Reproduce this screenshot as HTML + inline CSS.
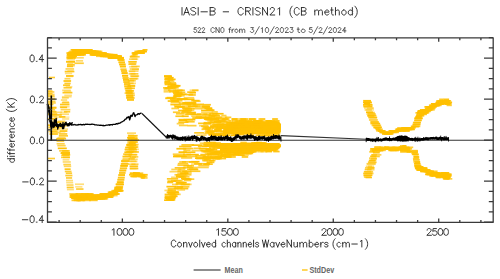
<!DOCTYPE html>
<html><head><meta charset="utf-8"><style>
html,body{margin:0;padding:0;background:#fff;width:500px;height:279px;overflow:hidden}
svg{display:block}
</style></head><body>
<svg width="500" height="279" viewBox="0 0 500 279">
<rect width="500" height="279" fill="#fff"/>
<g fill="#ffc000">
<polygon points="70.0,54.5 71.5,51.8 73.5,50.0 76.0,49.2 85.0,49.4 95.0,50.4 103.0,52.2 110.0,53.8 117.0,55.2 121.0,57.5 123.0,61.0 117.0,58.2 110.0,57.2 103.0,56.2 95.0,54.6 85.0,53.0 78.0,54.0 75.0,56.5 72.0,58.0 70.0,58.5" fill="#ffc000"/>
<polygon points="133.0,52.8 137.0,51.5 141.0,50.3 145.0,49.8 145.0,52.3 138.0,54.3 133.0,55.3" fill="#ffc000"/>
<polygon points="71.0,194.5 75.0,194.8 80.0,195.2 85.0,194.8 95.0,195.6 105.0,194.8 110.0,193.3 115.0,191.3 118.0,188.5 120.0,189.5 118.0,192.8 115.0,194.6 110.0,196.6 105.0,198.2 95.0,199.2 80.0,199.8 74.0,199.6 71.0,198.8" fill="#ffc000"/>
<polygon points="133.0,172.0 138.0,172.5 145.0,174.5 145.0,177.3 140.0,177.3 133.0,175.5" fill="#ffc000"/>
<polygon points="226.0,125.0 235.0,121.5 245.0,121.0 256.0,120.5 265.0,121.5 275.0,121.0 279.0,121.5 281.0,124.0 281.0,132.0 279.0,134.0 222.0,134.0" fill="#ffc000"/>
<polygon points="220.0,143.0 279.0,143.0 281.0,144.5 281.0,147.0 279.0,148.5 255.0,149.0 245.0,153.5 230.0,153.0 220.0,152.0" fill="#ffc000"/>
<polygon points="364.0,102.3 370.0,102.8 370.0,106.2 364.0,104.2" fill="#ffc000"/>
<polygon points="378.0,128.3 385.0,132.1 390.0,132.1 395.0,130.3 400.0,128.6 405.0,127.6 410.0,128.0 414.0,126.8 414.0,129.7 410.0,130.0 405.0,130.0 400.0,131.0 395.0,132.5 390.0,133.7 385.0,134.0 378.0,130.7" fill="#ffc000"/>
<polygon points="419.0,112.8 422.0,111.1 428.0,107.3 435.0,102.8 442.0,99.8 446.0,100.1 450.0,101.8 450.0,104.7 446.0,103.5 442.0,103.2 435.0,106.7 428.0,111.2 422.0,115.2 419.0,118.2" fill="#ffc000"/>
<polygon points="372.0,149.0 375.0,147.6 385.0,147.6 395.0,147.1 400.0,146.5 405.0,146.5 410.0,147.3 410.0,152.2 405.0,151.2 400.0,151.0 397.0,149.5 390.0,149.0 380.0,149.5 372.0,151.2" fill="#ffc000"/>
<polygon points="417.0,165.8 420.0,166.8 430.0,170.6 440.0,173.4 447.0,173.3 450.0,173.8 450.0,178.7 447.0,179.0 440.0,177.0 430.0,174.7 420.0,169.7 417.0,167.7" fill="#ffc000"/>
<rect x="68.0" y="51.5" width="7.0" height="1.7" fill-opacity="0.68"/>
<rect x="67.5" y="53.3" width="7.5" height="1.7" fill-opacity="0.71"/>
<rect x="67.0" y="55.6" width="8.0" height="1.7" fill-opacity="0.60"/>
<rect x="66.6" y="58.5" width="8.4" height="1.7" fill-opacity="0.47"/>
<rect x="66.1" y="60.9" width="8.9" height="1.7" fill-opacity="0.76"/>
<rect x="67.3" y="62.8" width="6.1" height="1.7" fill-opacity="0.55"/>
<rect x="66.9" y="65.5" width="6.1" height="1.7" fill-opacity="0.87"/>
<rect x="65.5" y="68.1" width="8.6" height="1.7" fill-opacity="0.68"/>
<rect x="64.7" y="70.7" width="9.7" height="1.7" fill-opacity="0.87"/>
<rect x="64.9" y="72.6" width="7.3" height="1.7" fill-opacity="0.49"/>
<rect x="66.0" y="75.1" width="7.6" height="1.7" fill-opacity="0.93"/>
<rect x="64.5" y="77.9" width="6.0" height="1.7" fill-opacity="0.68"/>
<rect x="63.5" y="80.1" width="7.6" height="1.7" fill-opacity="0.84"/>
<rect x="64.4" y="82.7" width="6.3" height="1.7" fill-opacity="0.83"/>
<rect x="63.0" y="84.4" width="7.0" height="1.7" fill-opacity="0.85"/>
<rect x="63.5" y="86.9" width="8.2" height="1.7" fill-opacity="0.82"/>
<rect x="62.2" y="89.5" width="8.6" height="1.7" fill-opacity="0.56"/>
<rect x="62.5" y="91.8" width="9.9" height="1.7" fill-opacity="0.89"/>
<rect x="64.3" y="94.5" width="7.6" height="1.7" fill-opacity="0.50"/>
<rect x="61.9" y="97.0" width="6.9" height="1.7" fill-opacity="0.61"/>
<rect x="60.9" y="99.2" width="6.3" height="1.7" fill-opacity="0.57"/>
<rect x="61.8" y="101.9" width="7.5" height="1.7" fill-opacity="0.69"/>
<rect x="60.0" y="103.7" width="9.5" height="1.7" fill-opacity="0.90"/>
<rect x="60.1" y="106.5" width="7.0" height="1.7" fill-opacity="0.92"/>
<rect x="60.6" y="108.8" width="9.8" height="1.7" fill-opacity="0.66"/>
<rect x="64.0" y="110.9" width="6.2" height="1.7" fill-opacity="0.80"/>
<rect x="59.7" y="113.4" width="9.3" height="1.7" fill-opacity="0.54"/>
<rect x="59.1" y="116.0" width="6.3" height="1.7" fill-opacity="0.88"/>
<rect x="62.1" y="118.1" width="7.1" height="1.7" fill-opacity="0.46"/>
<rect x="57.5" y="120.5" width="7.8" height="1.7" fill-opacity="0.63"/>
<rect x="59.0" y="123.5" width="6.5" height="1.7" fill-opacity="0.94"/>
<rect x="58.8" y="125.3" width="8.8" height="1.7" fill-opacity="0.47"/>
<rect x="58.4" y="128.3" width="9.6" height="1.7" fill-opacity="0.46"/>
<rect x="59.5" y="130.2" width="7.9" height="1.7" fill-opacity="0.95"/>
<rect x="59.1" y="133.1" width="8.2" height="1.7" fill-opacity="0.82"/>
<rect x="58.8" y="135.0" width="9.2" height="1.7" fill-opacity="0.79"/>
<rect x="56.6" y="137.8" width="9.5" height="1.7" fill-opacity="0.88"/>
<rect x="68.0" y="55.1" width="8.0" height="1.7" fill-opacity="0.47"/>
<rect x="68.4" y="60.6" width="6.3" height="1.7" fill-opacity="0.56"/>
<rect x="67.1" y="65.4" width="7.6" height="1.7" fill-opacity="0.43"/>
<rect x="67.4" y="70.1" width="6.3" height="1.7" fill-opacity="0.48"/>
<rect x="66.2" y="75.5" width="6.9" height="1.7" fill-opacity="0.48"/>
<rect x="63.8" y="80.5" width="7.0" height="1.7" fill-opacity="0.50"/>
<rect x="65.7" y="85.9" width="6.7" height="1.7" fill-opacity="0.43"/>
<rect x="63.9" y="90.6" width="7.3" height="1.7" fill-opacity="0.43"/>
<rect x="61.9" y="95.9" width="9.7" height="1.7" fill-opacity="0.47"/>
<rect x="62.4" y="101.3" width="6.5" height="1.7" fill-opacity="0.55"/>
<rect x="59.8" y="105.9" width="9.8" height="1.7" fill-opacity="0.44"/>
<rect x="60.5" y="111.4" width="6.9" height="1.7" fill-opacity="0.45"/>
<rect x="60.0" y="116.3" width="9.4" height="1.7" fill-opacity="0.32"/>
<rect x="57.1" y="121.6" width="9.5" height="1.7" fill-opacity="0.47"/>
<rect x="56.2" y="126.3" width="9.2" height="1.7" fill-opacity="0.44"/>
<rect x="56.0" y="131.4" width="9.3" height="1.7" fill-opacity="0.31"/>
<rect x="57.6" y="136.9" width="7.8" height="1.7" fill-opacity="0.54"/>
<rect x="49.0" y="76.7" width="6.0" height="1.6" fill-opacity="0.80"/>
<rect x="47.5" y="90.2" width="5.0" height="1.6" fill-opacity="0.80"/>
<rect x="47.5" y="92.7" width="5.0" height="1.6" fill-opacity="0.80"/>
<rect x="47.5" y="95.2" width="7.0" height="1.6" fill-opacity="0.80"/>
<rect x="47.5" y="103.7" width="6.0" height="1.6" fill-opacity="0.80"/>
<rect x="47.5" y="107.2" width="6.0" height="1.6" fill-opacity="0.80"/>
<rect x="48.0" y="157.7" width="7.0" height="1.6" fill-opacity="0.80"/>
<rect x="47.5" y="91.1" width="6.8" height="1.7" fill-opacity="0.36"/>
<rect x="47.5" y="91.1" width="6.8" height="1.7" fill-opacity="0.49"/>
<rect x="47.5" y="93.6" width="7.1" height="1.7" fill-opacity="0.66"/>
<rect x="47.5" y="96.1" width="7.4" height="1.7" fill-opacity="0.39"/>
<rect x="47.5" y="98.1" width="7.7" height="1.7" fill-opacity="0.80"/>
<rect x="47.5" y="100.5" width="8.0" height="1.7" fill-opacity="0.75"/>
<rect x="47.5" y="102.1" width="8.3" height="1.7" fill-opacity="0.71"/>
<rect x="47.5" y="107.1" width="8.9" height="1.7" fill-opacity="0.84"/>
<rect x="47.5" y="106.6" width="8.9" height="1.7" fill-opacity="0.80"/>
<rect x="48.8" y="109.0" width="6.3" height="1.7" fill-opacity="0.73"/>
<rect x="50.2" y="110.8" width="6.1" height="1.7" fill-opacity="0.75"/>
<rect x="49.2" y="110.9" width="7.3" height="1.7" fill-opacity="0.42"/>
<rect x="48.2" y="113.5" width="8.9" height="1.7" fill-opacity="0.82"/>
<rect x="47.5" y="113.0" width="9.8" height="1.7" fill-opacity="0.46"/>
<rect x="49.6" y="115.7" width="7.2" height="1.7" fill-opacity="0.61"/>
<rect x="48.6" y="118.0" width="7.2" height="1.7" fill-opacity="0.80"/>
<rect x="48.3" y="117.8" width="9.4" height="1.7" fill-opacity="0.64"/>
<rect x="48.7" y="120.0" width="8.1" height="1.7" fill-opacity="0.36"/>
<rect x="50.0" y="122.2" width="7.6" height="1.7" fill-opacity="0.60"/>
<rect x="48.7" y="124.7" width="8.2" height="1.7" fill-opacity="0.81"/>
<rect x="47.9" y="124.3" width="7.9" height="1.7" fill-opacity="0.76"/>
<rect x="48.3" y="126.6" width="7.3" height="1.7" fill-opacity="0.81"/>
<rect x="47.6" y="128.5" width="9.1" height="1.7" fill-opacity="0.46"/>
<rect x="50.2" y="130.6" width="7.4" height="1.7" fill-opacity="0.72"/>
<rect x="48.4" y="130.7" width="8.0" height="1.7" fill-opacity="0.62"/>
<rect x="49.4" y="133.2" width="7.5" height="1.7" fill-opacity="0.43"/>
<rect x="49.7" y="133.2" width="8.5" height="1.7" fill-opacity="0.78"/>
<rect x="52.8" y="111.5" width="9.0" height="1.7" fill-opacity="0.56"/>
<rect x="52.1" y="114.1" width="9.7" height="1.7" fill-opacity="0.84"/>
<rect x="54.2" y="116.2" width="7.0" height="1.7" fill-opacity="0.45"/>
<rect x="52.1" y="121.5" width="9.2" height="1.7" fill-opacity="0.74"/>
<rect x="54.2" y="124.5" width="6.8" height="1.7" fill-opacity="0.88"/>
<rect x="53.5" y="126.8" width="8.0" height="1.7" fill-opacity="0.74"/>
<rect x="52.4" y="129.0" width="6.3" height="1.7" fill-opacity="0.68"/>
<rect x="52.3" y="131.7" width="8.3" height="1.7" fill-opacity="0.50"/>
<rect x="66.9" y="53.9" width="5.2" height="1.7" fill-opacity="0.99"/>
<rect x="66.3" y="57.0" width="6.3" height="1.7" fill-opacity="0.84"/>
<rect x="66.4" y="55.4" width="7.4" height="1.7" fill-opacity="0.70"/>
<rect x="67.2" y="57.0" width="5.7" height="1.7" fill-opacity="0.84"/>
<rect x="67.8" y="53.9" width="5.8" height="1.7" fill-opacity="0.75"/>
<rect x="66.4" y="52.2" width="8.6" height="1.7" fill-opacity="0.94"/>
<rect x="67.5" y="57.0" width="7.5" height="1.7" fill-opacity="0.82"/>
<rect x="66.8" y="53.9" width="8.9" height="1.7" fill-opacity="0.94"/>
<rect x="67.9" y="57.0" width="8.0" height="1.7" fill-opacity="0.93"/>
<rect x="67.6" y="52.2" width="8.6" height="1.7" fill-opacity="0.96"/>
<rect x="68.5" y="55.4" width="8.1" height="1.7" fill-opacity="0.82"/>
<rect x="69.3" y="50.6" width="6.4" height="1.7" fill-opacity="0.84"/>
<rect x="69.3" y="52.2" width="7.6" height="1.7" fill-opacity="0.89"/>
<rect x="69.3" y="55.4" width="7.7" height="1.7" fill-opacity="0.80"/>
<rect x="70.1" y="53.9" width="7.1" height="1.7" fill-opacity="0.82"/>
<rect x="69.8" y="53.9" width="7.8" height="1.7" fill-opacity="0.93"/>
<rect x="70.6" y="49.0" width="7.5" height="1.7" fill-opacity="0.92"/>
<rect x="71.7" y="52.2" width="5.2" height="1.7" fill-opacity="0.76"/>
<rect x="71.9" y="49.0" width="6.0" height="1.7" fill-opacity="0.97"/>
<rect x="70.5" y="52.2" width="8.9" height="1.7" fill-opacity="0.87"/>
<rect x="71.4" y="52.2" width="8.2" height="1.7" fill-opacity="0.72"/>
<rect x="72.9" y="53.9" width="5.2" height="1.7" fill-opacity="0.98"/>
<rect x="73.3" y="52.2" width="5.7" height="1.7" fill-opacity="0.85"/>
<rect x="71.7" y="49.0" width="8.8" height="1.7" fill-opacity="0.83"/>
<rect x="73.5" y="52.2" width="6.5" height="1.7" fill-opacity="0.79"/>
<rect x="73.6" y="52.2" width="6.1" height="1.7" fill-opacity="0.91"/>
<rect x="74.3" y="49.0" width="6.0" height="1.7" fill-opacity="0.71"/>
<rect x="74.0" y="53.9" width="6.6" height="1.7" fill-opacity="0.97"/>
<rect x="73.4" y="49.0" width="9.0" height="1.7" fill-opacity="0.98"/>
<rect x="74.5" y="53.9" width="6.7" height="1.7" fill-opacity="0.84"/>
<rect x="75.0" y="50.6" width="7.1" height="1.7" fill-opacity="0.98"/>
<rect x="74.0" y="50.6" width="8.9" height="1.7" fill-opacity="0.95"/>
<rect x="75.4" y="49.0" width="7.5" height="1.7" fill-opacity="0.84"/>
<rect x="75.5" y="49.0" width="7.1" height="1.7" fill-opacity="0.74"/>
<rect x="76.3" y="52.2" width="6.8" height="1.7" fill-opacity="0.78"/>
<rect x="75.6" y="50.6" width="8.1" height="1.7" fill-opacity="0.86"/>
<rect x="76.3" y="53.9" width="7.9" height="1.7" fill-opacity="0.77"/>
<rect x="76.2" y="53.9" width="8.1" height="1.7" fill-opacity="0.89"/>
<rect x="77.0" y="50.6" width="7.7" height="1.7" fill-opacity="0.87"/>
<rect x="76.9" y="52.2" width="8.0" height="1.7" fill-opacity="0.76"/>
<rect x="77.2" y="53.9" width="8.7" height="1.7" fill-opacity="0.96"/>
<rect x="78.5" y="49.0" width="6.1" height="1.7" fill-opacity="0.83"/>
<rect x="78.5" y="49.0" width="7.2" height="1.7" fill-opacity="0.72"/>
<rect x="78.5" y="52.2" width="7.2" height="1.7" fill-opacity="0.89"/>
<rect x="79.8" y="50.6" width="5.8" height="1.7" fill-opacity="0.80"/>
<rect x="80.1" y="52.2" width="5.3" height="1.7" fill-opacity="0.74"/>
<rect x="79.3" y="50.6" width="8.1" height="1.7" fill-opacity="0.76"/>
<rect x="79.2" y="49.0" width="8.2" height="1.7" fill-opacity="0.81"/>
<rect x="80.7" y="52.2" width="6.3" height="1.7" fill-opacity="0.86"/>
<rect x="80.5" y="52.2" width="6.7" height="1.7" fill-opacity="0.81"/>
<rect x="81.8" y="52.2" width="5.3" height="1.7" fill-opacity="0.72"/>
<rect x="80.6" y="50.6" width="7.7" height="1.7" fill-opacity="0.79"/>
<rect x="82.2" y="49.0" width="5.9" height="1.7" fill-opacity="0.90"/>
<rect x="81.2" y="49.0" width="7.9" height="1.7" fill-opacity="0.91"/>
<rect x="82.5" y="49.0" width="6.4" height="1.7" fill-opacity="0.92"/>
<rect x="81.8" y="49.0" width="7.8" height="1.7" fill-opacity="0.87"/>
<rect x="82.0" y="52.2" width="8.7" height="1.7" fill-opacity="0.83"/>
<rect x="83.2" y="50.6" width="6.3" height="1.7" fill-opacity="0.82"/>
<rect x="83.9" y="52.2" width="6.0" height="1.7" fill-opacity="0.81"/>
<rect x="83.6" y="50.6" width="6.6" height="1.7" fill-opacity="0.82"/>
<rect x="83.4" y="50.6" width="8.2" height="1.7" fill-opacity="0.86"/>
<rect x="84.6" y="50.6" width="5.7" height="1.7" fill-opacity="0.93"/>
<rect x="85.6" y="50.6" width="5.1" height="1.7" fill-opacity="0.85"/>
<rect x="83.7" y="50.6" width="8.9" height="1.7" fill-opacity="0.90"/>
<rect x="85.1" y="49.0" width="7.2" height="1.7" fill-opacity="0.94"/>
<rect x="84.7" y="49.0" width="7.9" height="1.7" fill-opacity="0.97"/>
<rect x="86.5" y="52.2" width="5.6" height="1.7" fill-opacity="0.92"/>
<rect x="86.4" y="50.6" width="5.9" height="1.7" fill-opacity="0.93"/>
<rect x="86.6" y="52.2" width="6.6" height="1.7" fill-opacity="0.80"/>
<rect x="86.4" y="52.2" width="7.0" height="1.7" fill-opacity="0.86"/>
<rect x="86.2" y="52.2" width="8.7" height="1.7" fill-opacity="0.82"/>
<rect x="86.3" y="52.2" width="8.4" height="1.7" fill-opacity="0.94"/>
<rect x="86.7" y="52.2" width="8.8" height="1.7" fill-opacity="0.89"/>
<rect x="87.0" y="52.2" width="8.2" height="1.7" fill-opacity="0.83"/>
<rect x="87.7" y="50.6" width="8.0" height="1.7" fill-opacity="1.00"/>
<rect x="88.8" y="50.6" width="5.8" height="1.7" fill-opacity="0.83"/>
<rect x="89.7" y="53.9" width="5.2" height="1.7" fill-opacity="0.79"/>
<rect x="88.2" y="52.2" width="8.1" height="1.7" fill-opacity="0.75"/>
<rect x="89.2" y="52.2" width="7.3" height="1.7" fill-opacity="0.97"/>
<rect x="90.0" y="50.6" width="5.7" height="1.7" fill-opacity="0.77"/>
<rect x="89.8" y="52.2" width="7.4" height="1.7" fill-opacity="0.77"/>
<rect x="90.7" y="50.6" width="5.7" height="1.7" fill-opacity="0.93"/>
<rect x="90.0" y="52.2" width="8.3" height="1.7" fill-opacity="0.84"/>
<rect x="89.8" y="53.9" width="8.7" height="1.7" fill-opacity="0.80"/>
<rect x="91.2" y="53.9" width="6.9" height="1.7" fill-opacity="0.77"/>
<rect x="90.6" y="53.9" width="8.2" height="1.7" fill-opacity="0.82"/>
<rect x="92.3" y="52.2" width="6.1" height="1.7" fill-opacity="1.00"/>
<rect x="92.8" y="50.6" width="5.0" height="1.7" fill-opacity="0.84"/>
<rect x="92.0" y="53.9" width="7.9" height="1.7" fill-opacity="0.88"/>
<rect x="92.8" y="50.6" width="6.3" height="1.7" fill-opacity="0.78"/>
<rect x="92.7" y="52.2" width="7.5" height="1.7" fill-opacity="1.00"/>
<rect x="93.7" y="52.2" width="5.6" height="1.7" fill-opacity="0.93"/>
<rect x="92.9" y="53.9" width="8.4" height="1.7" fill-opacity="0.95"/>
<rect x="93.2" y="50.6" width="7.9" height="1.7" fill-opacity="0.73"/>
<rect x="93.3" y="52.2" width="8.8" height="1.7" fill-opacity="0.88"/>
<rect x="93.6" y="52.2" width="8.2" height="1.7" fill-opacity="0.83"/>
<rect x="94.1" y="50.6" width="8.3" height="1.7" fill-opacity="0.76"/>
<rect x="95.5" y="52.2" width="5.6" height="1.7" fill-opacity="0.95"/>
<rect x="96.2" y="52.2" width="5.3" height="1.7" fill-opacity="0.79"/>
<rect x="95.7" y="53.9" width="6.4" height="1.7" fill-opacity="0.91"/>
<rect x="96.1" y="52.2" width="6.8" height="1.7" fill-opacity="0.99"/>
<rect x="97.0" y="53.9" width="5.0" height="1.7" fill-opacity="0.81"/>
<rect x="96.5" y="52.2" width="7.3" height="1.7" fill-opacity="0.84"/>
<rect x="96.0" y="55.4" width="8.2" height="1.7" fill-opacity="0.76"/>
<rect x="97.4" y="52.2" width="6.5" height="1.7" fill-opacity="0.86"/>
<rect x="97.4" y="52.2" width="6.6" height="1.7" fill-opacity="0.90"/>
<rect x="97.3" y="52.2" width="7.9" height="1.7" fill-opacity="0.80"/>
<rect x="97.4" y="53.9" width="7.9" height="1.7" fill-opacity="0.80"/>
<rect x="99.1" y="52.2" width="5.6" height="1.7" fill-opacity="0.73"/>
<rect x="99.0" y="53.9" width="5.7" height="1.7" fill-opacity="0.82"/>
<rect x="99.8" y="53.9" width="5.4" height="1.7" fill-opacity="0.77"/>
<rect x="99.2" y="52.2" width="6.6" height="1.7" fill-opacity="0.72"/>
<rect x="99.6" y="53.9" width="7.0" height="1.7" fill-opacity="0.89"/>
<rect x="99.8" y="55.4" width="6.5" height="1.7" fill-opacity="0.80"/>
<rect x="100.4" y="52.2" width="6.6" height="1.7" fill-opacity="0.91"/>
<rect x="99.9" y="55.4" width="7.6" height="1.7" fill-opacity="0.88"/>
<rect x="101.1" y="53.9" width="6.4" height="1.7" fill-opacity="0.90"/>
<rect x="100.8" y="53.9" width="7.0" height="1.7" fill-opacity="0.94"/>
<rect x="102.1" y="53.9" width="5.6" height="1.7" fill-opacity="0.93"/>
<rect x="101.7" y="53.9" width="6.4" height="1.7" fill-opacity="0.85"/>
<rect x="101.0" y="55.4" width="8.9" height="1.7" fill-opacity="0.85"/>
<rect x="102.6" y="55.4" width="5.8" height="1.7" fill-opacity="0.98"/>
<rect x="103.4" y="53.9" width="5.3" height="1.7" fill-opacity="0.77"/>
<rect x="102.9" y="55.4" width="6.3" height="1.7" fill-opacity="0.98"/>
<rect x="104.0" y="53.9" width="5.5" height="1.7" fill-opacity="0.99"/>
<rect x="103.1" y="55.4" width="7.2" height="1.7" fill-opacity="0.87"/>
<rect x="103.0" y="53.9" width="8.6" height="1.7" fill-opacity="1.00"/>
<rect x="104.6" y="55.4" width="5.5" height="1.7" fill-opacity="0.95"/>
<rect x="104.9" y="55.4" width="6.0" height="1.7" fill-opacity="0.87"/>
<rect x="104.3" y="53.9" width="7.2" height="1.7" fill-opacity="0.72"/>
<rect x="104.0" y="53.9" width="8.9" height="1.7" fill-opacity="0.98"/>
<rect x="104.7" y="53.9" width="7.7" height="1.7" fill-opacity="0.92"/>
<rect x="105.0" y="55.4" width="8.2" height="1.7" fill-opacity="0.70"/>
<rect x="106.3" y="55.4" width="5.6" height="1.7" fill-opacity="0.82"/>
<rect x="106.2" y="53.9" width="7.1" height="1.7" fill-opacity="0.78"/>
<rect x="105.9" y="53.9" width="7.6" height="1.7" fill-opacity="0.71"/>
<rect x="105.9" y="53.9" width="8.8" height="1.7" fill-opacity="0.88"/>
<rect x="106.6" y="55.4" width="7.5" height="1.7" fill-opacity="0.91"/>
<rect x="107.4" y="55.4" width="6.9" height="1.7" fill-opacity="1.00"/>
<rect x="107.6" y="57.0" width="6.6" height="1.7" fill-opacity="0.83"/>
<rect x="107.9" y="57.0" width="7.1" height="1.7" fill-opacity="0.86"/>
<rect x="108.4" y="57.0" width="6.3" height="1.7" fill-opacity="0.72"/>
<rect x="108.1" y="57.0" width="7.9" height="1.7" fill-opacity="0.88"/>
<rect x="108.4" y="55.4" width="7.4" height="1.7" fill-opacity="0.72"/>
<rect x="109.2" y="55.4" width="7.0" height="1.7" fill-opacity="0.82"/>
<rect x="109.1" y="55.4" width="7.1" height="1.7" fill-opacity="0.77"/>
<rect x="110.3" y="55.4" width="5.9" height="1.7" fill-opacity="0.72"/>
<rect x="109.5" y="57.0" width="7.7" height="1.7" fill-opacity="0.96"/>
<rect x="111.0" y="57.0" width="5.9" height="1.7" fill-opacity="0.92"/>
<rect x="111.2" y="57.0" width="5.4" height="1.7" fill-opacity="0.94"/>
<rect x="110.1" y="55.4" width="8.8" height="1.7" fill-opacity="0.70"/>
<rect x="111.4" y="55.4" width="6.3" height="1.7" fill-opacity="0.72"/>
<rect x="111.8" y="57.0" width="6.6" height="1.7" fill-opacity="0.81"/>
<rect x="112.5" y="53.9" width="5.1" height="1.7" fill-opacity="0.97"/>
<rect x="111.3" y="55.4" width="8.7" height="1.7" fill-opacity="0.99"/>
<rect x="112.6" y="55.4" width="6.2" height="1.7" fill-opacity="0.98"/>
<rect x="112.1" y="55.4" width="8.4" height="1.7" fill-opacity="0.81"/>
<rect x="112.0" y="55.4" width="8.5" height="1.7" fill-opacity="1.00"/>
<rect x="114.0" y="57.0" width="5.8" height="1.7" fill-opacity="0.96"/>
<rect x="112.9" y="55.4" width="7.9" height="1.7" fill-opacity="0.79"/>
<rect x="113.6" y="57.0" width="7.9" height="1.7" fill-opacity="0.74"/>
<rect x="114.1" y="57.0" width="6.8" height="1.7" fill-opacity="0.72"/>
<rect x="114.2" y="55.4" width="7.8" height="1.7" fill-opacity="0.76"/>
<rect x="114.3" y="55.4" width="7.7" height="1.7" fill-opacity="0.94"/>
<rect x="114.4" y="57.0" width="8.5" height="1.7" fill-opacity="0.88"/>
<rect x="114.3" y="57.0" width="8.7" height="1.7" fill-opacity="0.90"/>
<rect x="116.6" y="57.0" width="5.4" height="1.7" fill-opacity="0.99"/>
<rect x="115.7" y="57.0" width="7.1" height="1.7" fill-opacity="0.71"/>
<rect x="116.9" y="57.0" width="6.0" height="1.7" fill-opacity="0.94"/>
<rect x="115.9" y="57.0" width="8.0" height="1.7" fill-opacity="0.77"/>
<rect x="117.6" y="58.6" width="5.7" height="1.7" fill-opacity="0.97"/>
<rect x="117.1" y="57.0" width="6.8" height="1.7" fill-opacity="0.93"/>
<rect x="74.1" y="56.9" width="9.7" height="1.7" fill-opacity="0.60"/>
<rect x="75.7" y="60.0" width="7.4" height="1.7" fill-opacity="0.58"/>
<rect x="74.4" y="62.4" width="9.4" height="1.7" fill-opacity="0.78"/>
<rect x="66.0" y="60.9" width="9.0" height="1.7" fill-opacity="0.74"/>
<rect x="67.0" y="64.0" width="7.8" height="1.7" fill-opacity="0.82"/>
<rect x="117.0" y="56.9" width="7.0" height="1.7" fill-opacity="0.81"/>
<rect x="117.5" y="57.3" width="6.1" height="1.7" fill-opacity="0.81"/>
<rect x="117.7" y="59.0" width="6.7" height="1.7" fill-opacity="0.77"/>
<rect x="117.7" y="59.2" width="6.8" height="1.7" fill-opacity="0.91"/>
<rect x="118.5" y="61.6" width="6.5" height="1.7" fill-opacity="0.79"/>
<rect x="118.5" y="61.3" width="6.5" height="1.7" fill-opacity="0.69"/>
<rect x="119.2" y="63.8" width="6.3" height="1.7" fill-opacity="0.79"/>
<rect x="119.2" y="63.4" width="6.3" height="1.7" fill-opacity="0.92"/>
<rect x="119.9" y="65.7" width="6.0" height="1.7" fill-opacity="0.86"/>
<rect x="119.9" y="65.6" width="6.0" height="1.7" fill-opacity="0.73"/>
<rect x="120.5" y="68.5" width="6.0" height="1.7" fill-opacity="0.57"/>
<rect x="120.5" y="68.5" width="6.0" height="1.7" fill-opacity="0.62"/>
<rect x="121.1" y="70.0" width="6.0" height="1.7" fill-opacity="0.66"/>
<rect x="121.1" y="70.3" width="6.0" height="1.7" fill-opacity="0.68"/>
<rect x="121.6" y="72.2" width="6.0" height="1.7" fill-opacity="1.00"/>
<rect x="121.6" y="72.3" width="6.0" height="1.7" fill-opacity="0.66"/>
<rect x="122.1" y="74.7" width="6.0" height="1.7" fill-opacity="0.97"/>
<rect x="122.1" y="75.1" width="6.0" height="1.7" fill-opacity="0.82"/>
<rect x="122.6" y="77.1" width="6.0" height="1.7" fill-opacity="0.58"/>
<rect x="122.6" y="77.2" width="6.0" height="1.7" fill-opacity="0.82"/>
<rect x="123.0" y="79.1" width="6.0" height="1.7" fill-opacity="0.93"/>
<rect x="123.0" y="78.9" width="6.0" height="1.7" fill-opacity="0.71"/>
<rect x="123.4" y="81.1" width="6.2" height="1.7" fill-opacity="0.64"/>
<rect x="123.4" y="81.2" width="6.2" height="1.7" fill-opacity="0.75"/>
<rect x="123.9" y="83.8" width="6.4" height="1.7" fill-opacity="0.64"/>
<rect x="124.0" y="83.4" width="6.3" height="1.7" fill-opacity="0.67"/>
<rect x="124.3" y="85.6" width="6.7" height="1.7" fill-opacity="0.73"/>
<rect x="124.3" y="85.6" width="6.7" height="1.7" fill-opacity="0.71"/>
<rect x="124.8" y="87.8" width="6.9" height="1.7" fill-opacity="0.89"/>
<rect x="124.8" y="87.6" width="6.9" height="1.7" fill-opacity="0.69"/>
<rect x="125.8" y="90.0" width="6.3" height="1.7" fill-opacity="0.90"/>
<rect x="125.5" y="89.9" width="6.2" height="1.7" fill-opacity="0.57"/>
<rect x="125.6" y="92.0" width="7.0" height="1.7" fill-opacity="0.69"/>
<rect x="125.6" y="92.1" width="7.0" height="1.7" fill-opacity="0.87"/>
<rect x="126.1" y="94.7" width="7.0" height="1.7" fill-opacity="0.62"/>
<rect x="126.1" y="94.7" width="7.0" height="1.7" fill-opacity="0.73"/>
<rect x="126.5" y="96.5" width="7.0" height="1.7" fill-opacity="0.68"/>
<rect x="126.5" y="96.4" width="6.9" height="1.7" fill-opacity="0.83"/>
<rect x="127.0" y="99.3" width="7.0" height="1.7" fill-opacity="0.68"/>
<rect x="127.0" y="98.7" width="7.0" height="1.7" fill-opacity="0.86"/>
<rect x="129.9" y="55.9" width="9.8" height="1.7" fill-opacity="0.77"/>
<rect x="129.7" y="55.8" width="7.7" height="1.7" fill-opacity="0.64"/>
<rect x="129.1" y="58.3" width="8.0" height="1.7" fill-opacity="0.65"/>
<rect x="131.5" y="58.3" width="6.7" height="1.7" fill-opacity="0.50"/>
<rect x="128.7" y="61.0" width="7.7" height="1.7" fill-opacity="0.80"/>
<rect x="128.1" y="60.9" width="8.8" height="1.7" fill-opacity="0.63"/>
<rect x="128.3" y="63.3" width="7.6" height="1.7" fill-opacity="0.74"/>
<rect x="129.2" y="63.0" width="7.3" height="1.7" fill-opacity="0.62"/>
<rect x="129.1" y="65.9" width="8.3" height="1.7" fill-opacity="0.54"/>
<rect x="131.2" y="65.6" width="8.5" height="1.7" fill-opacity="0.74"/>
<rect x="129.7" y="68.2" width="9.1" height="1.7" fill-opacity="0.66"/>
<rect x="131.9" y="68.5" width="7.1" height="1.7" fill-opacity="0.64"/>
<rect x="129.1" y="70.6" width="6.2" height="1.7" fill-opacity="0.60"/>
<rect x="128.6" y="70.3" width="9.9" height="1.7" fill-opacity="0.56"/>
<rect x="128.6" y="73.0" width="6.9" height="1.7" fill-opacity="0.65"/>
<rect x="130.4" y="73.0" width="8.0" height="1.7" fill-opacity="0.76"/>
<rect x="129.9" y="75.2" width="9.3" height="1.7" fill-opacity="0.62"/>
<rect x="131.1" y="75.5" width="7.3" height="1.7" fill-opacity="0.79"/>
<rect x="129.1" y="77.8" width="9.3" height="1.7" fill-opacity="0.70"/>
<rect x="129.7" y="77.9" width="7.5" height="1.7" fill-opacity="0.72"/>
<rect x="128.8" y="79.9" width="7.0" height="1.7" fill-opacity="0.71"/>
<rect x="127.8" y="79.8" width="6.3" height="1.7" fill-opacity="0.80"/>
<rect x="128.2" y="82.5" width="7.8" height="1.7" fill-opacity="0.53"/>
<rect x="124.1" y="82.4" width="9.5" height="1.7" fill-opacity="0.70"/>
<rect x="127.5" y="84.8" width="7.6" height="1.7" fill-opacity="0.81"/>
<rect x="127.9" y="85.2" width="7.3" height="1.7" fill-opacity="0.86"/>
<rect x="127.2" y="87.4" width="7.7" height="1.7" fill-opacity="0.87"/>
<rect x="126.0" y="87.5" width="6.5" height="1.7" fill-opacity="0.57"/>
<rect x="127.5" y="90.1" width="6.1" height="1.7" fill-opacity="0.94"/>
<rect x="125.3" y="89.9" width="8.8" height="1.7" fill-opacity="0.65"/>
<rect x="124.4" y="92.3" width="10.0" height="1.7" fill-opacity="0.51"/>
<rect x="127.5" y="92.5" width="7.1" height="1.7" fill-opacity="0.51"/>
<rect x="127.3" y="94.5" width="6.1" height="1.7" fill-opacity="0.64"/>
<rect x="125.8" y="94.4" width="9.2" height="1.7" fill-opacity="0.65"/>
<rect x="126.2" y="97.3" width="8.4" height="1.7" fill-opacity="0.64"/>
<rect x="126.3" y="96.7" width="8.2" height="1.7" fill-opacity="0.54"/>
<rect x="130.6" y="55.4" width="4.8" height="1.7" fill-opacity="0.85"/>
<rect x="131.6" y="52.2" width="4.1" height="1.7" fill-opacity="0.87"/>
<rect x="131.8" y="53.9" width="4.8" height="1.7" fill-opacity="0.77"/>
<rect x="132.4" y="52.2" width="4.8" height="1.7" fill-opacity="0.72"/>
<rect x="132.9" y="53.9" width="4.9" height="1.7" fill-opacity="0.72"/>
<rect x="132.5" y="52.2" width="7.0" height="1.7" fill-opacity="0.76"/>
<rect x="134.0" y="52.2" width="5.2" height="1.7" fill-opacity="0.94"/>
<rect x="134.4" y="50.6" width="5.7" height="1.7" fill-opacity="0.90"/>
<rect x="134.4" y="52.2" width="6.8" height="1.7" fill-opacity="0.96"/>
<rect x="135.1" y="52.2" width="6.5" height="1.7" fill-opacity="0.92"/>
<rect x="136.7" y="50.6" width="4.5" height="1.7" fill-opacity="0.74"/>
<rect x="136.5" y="50.6" width="6.3" height="1.7" fill-opacity="0.79"/>
<rect x="137.9" y="50.6" width="4.6" height="1.7" fill-opacity="0.99"/>
<rect x="137.6" y="52.2" width="6.4" height="1.7" fill-opacity="0.94"/>
<rect x="138.2" y="50.6" width="6.4" height="1.7" fill-opacity="0.95"/>
<rect x="139.8" y="52.2" width="4.3" height="1.7" fill-opacity="0.99"/>
<rect x="140.2" y="52.2" width="4.8" height="1.7" fill-opacity="0.97"/>
<rect x="140.9" y="50.6" width="4.7" height="1.7" fill-opacity="0.82"/>
<rect x="140.6" y="50.6" width="6.4" height="1.7" fill-opacity="0.81"/>
<rect x="142.0" y="50.6" width="4.8" height="1.7" fill-opacity="0.97"/>
<rect x="142.5" y="49.0" width="5.0" height="1.7" fill-opacity="0.92"/>
<rect x="127.0" y="132.3" width="9.0" height="1.7" fill-opacity="0.59"/>
<rect x="127.7" y="134.4" width="6.6" height="1.7" fill-opacity="0.50"/>
<rect x="127.1" y="136.8" width="7.6" height="1.7" fill-opacity="0.98"/>
<rect x="126.3" y="139.3" width="9.5" height="1.7" fill-opacity="0.55"/>
<rect x="129.9" y="141.1" width="7.7" height="1.7" fill-opacity="0.70"/>
<rect x="126.5" y="143.8" width="6.7" height="1.7" fill-opacity="0.97"/>
<rect x="126.9" y="146.3" width="6.7" height="1.7" fill-opacity="0.57"/>
<rect x="128.5" y="148.0" width="7.5" height="1.7" fill-opacity="0.81"/>
<rect x="127.2" y="150.6" width="9.4" height="1.7" fill-opacity="0.78"/>
<rect x="56.0" y="138.3" width="8.0" height="1.7" fill-opacity="0.70"/>
<rect x="56.5" y="140.2" width="7.7" height="1.7" fill-opacity="0.78"/>
<rect x="56.6" y="142.9" width="8.1" height="1.7" fill-opacity="0.70"/>
<rect x="57.3" y="144.8" width="8.4" height="1.7" fill-opacity="0.71"/>
<rect x="57.8" y="147.5" width="9.0" height="1.7" fill-opacity="0.99"/>
<rect x="59.1" y="150.0" width="9.5" height="1.7" fill-opacity="0.72"/>
<rect x="60.5" y="152.3" width="9.4" height="1.7" fill-opacity="0.91"/>
<rect x="62.2" y="153.9" width="8.0" height="1.7" fill-opacity="0.93"/>
<rect x="63.0" y="156.5" width="7.0" height="1.7" fill-opacity="0.74"/>
<rect x="62.6" y="159.0" width="6.8" height="1.7" fill-opacity="0.49"/>
<rect x="62.7" y="161.1" width="8.1" height="1.7" fill-opacity="0.58"/>
<rect x="63.3" y="163.7" width="7.6" height="1.7" fill-opacity="0.75"/>
<rect x="63.8" y="165.5" width="7.4" height="1.7" fill-opacity="0.65"/>
<rect x="64.6" y="168.3" width="6.1" height="1.7" fill-opacity="0.91"/>
<rect x="64.8" y="170.6" width="6.7" height="1.7" fill-opacity="0.79"/>
<rect x="65.8" y="172.4" width="6.3" height="1.7" fill-opacity="0.80"/>
<rect x="65.3" y="174.7" width="7.1" height="1.7" fill-opacity="0.82"/>
<rect x="66.0" y="177.1" width="6.1" height="1.7" fill-opacity="0.80"/>
<rect x="66.0" y="179.7" width="7.0" height="1.7" fill-opacity="0.55"/>
<rect x="66.2" y="181.8" width="7.0" height="1.7" fill-opacity="0.52"/>
<rect x="66.5" y="184.2" width="7.0" height="1.7" fill-opacity="0.65"/>
<rect x="66.7" y="186.6" width="7.0" height="1.7" fill-opacity="0.85"/>
<rect x="66.9" y="188.7" width="7.0" height="1.7" fill-opacity="0.53"/>
<rect x="62.1" y="150.1" width="7.7" height="1.7" fill-opacity="0.84"/>
<rect x="61.0" y="152.0" width="9.0" height="1.7" fill-opacity="0.91"/>
<rect x="61.2" y="154.4" width="8.3" height="1.7" fill-opacity="0.79"/>
<rect x="61.1" y="156.5" width="8.7" height="1.7" fill-opacity="0.82"/>
<rect x="69.6" y="196.3" width="6.8" height="1.7" fill-opacity="0.72"/>
<rect x="69.6" y="194.7" width="6.8" height="1.7" fill-opacity="0.99"/>
<rect x="69.8" y="196.3" width="7.7" height="1.7" fill-opacity="0.77"/>
<rect x="69.3" y="193.1" width="8.6" height="1.7" fill-opacity="0.78"/>
<rect x="70.1" y="194.7" width="8.3" height="1.7" fill-opacity="0.96"/>
<rect x="71.5" y="196.3" width="5.4" height="1.7" fill-opacity="0.97"/>
<rect x="71.6" y="194.7" width="6.5" height="1.7" fill-opacity="0.92"/>
<rect x="70.5" y="194.7" width="8.6" height="1.7" fill-opacity="0.98"/>
<rect x="72.0" y="196.3" width="6.9" height="1.7" fill-opacity="0.81"/>
<rect x="71.6" y="194.7" width="7.7" height="1.7" fill-opacity="0.88"/>
<rect x="71.5" y="199.5" width="9.0" height="1.7" fill-opacity="0.82"/>
<rect x="72.1" y="196.3" width="7.8" height="1.7" fill-opacity="1.00"/>
<rect x="73.3" y="196.3" width="6.6" height="1.7" fill-opacity="0.90"/>
<rect x="73.7" y="199.5" width="5.8" height="1.7" fill-opacity="0.81"/>
<rect x="73.2" y="194.7" width="8.0" height="1.7" fill-opacity="0.73"/>
<rect x="73.5" y="196.3" width="7.5" height="1.7" fill-opacity="0.92"/>
<rect x="73.8" y="197.9" width="7.9" height="1.7" fill-opacity="0.93"/>
<rect x="75.3" y="196.3" width="5.1" height="1.7" fill-opacity="0.96"/>
<rect x="75.9" y="199.5" width="5.1" height="1.7" fill-opacity="0.81"/>
<rect x="75.7" y="196.3" width="5.4" height="1.7" fill-opacity="0.94"/>
<rect x="76.3" y="196.3" width="5.5" height="1.7" fill-opacity="0.87"/>
<rect x="75.5" y="193.1" width="7.0" height="1.7" fill-opacity="0.79"/>
<rect x="76.3" y="194.7" width="6.7" height="1.7" fill-opacity="0.72"/>
<rect x="76.0" y="196.3" width="7.2" height="1.7" fill-opacity="0.84"/>
<rect x="76.0" y="193.1" width="8.4" height="1.7" fill-opacity="0.75"/>
<rect x="76.9" y="196.3" width="6.6" height="1.7" fill-opacity="0.88"/>
<rect x="77.5" y="199.5" width="6.7" height="1.7" fill-opacity="0.70"/>
<rect x="76.8" y="197.9" width="7.9" height="1.7" fill-opacity="0.91"/>
<rect x="78.8" y="196.3" width="5.1" height="1.7" fill-opacity="0.73"/>
<rect x="77.6" y="199.5" width="7.6" height="1.7" fill-opacity="0.95"/>
<rect x="79.3" y="194.7" width="5.3" height="1.7" fill-opacity="0.78"/>
<rect x="78.8" y="197.9" width="6.3" height="1.7" fill-opacity="0.85"/>
<rect x="78.2" y="197.9" width="8.8" height="1.7" fill-opacity="0.87"/>
<rect x="79.3" y="197.9" width="6.6" height="1.7" fill-opacity="0.79"/>
<rect x="80.0" y="194.7" width="6.5" height="1.7" fill-opacity="0.83"/>
<rect x="79.8" y="194.7" width="6.7" height="1.7" fill-opacity="0.84"/>
<rect x="81.2" y="197.9" width="5.2" height="1.7" fill-opacity="0.86"/>
<rect x="80.9" y="194.7" width="5.9" height="1.7" fill-opacity="0.73"/>
<rect x="80.9" y="194.7" width="6.9" height="1.7" fill-opacity="0.77"/>
<rect x="81.9" y="196.3" width="5.0" height="1.7" fill-opacity="0.82"/>
<rect x="81.3" y="193.1" width="7.4" height="1.7" fill-opacity="0.99"/>
<rect x="81.8" y="196.3" width="6.5" height="1.7" fill-opacity="0.79"/>
<rect x="82.5" y="196.3" width="6.3" height="1.7" fill-opacity="0.85"/>
<rect x="83.0" y="197.9" width="5.2" height="1.7" fill-opacity="0.73"/>
<rect x="82.1" y="194.7" width="8.2" height="1.7" fill-opacity="0.83"/>
<rect x="83.1" y="194.7" width="6.1" height="1.7" fill-opacity="0.90"/>
<rect x="82.6" y="199.5" width="8.3" height="1.7" fill-opacity="0.80"/>
<rect x="82.7" y="197.9" width="8.2" height="1.7" fill-opacity="0.89"/>
<rect x="84.8" y="197.9" width="5.2" height="1.7" fill-opacity="0.89"/>
<rect x="83.6" y="197.9" width="7.6" height="1.7" fill-opacity="0.71"/>
<rect x="84.3" y="197.9" width="7.3" height="1.7" fill-opacity="0.70"/>
<rect x="84.1" y="196.3" width="7.7" height="1.7" fill-opacity="1.00"/>
<rect x="84.5" y="193.1" width="8.1" height="1.7" fill-opacity="0.83"/>
<rect x="85.2" y="194.7" width="6.8" height="1.7" fill-opacity="0.83"/>
<rect x="85.2" y="194.7" width="7.9" height="1.7" fill-opacity="0.72"/>
<rect x="85.4" y="197.9" width="7.7" height="1.7" fill-opacity="0.86"/>
<rect x="86.7" y="194.7" width="6.2" height="1.7" fill-opacity="0.99"/>
<rect x="86.9" y="197.9" width="5.8" height="1.7" fill-opacity="0.82"/>
<rect x="87.7" y="197.9" width="5.5" height="1.7" fill-opacity="0.96"/>
<rect x="87.0" y="193.1" width="6.7" height="1.7" fill-opacity="0.81"/>
<rect x="87.5" y="197.9" width="7.0" height="1.7" fill-opacity="0.91"/>
<rect x="88.3" y="197.9" width="5.4" height="1.7" fill-opacity="0.92"/>
<rect x="88.7" y="196.3" width="5.8" height="1.7" fill-opacity="0.80"/>
<rect x="87.9" y="194.7" width="7.4" height="1.7" fill-opacity="0.86"/>
<rect x="88.0" y="196.3" width="8.4" height="1.7" fill-opacity="0.81"/>
<rect x="87.7" y="196.3" width="8.9" height="1.7" fill-opacity="0.80"/>
<rect x="89.8" y="194.7" width="6.0" height="1.7" fill-opacity="0.92"/>
<rect x="90.2" y="194.7" width="5.3" height="1.7" fill-opacity="0.95"/>
<rect x="90.0" y="197.9" width="6.7" height="1.7" fill-opacity="0.89"/>
<rect x="89.1" y="199.5" width="8.6" height="1.7" fill-opacity="0.84"/>
<rect x="90.0" y="194.7" width="8.0" height="1.7" fill-opacity="0.73"/>
<rect x="91.4" y="197.9" width="5.1" height="1.7" fill-opacity="0.91"/>
<rect x="91.4" y="196.3" width="6.3" height="1.7" fill-opacity="0.75"/>
<rect x="90.5" y="197.9" width="8.2" height="1.7" fill-opacity="0.73"/>
<rect x="92.3" y="194.7" width="5.8" height="1.7" fill-opacity="0.86"/>
<rect x="91.2" y="194.7" width="8.1" height="1.7" fill-opacity="0.87"/>
<rect x="91.9" y="197.9" width="7.8" height="1.7" fill-opacity="0.81"/>
<rect x="92.7" y="197.9" width="6.2" height="1.7" fill-opacity="0.96"/>
<rect x="93.4" y="194.7" width="6.0" height="1.7" fill-opacity="0.71"/>
<rect x="93.3" y="194.7" width="6.2" height="1.7" fill-opacity="0.78"/>
<rect x="94.0" y="196.3" width="6.1" height="1.7" fill-opacity="0.79"/>
<rect x="92.8" y="196.3" width="8.5" height="1.7" fill-opacity="0.75"/>
<rect x="93.9" y="197.9" width="7.4" height="1.7" fill-opacity="0.86"/>
<rect x="93.8" y="196.3" width="7.6" height="1.7" fill-opacity="0.98"/>
<rect x="95.6" y="194.7" width="5.2" height="1.7" fill-opacity="0.98"/>
<rect x="95.2" y="197.9" width="5.9" height="1.7" fill-opacity="0.84"/>
<rect x="94.4" y="197.9" width="8.8" height="1.7" fill-opacity="0.85"/>
<rect x="95.8" y="194.7" width="5.9" height="1.7" fill-opacity="0.98"/>
<rect x="95.6" y="197.9" width="7.6" height="1.7" fill-opacity="0.72"/>
<rect x="95.8" y="194.7" width="7.3" height="1.7" fill-opacity="0.74"/>
<rect x="95.8" y="194.7" width="8.5" height="1.7" fill-opacity="0.72"/>
<rect x="97.4" y="194.7" width="5.1" height="1.7" fill-opacity="0.87"/>
<rect x="96.4" y="196.3" width="8.4" height="1.7" fill-opacity="0.94"/>
<rect x="97.0" y="194.7" width="7.1" height="1.7" fill-opacity="0.76"/>
<rect x="97.7" y="194.7" width="7.0" height="1.7" fill-opacity="0.76"/>
<rect x="97.7" y="196.3" width="6.9" height="1.7" fill-opacity="0.72"/>
<rect x="97.4" y="196.3" width="8.9" height="1.7" fill-opacity="0.87"/>
<rect x="98.6" y="194.7" width="6.3" height="1.7" fill-opacity="0.91"/>
<rect x="98.0" y="197.9" width="8.8" height="1.7" fill-opacity="0.98"/>
<rect x="99.9" y="197.9" width="5.1" height="1.7" fill-opacity="0.85"/>
<rect x="99.3" y="196.3" width="7.5" height="1.7" fill-opacity="0.88"/>
<rect x="99.5" y="194.7" width="7.1" height="1.7" fill-opacity="0.99"/>
<rect x="99.4" y="194.7" width="8.5" height="1.7" fill-opacity="0.99"/>
<rect x="99.4" y="193.1" width="8.3" height="1.7" fill-opacity="0.91"/>
<rect x="100.2" y="196.3" width="8.0" height="1.7" fill-opacity="0.94"/>
<rect x="100.1" y="193.1" width="8.2" height="1.7" fill-opacity="0.99"/>
<rect x="101.6" y="194.7" width="6.3" height="1.7" fill-opacity="0.80"/>
<rect x="101.8" y="196.3" width="6.0" height="1.7" fill-opacity="0.88"/>
<rect x="101.6" y="194.7" width="7.7" height="1.7" fill-opacity="0.84"/>
<rect x="102.5" y="197.9" width="5.7" height="1.7" fill-opacity="0.74"/>
<rect x="101.9" y="194.7" width="8.1" height="1.7" fill-opacity="0.80"/>
<rect x="103.0" y="196.3" width="6.0" height="1.7" fill-opacity="0.86"/>
<rect x="103.7" y="196.3" width="5.7" height="1.7" fill-opacity="0.77"/>
<rect x="102.6" y="194.7" width="7.9" height="1.7" fill-opacity="0.90"/>
<rect x="104.5" y="194.7" width="5.3" height="1.7" fill-opacity="0.93"/>
<rect x="103.9" y="193.1" width="6.7" height="1.7" fill-opacity="1.00"/>
<rect x="103.5" y="194.7" width="8.6" height="1.7" fill-opacity="1.00"/>
<rect x="103.7" y="193.1" width="8.2" height="1.7" fill-opacity="0.93"/>
<rect x="105.1" y="196.3" width="6.5" height="1.7" fill-opacity="0.79"/>
<rect x="104.9" y="196.3" width="6.9" height="1.7" fill-opacity="0.95"/>
<rect x="105.7" y="194.7" width="6.5" height="1.7" fill-opacity="0.72"/>
<rect x="106.1" y="193.1" width="5.8" height="1.7" fill-opacity="0.96"/>
<rect x="106.4" y="196.3" width="6.4" height="1.7" fill-opacity="0.98"/>
<rect x="105.2" y="194.7" width="8.8" height="1.7" fill-opacity="0.76"/>
<rect x="105.9" y="194.7" width="8.5" height="1.7" fill-opacity="0.92"/>
<rect x="107.0" y="193.1" width="6.5" height="1.7" fill-opacity="0.74"/>
<rect x="108.2" y="196.3" width="5.3" height="1.7" fill-opacity="0.76"/>
<rect x="107.7" y="191.5" width="6.2" height="1.7" fill-opacity="0.75"/>
<rect x="107.8" y="193.1" width="7.2" height="1.7" fill-opacity="0.87"/>
<rect x="107.0" y="193.1" width="8.8" height="1.7" fill-opacity="0.72"/>
<rect x="108.9" y="191.5" width="6.2" height="1.7" fill-opacity="0.93"/>
<rect x="109.2" y="193.1" width="5.6" height="1.7" fill-opacity="0.80"/>
<rect x="108.5" y="191.5" width="8.2" height="1.7" fill-opacity="0.99"/>
<rect x="108.4" y="193.1" width="8.4" height="1.7" fill-opacity="0.84"/>
<rect x="108.7" y="194.7" width="8.9" height="1.7" fill-opacity="0.71"/>
<rect x="110.6" y="193.1" width="5.2" height="1.7" fill-opacity="0.75"/>
<rect x="110.9" y="193.1" width="5.8" height="1.7" fill-opacity="0.71"/>
<rect x="110.3" y="193.1" width="7.0" height="1.7" fill-opacity="0.90"/>
<rect x="111.9" y="191.5" width="5.1" height="1.7" fill-opacity="0.79"/>
<rect x="110.7" y="191.5" width="7.5" height="1.7" fill-opacity="0.81"/>
<rect x="111.9" y="193.1" width="6.3" height="1.7" fill-opacity="0.81"/>
<rect x="111.7" y="193.1" width="6.7" height="1.7" fill-opacity="0.86"/>
<rect x="111.3" y="189.9" width="8.7" height="1.7" fill-opacity="0.77"/>
<rect x="111.3" y="193.1" width="8.5" height="1.7" fill-opacity="0.75"/>
<rect x="113.1" y="193.1" width="6.2" height="1.7" fill-opacity="0.75"/>
<rect x="112.5" y="189.9" width="7.3" height="1.7" fill-opacity="0.75"/>
<rect x="114.1" y="188.3" width="5.4" height="1.7" fill-opacity="0.91"/>
<rect x="113.3" y="189.9" width="7.0" height="1.7" fill-opacity="0.98"/>
<rect x="114.9" y="188.3" width="5.0" height="1.7" fill-opacity="0.85"/>
<rect x="113.6" y="189.9" width="7.5" height="1.7" fill-opacity="0.84"/>
<rect x="114.5" y="188.3" width="6.9" height="1.7" fill-opacity="0.89"/>
<rect x="114.6" y="186.7" width="6.8" height="1.7" fill-opacity="0.73"/>
<rect x="114.4" y="186.7" width="8.3" height="1.7" fill-opacity="0.94"/>
<rect x="115.1" y="189.9" width="7.0" height="1.7" fill-opacity="0.83"/>
<rect x="115.7" y="189.9" width="7.0" height="1.7" fill-opacity="0.84"/>
<rect x="115.7" y="189.9" width="7.0" height="1.7" fill-opacity="0.80"/>
<rect x="115.6" y="183.5" width="8.3" height="1.7" fill-opacity="0.94"/>
<rect x="115.9" y="189.9" width="7.7" height="1.7" fill-opacity="0.94"/>
<rect x="75.0" y="183.4" width="9.0" height="1.7" fill-opacity="0.52"/>
<rect x="75.2" y="186.0" width="7.2" height="1.7" fill-opacity="0.46"/>
<rect x="76.1" y="188.2" width="7.4" height="1.7" fill-opacity="0.81"/>
<rect x="128.1" y="135.3" width="8.6" height="1.7" fill-opacity="0.55"/>
<rect x="128.2" y="134.9" width="9.5" height="1.7" fill-opacity="0.85"/>
<rect x="127.6" y="137.2" width="9.9" height="1.7" fill-opacity="0.86"/>
<rect x="128.0" y="137.7" width="9.5" height="1.7" fill-opacity="0.94"/>
<rect x="127.2" y="139.7" width="9.8" height="1.7" fill-opacity="0.69"/>
<rect x="127.5" y="140.0" width="6.1" height="1.7" fill-opacity="0.61"/>
<rect x="127.2" y="142.1" width="9.1" height="1.7" fill-opacity="0.66"/>
<rect x="128.7" y="142.2" width="6.7" height="1.7" fill-opacity="0.97"/>
<rect x="126.6" y="144.2" width="9.7" height="1.7" fill-opacity="0.98"/>
<rect x="126.3" y="144.2" width="9.9" height="1.7" fill-opacity="0.64"/>
<rect x="125.1" y="146.9" width="8.0" height="1.7" fill-opacity="0.77"/>
<rect x="125.5" y="146.4" width="9.0" height="1.7" fill-opacity="0.79"/>
<rect x="124.6" y="148.6" width="7.3" height="1.7" fill-opacity="0.68"/>
<rect x="124.8" y="148.9" width="9.8" height="1.7" fill-opacity="0.70"/>
<rect x="125.8" y="150.9" width="7.9" height="1.7" fill-opacity="0.72"/>
<rect x="124.3" y="151.4" width="9.0" height="1.7" fill-opacity="0.97"/>
<rect x="124.5" y="153.9" width="7.0" height="1.7" fill-opacity="0.76"/>
<rect x="123.1" y="153.3" width="9.1" height="1.7" fill-opacity="0.78"/>
<rect x="122.6" y="155.7" width="8.9" height="1.7" fill-opacity="0.88"/>
<rect x="122.6" y="155.8" width="8.8" height="1.7" fill-opacity="0.55"/>
<rect x="121.8" y="158.5" width="8.7" height="1.7" fill-opacity="0.53"/>
<rect x="122.9" y="158.1" width="7.1" height="1.7" fill-opacity="0.56"/>
<rect x="121.2" y="160.4" width="8.3" height="1.7" fill-opacity="0.82"/>
<rect x="121.2" y="160.1" width="8.3" height="1.7" fill-opacity="0.86"/>
<rect x="121.6" y="162.4" width="6.2" height="1.7" fill-opacity="0.54"/>
<rect x="120.8" y="163.1" width="7.9" height="1.7" fill-opacity="0.93"/>
<rect x="120.3" y="164.9" width="7.6" height="1.7" fill-opacity="0.99"/>
<rect x="120.4" y="165.3" width="7.2" height="1.7" fill-opacity="0.75"/>
<rect x="119.9" y="167.7" width="7.2" height="1.7" fill-opacity="0.63"/>
<rect x="119.9" y="167.3" width="7.2" height="1.7" fill-opacity="0.68"/>
<rect x="119.4" y="169.5" width="6.8" height="1.7" fill-opacity="0.81"/>
<rect x="119.4" y="169.9" width="6.8" height="1.7" fill-opacity="0.73"/>
<rect x="119.0" y="171.9" width="6.5" height="1.7" fill-opacity="0.69"/>
<rect x="119.0" y="172.2" width="6.5" height="1.7" fill-opacity="0.70"/>
<rect x="118.4" y="174.1" width="6.6" height="1.7" fill-opacity="0.86"/>
<rect x="118.4" y="174.4" width="6.6" height="1.7" fill-opacity="0.72"/>
<rect x="117.9" y="176.8" width="6.8" height="1.7" fill-opacity="0.77"/>
<rect x="117.9" y="176.7" width="6.8" height="1.7" fill-opacity="0.51"/>
<rect x="117.4" y="178.7" width="6.9" height="1.7" fill-opacity="0.81"/>
<rect x="117.4" y="179.2" width="6.9" height="1.7" fill-opacity="0.60"/>
<rect x="117.3" y="181.4" width="6.2" height="1.7" fill-opacity="0.92"/>
<rect x="116.8" y="181.3" width="7.0" height="1.7" fill-opacity="0.88"/>
<rect x="116.3" y="183.3" width="7.2" height="1.7" fill-opacity="0.85"/>
<rect x="116.3" y="183.8" width="7.2" height="1.7" fill-opacity="0.57"/>
<rect x="115.8" y="186.1" width="7.3" height="1.7" fill-opacity="0.64"/>
<rect x="115.8" y="185.7" width="7.3" height="1.7" fill-opacity="0.58"/>
<rect x="115.3" y="188.2" width="7.4" height="1.7" fill-opacity="0.64"/>
<rect x="115.3" y="187.8" width="7.4" height="1.7" fill-opacity="0.80"/>
<rect x="130.9" y="139.2" width="8.1" height="1.7" fill-opacity="0.92"/>
<rect x="128.1" y="139.0" width="9.0" height="1.7" fill-opacity="0.78"/>
<rect x="128.6" y="141.4" width="9.3" height="1.7" fill-opacity="0.60"/>
<rect x="129.8" y="141.7" width="6.1" height="1.7" fill-opacity="0.48"/>
<rect x="129.4" y="143.7" width="9.5" height="1.7" fill-opacity="0.50"/>
<rect x="131.7" y="144.1" width="6.3" height="1.7" fill-opacity="0.55"/>
<rect x="128.1" y="146.6" width="8.8" height="1.7" fill-opacity="0.87"/>
<rect x="129.5" y="146.2" width="8.8" height="1.7" fill-opacity="0.88"/>
<rect x="129.0" y="148.7" width="7.9" height="1.7" fill-opacity="0.85"/>
<rect x="130.5" y="148.5" width="8.4" height="1.7" fill-opacity="0.52"/>
<rect x="132.2" y="151.0" width="6.6" height="1.7" fill-opacity="0.64"/>
<rect x="129.5" y="151.3" width="9.3" height="1.7" fill-opacity="0.49"/>
<rect x="128.5" y="153.9" width="8.8" height="1.7" fill-opacity="0.88"/>
<rect x="128.8" y="153.7" width="7.5" height="1.7" fill-opacity="0.43"/>
<rect x="132.0" y="156.0" width="6.3" height="1.7" fill-opacity="0.72"/>
<rect x="129.7" y="156.3" width="6.2" height="1.7" fill-opacity="0.73"/>
<rect x="128.5" y="158.0" width="6.3" height="1.7" fill-opacity="0.78"/>
<rect x="130.6" y="158.5" width="7.1" height="1.7" fill-opacity="0.58"/>
<rect x="130.2" y="160.6" width="7.2" height="1.7" fill-opacity="0.60"/>
<rect x="129.0" y="160.4" width="7.2" height="1.7" fill-opacity="0.57"/>
<rect x="128.4" y="163.4" width="7.1" height="1.7" fill-opacity="0.66"/>
<rect x="131.3" y="163.4" width="7.2" height="1.7" fill-opacity="0.74"/>
<rect x="129.4" y="165.5" width="8.8" height="1.7" fill-opacity="0.61"/>
<rect x="129.9" y="165.6" width="7.9" height="1.7" fill-opacity="0.83"/>
<rect x="129.6" y="167.8" width="6.9" height="1.7" fill-opacity="0.42"/>
<rect x="129.8" y="167.7" width="8.5" height="1.7" fill-opacity="0.88"/>
<rect x="129.0" y="173.9" width="6.1" height="1.7" fill-opacity="0.92"/>
<rect x="129.8" y="172.3" width="5.7" height="1.7" fill-opacity="0.96"/>
<rect x="129.9" y="175.5" width="6.5" height="1.7" fill-opacity="0.72"/>
<rect x="131.0" y="175.5" width="5.6" height="1.7" fill-opacity="0.85"/>
<rect x="131.6" y="175.5" width="5.6" height="1.7" fill-opacity="1.00"/>
<rect x="133.0" y="175.5" width="4.0" height="1.7" fill-opacity="0.74"/>
<rect x="133.4" y="173.9" width="4.3" height="1.7" fill-opacity="0.87"/>
<rect x="133.1" y="173.9" width="6.3" height="1.7" fill-opacity="0.88"/>
<rect x="134.1" y="172.3" width="5.4" height="1.7" fill-opacity="0.97"/>
<rect x="134.7" y="172.3" width="5.3" height="1.7" fill-opacity="0.86"/>
<rect x="135.1" y="173.9" width="5.9" height="1.7" fill-opacity="0.71"/>
<rect x="136.3" y="175.5" width="4.6" height="1.7" fill-opacity="0.72"/>
<rect x="135.8" y="173.9" width="6.9" height="1.7" fill-opacity="0.87"/>
<rect x="137.4" y="175.5" width="4.8" height="1.7" fill-opacity="0.94"/>
<rect x="138.3" y="175.5" width="4.2" height="1.7" fill-opacity="0.71"/>
<rect x="138.7" y="172.3" width="4.6" height="1.7" fill-opacity="0.71"/>
<rect x="138.2" y="173.9" width="6.9" height="1.7" fill-opacity="0.80"/>
<rect x="139.9" y="175.5" width="4.6" height="1.7" fill-opacity="0.89"/>
<rect x="140.7" y="177.1" width="4.1" height="1.7" fill-opacity="0.87"/>
<rect x="141.0" y="175.5" width="4.8" height="1.7" fill-opacity="0.91"/>
<rect x="140.5" y="175.5" width="6.9" height="1.7" fill-opacity="0.77"/>
<rect x="141.6" y="177.1" width="6.0" height="1.7" fill-opacity="0.72"/>
<rect x="142.8" y="173.9" width="4.9" height="1.7" fill-opacity="0.95"/>
<rect x="164.0" y="75.8" width="8.0" height="1.7" fill-opacity="0.91"/>
<rect x="164.1" y="75.3" width="7.9" height="1.7" fill-opacity="0.87"/>
<rect x="164.0" y="75.3" width="7.1" height="1.7" fill-opacity="1.00"/>
<rect x="164.7" y="77.3" width="6.3" height="1.7" fill-opacity="0.98"/>
<rect x="166.1" y="77.5" width="7.0" height="1.7" fill-opacity="0.89"/>
<rect x="167.9" y="76.9" width="5.8" height="1.7" fill-opacity="0.97"/>
<rect x="167.4" y="79.1" width="5.8" height="1.7" fill-opacity="0.90"/>
<rect x="167.6" y="78.5" width="8.0" height="1.7" fill-opacity="0.96"/>
<rect x="164.3" y="78.5" width="5.6" height="1.7" fill-opacity="0.97"/>
<rect x="164.4" y="80.7" width="5.3" height="1.7" fill-opacity="0.90"/>
<rect x="164.9" y="80.3" width="5.1" height="1.7" fill-opacity="0.80"/>
<rect x="168.6" y="80.2" width="5.8" height="1.7" fill-opacity="0.79"/>
<rect x="165.0" y="82.1" width="6.5" height="1.7" fill-opacity="0.88"/>
<rect x="164.2" y="82.1" width="6.9" height="1.7" fill-opacity="0.80"/>
<rect x="171.1" y="82.1" width="5.0" height="1.7" fill-opacity="0.85"/>
<rect x="164.6" y="83.6" width="8.8" height="1.7" fill-opacity="0.93"/>
<rect x="168.7" y="83.3" width="7.8" height="1.7" fill-opacity="0.82"/>
<rect x="167.9" y="83.8" width="8.0" height="1.7" fill-opacity="0.98"/>
<rect x="171.6" y="85.4" width="8.0" height="1.7" fill-opacity="0.69"/>
<rect x="170.2" y="85.0" width="9.7" height="1.7" fill-opacity="0.86"/>
<rect x="167.3" y="85.5" width="10.5" height="1.7" fill-opacity="1.00"/>
<rect x="171.4" y="84.9" width="9.3" height="1.7" fill-opacity="0.79"/>
<rect x="171.9" y="84.8" width="6.7" height="1.7" fill-opacity="0.87"/>
<rect x="171.1" y="86.9" width="7.6" height="1.7" fill-opacity="0.81"/>
<rect x="165.6" y="87.0" width="10.9" height="1.7" fill-opacity="0.89"/>
<rect x="165.1" y="87.2" width="10.2" height="1.7" fill-opacity="0.77"/>
<rect x="163.0" y="87.0" width="6.0" height="1.7" fill-opacity="0.75"/>
<rect x="163.8" y="87.3" width="9.2" height="1.7" fill-opacity="0.73"/>
<rect x="175.3" y="89.5" width="9.6" height="1.7" fill-opacity="0.80"/>
<rect x="168.0" y="89.3" width="8.0" height="1.7" fill-opacity="0.81"/>
<rect x="176.5" y="89.5" width="6.8" height="1.7" fill-opacity="0.72"/>
<rect x="163.6" y="89.1" width="6.8" height="1.7" fill-opacity="0.71"/>
<rect x="173.2" y="89.5" width="8.9" height="1.7" fill-opacity="0.67"/>
<rect x="172.6" y="91.4" width="6.2" height="1.7" fill-opacity="0.89"/>
<rect x="169.2" y="90.8" width="10.3" height="1.7" fill-opacity="0.87"/>
<rect x="163.6" y="90.9" width="7.1" height="1.7" fill-opacity="0.67"/>
<rect x="175.3" y="91.4" width="6.6" height="1.7" fill-opacity="0.77"/>
<rect x="175.9" y="91.5" width="9.4" height="1.7" fill-opacity="0.84"/>
<rect x="176.5" y="93.5" width="10.3" height="1.7" fill-opacity="0.75"/>
<rect x="173.0" y="92.8" width="9.2" height="1.7" fill-opacity="0.82"/>
<rect x="173.9" y="93.2" width="9.0" height="1.7" fill-opacity="0.67"/>
<rect x="177.5" y="93.5" width="9.0" height="1.7" fill-opacity="0.93"/>
<rect x="174.2" y="93.4" width="8.3" height="1.7" fill-opacity="0.79"/>
<rect x="173.2" y="95.1" width="8.4" height="1.7" fill-opacity="0.78"/>
<rect x="174.2" y="94.8" width="6.2" height="1.7" fill-opacity="0.89"/>
<rect x="174.6" y="95.2" width="6.7" height="1.7" fill-opacity="0.92"/>
<rect x="172.9" y="95.5" width="7.5" height="1.7" fill-opacity="0.72"/>
<rect x="174.3" y="94.9" width="10.4" height="1.7" fill-opacity="0.70"/>
<rect x="165.5" y="97.3" width="9.7" height="1.7" fill-opacity="0.72"/>
<rect x="165.2" y="97.5" width="9.0" height="1.7" fill-opacity="0.77"/>
<rect x="166.7" y="96.8" width="9.9" height="1.7" fill-opacity="0.88"/>
<rect x="183.7" y="96.9" width="10.5" height="1.7" fill-opacity="0.67"/>
<rect x="172.1" y="97.5" width="8.4" height="1.7" fill-opacity="0.72"/>
<rect x="192.1" y="89.5" width="6.3" height="1.7" fill-opacity="0.81"/>
<rect x="189.6" y="89.4" width="8.9" height="1.7" fill-opacity="0.52"/>
<rect x="189.4" y="91.9" width="6.6" height="1.7" fill-opacity="0.93"/>
<rect x="187.2" y="91.3" width="8.2" height="1.7" fill-opacity="0.87"/>
<rect x="188.5" y="94.1" width="7.3" height="1.7" fill-opacity="0.86"/>
<rect x="186.4" y="93.7" width="6.5" height="1.7" fill-opacity="0.91"/>
<rect x="176.9" y="98.0" width="10.2" height="1.7" fill-opacity="0.67"/>
<rect x="169.9" y="98.3" width="10.0" height="1.7" fill-opacity="0.84"/>
<rect x="183.7" y="98.5" width="10.8" height="1.7" fill-opacity="0.99"/>
<rect x="177.1" y="98.1" width="10.2" height="1.7" fill-opacity="0.75"/>
<rect x="177.0" y="98.4" width="8.8" height="1.7" fill-opacity="0.92"/>
<rect x="177.1" y="98.3" width="11.2" height="1.7" fill-opacity="0.70"/>
<rect x="193.2" y="100.4" width="7.5" height="1.7" fill-opacity="0.72"/>
<rect x="171.5" y="100.2" width="7.6" height="1.7" fill-opacity="0.96"/>
<rect x="191.3" y="99.8" width="8.3" height="1.7" fill-opacity="0.95"/>
<rect x="173.1" y="99.9" width="9.4" height="1.7" fill-opacity="0.77"/>
<rect x="167.7" y="100.2" width="10.6" height="1.7" fill-opacity="0.92"/>
<rect x="170.7" y="99.7" width="8.0" height="1.7" fill-opacity="0.92"/>
<rect x="183.0" y="102.0" width="7.1" height="1.7" fill-opacity="0.73"/>
<rect x="178.8" y="102.3" width="9.1" height="1.7" fill-opacity="0.74"/>
<rect x="184.6" y="101.7" width="11.3" height="1.7" fill-opacity="0.92"/>
<rect x="170.6" y="101.6" width="9.8" height="1.7" fill-opacity="0.76"/>
<rect x="184.4" y="102.3" width="12.0" height="1.7" fill-opacity="0.98"/>
<rect x="182.1" y="102.2" width="10.2" height="1.7" fill-opacity="0.87"/>
<rect x="181.5" y="103.9" width="9.7" height="1.7" fill-opacity="0.89"/>
<rect x="193.4" y="104.1" width="9.8" height="1.7" fill-opacity="0.64"/>
<rect x="173.8" y="104.2" width="7.2" height="1.7" fill-opacity="0.72"/>
<rect x="186.6" y="103.7" width="9.3" height="1.7" fill-opacity="0.91"/>
<rect x="192.8" y="103.5" width="11.2" height="1.7" fill-opacity="0.82"/>
<rect x="170.4" y="103.7" width="11.4" height="1.7" fill-opacity="0.91"/>
<rect x="182.2" y="105.8" width="10.3" height="1.7" fill-opacity="0.68"/>
<rect x="192.0" y="105.4" width="8.3" height="1.7" fill-opacity="0.66"/>
<rect x="188.0" y="105.4" width="9.7" height="1.7" fill-opacity="0.99"/>
<rect x="174.3" y="106.0" width="8.9" height="1.7" fill-opacity="0.99"/>
<rect x="194.8" y="106.1" width="10.8" height="1.7" fill-opacity="0.68"/>
<rect x="177.0" y="106.1" width="7.8" height="1.7" fill-opacity="0.96"/>
<rect x="182.2" y="107.4" width="7.6" height="1.7" fill-opacity="0.86"/>
<rect x="183.8" y="107.6" width="10.9" height="1.7" fill-opacity="0.79"/>
<rect x="192.8" y="107.8" width="9.3" height="1.7" fill-opacity="0.73"/>
<rect x="171.4" y="107.6" width="7.7" height="1.7" fill-opacity="0.74"/>
<rect x="184.9" y="108.0" width="7.4" height="1.7" fill-opacity="0.94"/>
<rect x="182.4" y="107.5" width="8.6" height="1.7" fill-opacity="0.65"/>
<rect x="183.1" y="109.3" width="11.2" height="1.7" fill-opacity="0.64"/>
<rect x="178.1" y="109.7" width="10.8" height="1.7" fill-opacity="0.92"/>
<rect x="181.9" y="109.8" width="7.9" height="1.7" fill-opacity="0.89"/>
<rect x="182.9" y="109.5" width="9.3" height="1.7" fill-opacity="0.92"/>
<rect x="201.1" y="109.6" width="11.1" height="1.7" fill-opacity="0.98"/>
<rect x="206.6" y="109.3" width="7.9" height="1.7" fill-opacity="0.92"/>
<rect x="187.6" y="111.7" width="8.5" height="1.7" fill-opacity="0.87"/>
<rect x="201.1" y="111.5" width="11.5" height="1.7" fill-opacity="0.62"/>
<rect x="186.8" y="111.8" width="8.5" height="1.7" fill-opacity="0.84"/>
<rect x="180.5" y="111.6" width="7.4" height="1.7" fill-opacity="0.74"/>
<rect x="172.9" y="111.4" width="7.3" height="1.7" fill-opacity="0.82"/>
<rect x="181.6" y="111.1" width="9.8" height="1.7" fill-opacity="0.87"/>
<rect x="186.1" y="113.2" width="9.5" height="1.7" fill-opacity="0.62"/>
<rect x="176.0" y="113.0" width="8.5" height="1.7" fill-opacity="0.79"/>
<rect x="184.7" y="113.3" width="11.4" height="1.7" fill-opacity="0.81"/>
<rect x="203.4" y="113.4" width="7.5" height="1.7" fill-opacity="0.80"/>
<rect x="190.3" y="113.6" width="10.8" height="1.7" fill-opacity="0.93"/>
<rect x="196.8" y="113.3" width="10.6" height="1.7" fill-opacity="0.81"/>
<rect x="205.3" y="115.5" width="9.6" height="1.7" fill-opacity="0.62"/>
<rect x="196.0" y="115.6" width="10.1" height="1.7" fill-opacity="0.62"/>
<rect x="211.2" y="115.0" width="8.9" height="1.7" fill-opacity="0.83"/>
<rect x="191.3" y="115.4" width="10.8" height="1.7" fill-opacity="0.72"/>
<rect x="181.7" y="115.4" width="7.0" height="1.7" fill-opacity="0.95"/>
<rect x="175.4" y="115.4" width="8.4" height="1.7" fill-opacity="0.89"/>
<rect x="195.2" y="116.8" width="11.7" height="1.7" fill-opacity="0.79"/>
<rect x="213.9" y="117.5" width="7.5" height="1.7" fill-opacity="0.65"/>
<rect x="203.5" y="116.8" width="8.4" height="1.7" fill-opacity="0.73"/>
<rect x="192.3" y="117.2" width="9.4" height="1.7" fill-opacity="0.98"/>
<rect x="207.9" y="116.9" width="11.5" height="1.7" fill-opacity="0.70"/>
<rect x="199.3" y="117.0" width="10.2" height="1.7" fill-opacity="1.00"/>
<rect x="178.5" y="118.8" width="7.1" height="1.7" fill-opacity="0.89"/>
<rect x="185.8" y="118.8" width="7.2" height="1.7" fill-opacity="0.91"/>
<rect x="178.9" y="119.4" width="8.3" height="1.7" fill-opacity="0.99"/>
<rect x="209.6" y="119.3" width="9.4" height="1.7" fill-opacity="0.80"/>
<rect x="205.4" y="118.9" width="9.6" height="1.7" fill-opacity="0.86"/>
<rect x="183.5" y="118.8" width="11.9" height="1.7" fill-opacity="0.98"/>
<rect x="216.1" y="121.2" width="11.6" height="1.7" fill-opacity="0.93"/>
<rect x="213.9" y="121.2" width="7.4" height="1.7" fill-opacity="0.94"/>
<rect x="213.9" y="120.9" width="7.3" height="1.7" fill-opacity="0.96"/>
<rect x="209.6" y="121.1" width="9.2" height="1.7" fill-opacity="0.88"/>
<rect x="178.3" y="121.3" width="10.2" height="1.7" fill-opacity="0.89"/>
<rect x="185.4" y="120.9" width="9.3" height="1.7" fill-opacity="0.87"/>
<rect x="176.7" y="122.8" width="7.5" height="1.7" fill-opacity="0.70"/>
<rect x="203.2" y="123.0" width="8.1" height="1.7" fill-opacity="0.97"/>
<rect x="233.3" y="122.9" width="7.1" height="1.7" fill-opacity="0.89"/>
<rect x="198.1" y="122.5" width="8.8" height="1.7" fill-opacity="0.87"/>
<rect x="233.1" y="123.0" width="10.4" height="1.7" fill-opacity="0.84"/>
<rect x="225.8" y="123.2" width="11.8" height="1.7" fill-opacity="0.78"/>
<rect x="226.2" y="125.0" width="10.1" height="1.7" fill-opacity="0.84"/>
<rect x="243.3" y="124.8" width="7.0" height="1.7" fill-opacity="0.99"/>
<rect x="235.4" y="125.1" width="11.3" height="1.7" fill-opacity="0.78"/>
<rect x="178.9" y="124.6" width="9.0" height="1.7" fill-opacity="0.74"/>
<rect x="199.1" y="124.9" width="9.0" height="1.7" fill-opacity="0.64"/>
<rect x="187.5" y="124.8" width="9.0" height="1.7" fill-opacity="0.77"/>
<rect x="267.4" y="126.4" width="8.7" height="1.7" fill-opacity="0.81"/>
<rect x="207.2" y="127.0" width="7.1" height="1.7" fill-opacity="0.72"/>
<rect x="203.3" y="126.7" width="9.6" height="1.7" fill-opacity="0.63"/>
<rect x="253.1" y="126.9" width="8.4" height="1.7" fill-opacity="0.88"/>
<rect x="244.2" y="126.3" width="11.3" height="1.7" fill-opacity="0.65"/>
<rect x="266.0" y="126.9" width="11.2" height="1.7" fill-opacity="0.66"/>
<rect x="236.1" y="128.3" width="10.1" height="1.7" fill-opacity="0.99"/>
<rect x="271.9" y="128.5" width="8.3" height="1.7" fill-opacity="0.63"/>
<rect x="201.5" y="128.4" width="8.3" height="1.7" fill-opacity="0.84"/>
<rect x="263.1" y="128.9" width="10.3" height="1.7" fill-opacity="0.96"/>
<rect x="257.5" y="128.2" width="8.3" height="1.7" fill-opacity="0.83"/>
<rect x="269.7" y="128.3" width="7.5" height="1.7" fill-opacity="0.89"/>
<rect x="256.0" y="130.1" width="7.0" height="1.7" fill-opacity="0.95"/>
<rect x="223.1" y="130.1" width="9.5" height="1.7" fill-opacity="0.88"/>
<rect x="265.7" y="130.6" width="9.6" height="1.7" fill-opacity="0.65"/>
<rect x="212.3" y="130.7" width="10.5" height="1.7" fill-opacity="0.83"/>
<rect x="207.9" y="130.3" width="9.6" height="1.7" fill-opacity="0.96"/>
<rect x="215.5" y="130.2" width="10.9" height="1.7" fill-opacity="0.60"/>
<rect x="269.7" y="132.4" width="10.8" height="1.7" fill-opacity="0.62"/>
<rect x="240.0" y="132.4" width="7.2" height="1.7" fill-opacity="0.98"/>
<rect x="204.8" y="132.1" width="8.2" height="1.7" fill-opacity="0.61"/>
<rect x="217.5" y="132.7" width="9.1" height="1.7" fill-opacity="0.73"/>
<rect x="194.2" y="132.0" width="9.7" height="1.7" fill-opacity="0.84"/>
<rect x="248.1" y="132.1" width="7.3" height="1.7" fill-opacity="0.87"/>
<rect x="208.5" y="134.0" width="10.6" height="1.7" fill-opacity="0.99"/>
<rect x="232.7" y="133.9" width="11.6" height="1.7" fill-opacity="0.75"/>
<rect x="213.7" y="133.9" width="7.3" height="1.7" fill-opacity="0.95"/>
<rect x="219.0" y="134.0" width="7.4" height="1.7" fill-opacity="0.77"/>
<rect x="196.3" y="134.3" width="10.3" height="1.7" fill-opacity="0.62"/>
<rect x="209.9" y="134.5" width="11.0" height="1.7" fill-opacity="0.70"/>
<rect x="202.5" y="127.2" width="5.0" height="1.7" fill-opacity="0.82"/>
<rect x="201.1" y="125.5" width="7.8" height="1.7" fill-opacity="0.88"/>
<rect x="201.8" y="107.5" width="6.4" height="1.7" fill-opacity="0.71"/>
<rect x="202.2" y="105.7" width="7.1" height="1.7" fill-opacity="0.77"/>
<rect x="201.8" y="105.7" width="7.8" height="1.7" fill-opacity="0.94"/>
<rect x="201.7" y="114.7" width="8.0" height="1.7" fill-opacity="0.67"/>
<rect x="203.6" y="132.7" width="5.6" height="1.7" fill-opacity="0.60"/>
<rect x="202.7" y="105.7" width="7.4" height="1.7" fill-opacity="0.84"/>
<rect x="202.9" y="105.7" width="6.9" height="1.7" fill-opacity="0.65"/>
<rect x="203.6" y="121.9" width="6.9" height="1.7" fill-opacity="0.92"/>
<rect x="204.1" y="107.5" width="5.9" height="1.7" fill-opacity="0.66"/>
<rect x="203.3" y="103.9" width="7.6" height="1.7" fill-opacity="0.87"/>
<rect x="203.9" y="118.2" width="7.7" height="1.7" fill-opacity="0.93"/>
<rect x="205.0" y="129.1" width="5.6" height="1.7" fill-opacity="0.74"/>
<rect x="204.6" y="127.2" width="6.4" height="1.7" fill-opacity="0.99"/>
<rect x="204.7" y="118.2" width="7.6" height="1.7" fill-opacity="0.99"/>
<rect x="204.6" y="130.9" width="7.8" height="1.7" fill-opacity="0.71"/>
<rect x="205.0" y="107.5" width="7.0" height="1.7" fill-opacity="0.98"/>
<rect x="205.8" y="109.2" width="6.7" height="1.7" fill-opacity="0.63"/>
<rect x="206.1" y="107.5" width="6.3" height="1.7" fill-opacity="0.93"/>
<rect x="206.0" y="130.9" width="6.4" height="1.7" fill-opacity="0.78"/>
<rect x="206.5" y="129.1" width="6.7" height="1.7" fill-opacity="0.76"/>
<rect x="207.3" y="120.1" width="5.2" height="1.7" fill-opacity="0.65"/>
<rect x="207.2" y="118.2" width="5.4" height="1.7" fill-opacity="0.93"/>
<rect x="207.3" y="130.9" width="6.7" height="1.7" fill-opacity="0.66"/>
<rect x="207.2" y="130.9" width="6.8" height="1.7" fill-opacity="0.86"/>
<rect x="207.8" y="109.2" width="5.6" height="1.7" fill-opacity="0.77"/>
<rect x="207.9" y="132.7" width="6.8" height="1.7" fill-opacity="0.70"/>
<rect x="208.2" y="121.9" width="6.2" height="1.7" fill-opacity="0.97"/>
<rect x="208.8" y="112.9" width="5.0" height="1.7" fill-opacity="0.61"/>
<rect x="209.3" y="130.9" width="5.5" height="1.7" fill-opacity="0.61"/>
<rect x="208.6" y="114.7" width="6.8" height="1.7" fill-opacity="0.96"/>
<rect x="208.6" y="116.5" width="6.8" height="1.7" fill-opacity="0.72"/>
<rect x="208.9" y="114.7" width="7.6" height="1.7" fill-opacity="0.87"/>
<rect x="208.8" y="118.2" width="7.9" height="1.7" fill-opacity="0.83"/>
<rect x="209.7" y="125.5" width="5.9" height="1.7" fill-opacity="0.65"/>
<rect x="210.5" y="125.5" width="5.7" height="1.7" fill-opacity="0.64"/>
<rect x="209.8" y="112.9" width="7.3" height="1.7" fill-opacity="0.71"/>
<rect x="209.7" y="132.7" width="7.5" height="1.7" fill-opacity="0.93"/>
<rect x="210.2" y="125.5" width="7.8" height="1.7" fill-opacity="0.85"/>
<rect x="211.0" y="118.2" width="6.1" height="1.7" fill-opacity="0.83"/>
<rect x="210.3" y="125.5" width="7.6" height="1.7" fill-opacity="0.89"/>
<rect x="211.7" y="111.1" width="6.1" height="1.7" fill-opacity="0.77"/>
<rect x="211.5" y="123.7" width="6.6" height="1.7" fill-opacity="0.84"/>
<rect x="211.5" y="127.2" width="6.7" height="1.7" fill-opacity="0.82"/>
<rect x="212.3" y="112.9" width="6.3" height="1.7" fill-opacity="0.95"/>
<rect x="212.1" y="118.2" width="6.7" height="1.7" fill-opacity="0.81"/>
<rect x="211.8" y="114.7" width="7.4" height="1.7" fill-opacity="0.63"/>
<rect x="213.4" y="118.2" width="5.6" height="1.7" fill-opacity="0.68"/>
<rect x="213.4" y="123.7" width="5.5" height="1.7" fill-opacity="0.86"/>
<rect x="213.0" y="125.5" width="6.4" height="1.7" fill-opacity="0.84"/>
<rect x="213.4" y="121.9" width="7.1" height="1.7" fill-opacity="0.69"/>
<rect x="212.9" y="125.5" width="7.9" height="1.7" fill-opacity="0.85"/>
<rect x="214.0" y="129.1" width="5.9" height="1.7" fill-opacity="0.75"/>
<rect x="214.0" y="129.1" width="7.2" height="1.7" fill-opacity="0.67"/>
<rect x="214.4" y="134.5" width="6.5" height="1.7" fill-opacity="1.00"/>
<rect x="215.0" y="120.1" width="5.3" height="1.7" fill-opacity="0.61"/>
<rect x="214.9" y="129.1" width="6.8" height="1.7" fill-opacity="0.91"/>
<rect x="214.9" y="129.1" width="6.8" height="1.7" fill-opacity="0.85"/>
<rect x="215.0" y="127.2" width="6.7" height="1.7" fill-opacity="0.64"/>
<rect x="215.9" y="127.2" width="6.3" height="1.7" fill-opacity="0.99"/>
<rect x="215.7" y="116.5" width="6.5" height="1.7" fill-opacity="0.74"/>
<rect x="216.2" y="132.7" width="5.5" height="1.7" fill-opacity="0.88"/>
<rect x="215.7" y="123.7" width="8.0" height="1.7" fill-opacity="0.64"/>
<rect x="215.7" y="112.9" width="7.9" height="1.7" fill-opacity="0.96"/>
<rect x="216.5" y="127.2" width="6.4" height="1.7" fill-opacity="0.67"/>
<rect x="216.6" y="123.7" width="7.6" height="1.7" fill-opacity="0.65"/>
<rect x="217.1" y="123.7" width="6.7" height="1.7" fill-opacity="0.92"/>
<rect x="216.5" y="120.1" width="7.9" height="1.7" fill-opacity="0.84"/>
<rect x="217.3" y="125.5" width="7.6" height="1.7" fill-opacity="0.62"/>
<rect x="218.2" y="123.7" width="5.9" height="1.7" fill-opacity="0.66"/>
<rect x="218.0" y="123.7" width="6.3" height="1.7" fill-opacity="0.84"/>
<rect x="218.6" y="127.2" width="6.4" height="1.7" fill-opacity="0.92"/>
<rect x="217.8" y="118.2" width="7.9" height="1.7" fill-opacity="0.82"/>
<rect x="218.2" y="120.1" width="7.1" height="1.7" fill-opacity="0.77"/>
<rect x="218.7" y="120.1" width="7.6" height="1.7" fill-opacity="0.71"/>
<rect x="219.4" y="123.7" width="6.2" height="1.7" fill-opacity="0.83"/>
<rect x="219.2" y="125.5" width="6.7" height="1.7" fill-opacity="0.98"/>
<rect x="219.2" y="116.5" width="8.0" height="1.7" fill-opacity="0.61"/>
<rect x="220.3" y="130.9" width="5.8" height="1.7" fill-opacity="0.61"/>
<rect x="219.4" y="123.7" width="7.5" height="1.7" fill-opacity="0.61"/>
<rect x="221.3" y="114.7" width="5.2" height="1.7" fill-opacity="0.73"/>
<rect x="220.4" y="134.5" width="6.9" height="1.7" fill-opacity="0.94"/>
<rect x="220.4" y="132.7" width="7.0" height="1.7" fill-opacity="0.70"/>
<rect x="221.9" y="123.7" width="5.3" height="1.7" fill-opacity="0.97"/>
<rect x="221.4" y="118.2" width="6.5" height="1.7" fill-opacity="0.92"/>
<rect x="222.0" y="127.2" width="5.3" height="1.7" fill-opacity="0.70"/>
<rect x="221.8" y="125.5" width="7.1" height="1.7" fill-opacity="0.69"/>
<rect x="221.7" y="127.2" width="7.3" height="1.7" fill-opacity="1.00"/>
<rect x="222.1" y="134.5" width="6.4" height="1.7" fill-opacity="0.80"/>
<rect x="222.5" y="118.2" width="6.9" height="1.7" fill-opacity="0.64"/>
<rect x="222.7" y="118.2" width="6.6" height="1.7" fill-opacity="0.68"/>
<rect x="222.8" y="130.9" width="6.3" height="1.7" fill-opacity="0.66"/>
<rect x="223.3" y="134.5" width="6.9" height="1.7" fill-opacity="0.78"/>
<rect x="222.9" y="129.1" width="7.5" height="1.7" fill-opacity="0.91"/>
<rect x="224.0" y="130.9" width="5.3" height="1.7" fill-opacity="0.65"/>
<rect x="224.1" y="120.1" width="6.7" height="1.7" fill-opacity="0.71"/>
<rect x="223.7" y="123.7" width="7.4" height="1.7" fill-opacity="0.98"/>
<rect x="224.2" y="130.9" width="6.5" height="1.7" fill-opacity="0.76"/>
<rect x="224.2" y="129.1" width="7.8" height="1.7" fill-opacity="0.88"/>
<rect x="225.1" y="125.5" width="6.1" height="1.7" fill-opacity="0.76"/>
<rect x="224.9" y="116.5" width="6.4" height="1.7" fill-opacity="0.80"/>
<rect x="225.9" y="129.1" width="5.8" height="1.7" fill-opacity="0.76"/>
<rect x="225.7" y="127.2" width="6.3" height="1.7" fill-opacity="0.87"/>
<rect x="225.5" y="130.9" width="6.7" height="1.7" fill-opacity="0.64"/>
<rect x="226.6" y="121.9" width="5.9" height="1.7" fill-opacity="0.98"/>
<rect x="226.8" y="130.9" width="5.5" height="1.7" fill-opacity="0.85"/>
<rect x="226.8" y="121.9" width="5.4" height="1.7" fill-opacity="0.61"/>
<rect x="227.1" y="134.5" width="6.1" height="1.7" fill-opacity="0.61"/>
<rect x="227.6" y="129.1" width="5.1" height="1.7" fill-opacity="0.91"/>
<rect x="226.5" y="121.9" width="7.3" height="1.7" fill-opacity="0.91"/>
<rect x="227.2" y="125.5" width="7.4" height="1.7" fill-opacity="0.84"/>
<rect x="228.3" y="120.1" width="5.2" height="1.7" fill-opacity="0.68"/>
<rect x="227.7" y="127.2" width="6.4" height="1.7" fill-opacity="0.85"/>
<rect x="228.5" y="129.1" width="6.2" height="1.7" fill-opacity="0.94"/>
<rect x="227.6" y="132.7" width="8.0" height="1.7" fill-opacity="0.93"/>
<rect x="228.3" y="129.1" width="6.7" height="1.7" fill-opacity="0.70"/>
<rect x="229.4" y="129.1" width="5.7" height="1.7" fill-opacity="0.84"/>
<rect x="229.2" y="127.2" width="6.3" height="1.7" fill-opacity="0.70"/>
<rect x="228.5" y="129.1" width="7.7" height="1.7" fill-opacity="0.73"/>
<rect x="229.9" y="125.5" width="6.3" height="1.7" fill-opacity="0.85"/>
<rect x="229.3" y="130.9" width="7.4" height="1.7" fill-opacity="0.89"/>
<rect x="229.8" y="125.5" width="6.3" height="1.7" fill-opacity="0.86"/>
<rect x="230.6" y="130.9" width="6.3" height="1.7" fill-opacity="0.82"/>
<rect x="231.2" y="123.7" width="5.0" height="1.7" fill-opacity="0.71"/>
<rect x="231.0" y="134.5" width="5.4" height="1.7" fill-opacity="0.96"/>
<rect x="231.5" y="130.9" width="5.8" height="1.7" fill-opacity="0.61"/>
<rect x="231.5" y="118.2" width="5.9" height="1.7" fill-opacity="0.98"/>
<rect x="230.6" y="130.9" width="7.5" height="1.7" fill-opacity="0.67"/>
<rect x="232.0" y="120.1" width="6.1" height="1.7" fill-opacity="0.80"/>
<rect x="231.6" y="121.9" width="7.0" height="1.7" fill-opacity="0.66"/>
<rect x="231.7" y="118.2" width="6.7" height="1.7" fill-opacity="0.83"/>
<rect x="231.9" y="125.5" width="7.8" height="1.7" fill-opacity="0.89"/>
<rect x="233.0" y="132.7" width="5.5" height="1.7" fill-opacity="0.72"/>
<rect x="231.9" y="127.2" width="7.9" height="1.7" fill-opacity="0.87"/>
<rect x="233.3" y="132.7" width="6.4" height="1.7" fill-opacity="0.68"/>
<rect x="232.7" y="129.1" width="7.6" height="1.7" fill-opacity="0.82"/>
<rect x="233.3" y="125.5" width="6.4" height="1.7" fill-opacity="0.74"/>
<rect x="234.3" y="120.1" width="5.8" height="1.7" fill-opacity="0.65"/>
<rect x="233.6" y="127.2" width="7.2" height="1.7" fill-opacity="0.76"/>
<rect x="233.7" y="127.2" width="7.0" height="1.7" fill-opacity="0.71"/>
<rect x="234.1" y="123.7" width="7.5" height="1.7" fill-opacity="0.70"/>
<rect x="235.1" y="129.1" width="5.5" height="1.7" fill-opacity="0.89"/>
<rect x="234.8" y="123.7" width="6.1" height="1.7" fill-opacity="0.73"/>
<rect x="235.5" y="120.1" width="6.2" height="1.7" fill-opacity="0.64"/>
<rect x="235.0" y="123.7" width="7.1" height="1.7" fill-opacity="0.77"/>
<rect x="235.0" y="132.7" width="7.1" height="1.7" fill-opacity="0.94"/>
<rect x="236.2" y="132.7" width="6.2" height="1.7" fill-opacity="0.84"/>
<rect x="236.3" y="123.7" width="6.0" height="1.7" fill-opacity="0.85"/>
<rect x="236.7" y="130.9" width="5.2" height="1.7" fill-opacity="0.77"/>
<rect x="236.6" y="132.7" width="6.9" height="1.7" fill-opacity="0.66"/>
<rect x="236.6" y="121.9" width="6.9" height="1.7" fill-opacity="0.77"/>
<rect x="237.1" y="125.5" width="5.8" height="1.7" fill-opacity="0.72"/>
<rect x="237.8" y="123.7" width="5.7" height="1.7" fill-opacity="0.81"/>
<rect x="238.1" y="132.7" width="5.2" height="1.7" fill-opacity="0.73"/>
<rect x="237.2" y="127.2" width="7.1" height="1.7" fill-opacity="0.87"/>
<rect x="238.6" y="120.1" width="5.5" height="1.7" fill-opacity="0.72"/>
<rect x="238.7" y="123.7" width="5.3" height="1.7" fill-opacity="0.61"/>
<rect x="238.7" y="130.9" width="5.5" height="1.7" fill-opacity="0.64"/>
<rect x="239.4" y="120.1" width="5.4" height="1.7" fill-opacity="0.80"/>
<rect x="238.8" y="130.9" width="6.5" height="1.7" fill-opacity="0.81"/>
<rect x="238.4" y="118.2" width="7.5" height="1.7" fill-opacity="0.76"/>
<rect x="239.7" y="120.1" width="6.3" height="1.7" fill-opacity="0.82"/>
<rect x="238.9" y="120.1" width="7.8" height="1.7" fill-opacity="0.98"/>
<rect x="239.2" y="127.2" width="7.2" height="1.7" fill-opacity="0.84"/>
<rect x="240.0" y="121.9" width="6.9" height="1.7" fill-opacity="0.78"/>
<rect x="240.6" y="118.2" width="5.9" height="1.7" fill-opacity="0.65"/>
<rect x="240.6" y="125.5" width="5.9" height="1.7" fill-opacity="0.91"/>
<rect x="241.1" y="123.7" width="6.2" height="1.7" fill-opacity="0.60"/>
<rect x="240.3" y="118.2" width="7.9" height="1.7" fill-opacity="0.95"/>
<rect x="240.9" y="132.7" width="6.6" height="1.7" fill-opacity="0.87"/>
<rect x="241.5" y="125.5" width="6.8" height="1.7" fill-opacity="0.76"/>
<rect x="241.4" y="123.7" width="7.0" height="1.7" fill-opacity="0.68"/>
<rect x="241.6" y="125.5" width="6.6" height="1.7" fill-opacity="0.62"/>
<rect x="242.9" y="129.1" width="5.5" height="1.7" fill-opacity="0.79"/>
<rect x="242.0" y="127.2" width="7.2" height="1.7" fill-opacity="0.91"/>
<rect x="242.5" y="123.7" width="6.2" height="1.7" fill-opacity="0.90"/>
<rect x="243.4" y="125.5" width="5.8" height="1.7" fill-opacity="0.82"/>
<rect x="243.0" y="132.7" width="6.5" height="1.7" fill-opacity="0.88"/>
<rect x="242.4" y="129.1" width="7.8" height="1.7" fill-opacity="0.85"/>
<rect x="243.9" y="127.2" width="6.2" height="1.7" fill-opacity="0.67"/>
<rect x="243.7" y="130.9" width="6.5" height="1.7" fill-opacity="0.62"/>
<rect x="243.5" y="130.9" width="7.0" height="1.7" fill-opacity="0.67"/>
<rect x="244.4" y="121.9" width="6.5" height="1.7" fill-opacity="0.78"/>
<rect x="244.9" y="121.9" width="5.6" height="1.7" fill-opacity="0.67"/>
<rect x="244.2" y="129.1" width="7.0" height="1.7" fill-opacity="0.70"/>
<rect x="245.2" y="125.5" width="6.4" height="1.7" fill-opacity="0.97"/>
<rect x="244.8" y="125.5" width="7.2" height="1.7" fill-opacity="0.90"/>
<rect x="244.8" y="120.1" width="7.2" height="1.7" fill-opacity="0.90"/>
<rect x="245.5" y="120.1" width="7.2" height="1.7" fill-opacity="0.67"/>
<rect x="245.6" y="129.1" width="6.9" height="1.7" fill-opacity="0.63"/>
<rect x="246.4" y="130.9" width="5.3" height="1.7" fill-opacity="0.62"/>
<rect x="246.4" y="132.7" width="6.9" height="1.7" fill-opacity="0.69"/>
<rect x="246.0" y="132.7" width="7.5" height="1.7" fill-opacity="0.88"/>
<rect x="247.3" y="130.9" width="5.0" height="1.7" fill-opacity="0.67"/>
<rect x="247.9" y="134.5" width="5.1" height="1.7" fill-opacity="0.66"/>
<rect x="247.6" y="130.9" width="5.8" height="1.7" fill-opacity="0.63"/>
<rect x="246.6" y="134.5" width="7.7" height="1.7" fill-opacity="0.83"/>
<rect x="247.7" y="130.9" width="6.9" height="1.7" fill-opacity="0.93"/>
<rect x="247.2" y="125.5" width="7.9" height="1.7" fill-opacity="0.78"/>
<rect x="247.5" y="129.1" width="7.4" height="1.7" fill-opacity="0.84"/>
<rect x="248.1" y="121.9" width="7.7" height="1.7" fill-opacity="0.95"/>
<rect x="248.5" y="118.2" width="6.8" height="1.7" fill-opacity="0.85"/>
<rect x="248.3" y="127.2" width="7.2" height="1.7" fill-opacity="0.90"/>
<rect x="249.4" y="129.1" width="6.3" height="1.7" fill-opacity="0.69"/>
<rect x="249.0" y="123.7" width="7.2" height="1.7" fill-opacity="0.82"/>
<rect x="248.9" y="118.2" width="7.4" height="1.7" fill-opacity="0.90"/>
<rect x="250.7" y="130.9" width="5.2" height="1.7" fill-opacity="0.71"/>
<rect x="249.6" y="123.7" width="7.5" height="1.7" fill-opacity="0.68"/>
<rect x="250.7" y="125.5" width="5.2" height="1.7" fill-opacity="0.61"/>
<rect x="250.7" y="127.2" width="6.6" height="1.7" fill-opacity="0.63"/>
<rect x="251.0" y="127.2" width="5.9" height="1.7" fill-opacity="0.69"/>
<rect x="250.9" y="125.5" width="6.1" height="1.7" fill-opacity="0.83"/>
<rect x="251.3" y="121.9" width="6.8" height="1.7" fill-opacity="0.70"/>
<rect x="251.3" y="121.9" width="6.8" height="1.7" fill-opacity="0.89"/>
<rect x="250.8" y="127.2" width="7.7" height="1.7" fill-opacity="0.99"/>
<rect x="252.5" y="123.7" width="5.8" height="1.7" fill-opacity="0.85"/>
<rect x="252.8" y="120.1" width="5.3" height="1.7" fill-opacity="0.86"/>
<rect x="251.7" y="132.7" width="7.4" height="1.7" fill-opacity="0.81"/>
<rect x="253.5" y="123.7" width="5.2" height="1.7" fill-opacity="0.64"/>
<rect x="253.6" y="123.7" width="5.0" height="1.7" fill-opacity="0.99"/>
<rect x="252.9" y="130.9" width="6.4" height="1.7" fill-opacity="0.99"/>
<rect x="253.3" y="125.5" width="6.9" height="1.7" fill-opacity="0.61"/>
<rect x="253.3" y="123.7" width="7.0" height="1.7" fill-opacity="0.63"/>
<rect x="253.1" y="120.1" width="7.4" height="1.7" fill-opacity="0.98"/>
<rect x="254.9" y="127.2" width="5.3" height="1.7" fill-opacity="0.91"/>
<rect x="254.0" y="130.9" width="6.9" height="1.7" fill-opacity="0.83"/>
<rect x="254.9" y="120.1" width="5.2" height="1.7" fill-opacity="0.77"/>
<rect x="255.6" y="134.5" width="5.1" height="1.7" fill-opacity="0.90"/>
<rect x="254.3" y="120.1" width="7.8" height="1.7" fill-opacity="0.69"/>
<rect x="255.1" y="127.2" width="6.2" height="1.7" fill-opacity="0.74"/>
<rect x="255.8" y="129.1" width="6.1" height="1.7" fill-opacity="0.84"/>
<rect x="255.8" y="120.1" width="6.3" height="1.7" fill-opacity="0.74"/>
<rect x="256.1" y="129.1" width="5.6" height="1.7" fill-opacity="0.78"/>
<rect x="257.0" y="127.2" width="5.2" height="1.7" fill-opacity="0.66"/>
<rect x="256.8" y="127.2" width="5.6" height="1.7" fill-opacity="0.83"/>
<rect x="257.0" y="129.1" width="5.2" height="1.7" fill-opacity="0.94"/>
<rect x="257.4" y="120.1" width="5.9" height="1.7" fill-opacity="0.85"/>
<rect x="257.5" y="132.7" width="5.7" height="1.7" fill-opacity="0.76"/>
<rect x="256.4" y="125.5" width="7.9" height="1.7" fill-opacity="0.67"/>
<rect x="257.5" y="127.2" width="6.9" height="1.7" fill-opacity="0.66"/>
<rect x="258.1" y="127.2" width="5.7" height="1.7" fill-opacity="0.61"/>
<rect x="257.3" y="132.7" width="7.4" height="1.7" fill-opacity="0.94"/>
<rect x="258.3" y="123.7" width="6.8" height="1.7" fill-opacity="0.85"/>
<rect x="258.8" y="127.2" width="5.7" height="1.7" fill-opacity="0.70"/>
<rect x="258.3" y="118.2" width="6.7" height="1.7" fill-opacity="0.63"/>
<rect x="259.7" y="134.5" width="5.4" height="1.7" fill-opacity="0.99"/>
<rect x="259.3" y="118.2" width="6.1" height="1.7" fill-opacity="0.74"/>
<rect x="259.5" y="120.1" width="5.7" height="1.7" fill-opacity="0.61"/>
<rect x="260.3" y="125.5" width="5.7" height="1.7" fill-opacity="0.97"/>
<rect x="259.4" y="125.5" width="7.4" height="1.7" fill-opacity="0.74"/>
<rect x="260.1" y="130.9" width="6.1" height="1.7" fill-opacity="0.90"/>
<rect x="260.7" y="121.9" width="6.3" height="1.7" fill-opacity="0.65"/>
<rect x="260.6" y="121.9" width="6.5" height="1.7" fill-opacity="0.92"/>
<rect x="260.2" y="132.7" width="7.2" height="1.7" fill-opacity="0.88"/>
<rect x="260.6" y="129.1" width="7.8" height="1.7" fill-opacity="0.84"/>
<rect x="261.2" y="127.2" width="6.6" height="1.7" fill-opacity="0.98"/>
<rect x="261.2" y="121.9" width="6.5" height="1.7" fill-opacity="0.72"/>
<rect x="262.7" y="129.1" width="5.0" height="1.7" fill-opacity="0.68"/>
<rect x="261.7" y="125.5" width="7.0" height="1.7" fill-opacity="0.79"/>
<rect x="261.2" y="129.1" width="7.9" height="1.7" fill-opacity="0.64"/>
<rect x="262.5" y="129.1" width="6.8" height="1.7" fill-opacity="0.80"/>
<rect x="262.1" y="134.5" width="7.6" height="1.7" fill-opacity="0.77"/>
<rect x="262.2" y="129.1" width="7.4" height="1.7" fill-opacity="1.00"/>
<rect x="263.8" y="121.9" width="5.7" height="1.7" fill-opacity="0.93"/>
<rect x="263.4" y="121.9" width="6.5" height="1.7" fill-opacity="0.96"/>
<rect x="262.8" y="127.2" width="7.7" height="1.7" fill-opacity="0.97"/>
<rect x="264.4" y="134.5" width="5.9" height="1.7" fill-opacity="0.85"/>
<rect x="264.3" y="123.7" width="5.9" height="1.7" fill-opacity="0.96"/>
<rect x="264.7" y="134.5" width="5.3" height="1.7" fill-opacity="0.85"/>
<rect x="264.4" y="134.5" width="7.2" height="1.7" fill-opacity="0.71"/>
<rect x="265.1" y="121.9" width="5.8" height="1.7" fill-opacity="0.83"/>
<rect x="265.4" y="120.1" width="5.3" height="1.7" fill-opacity="0.87"/>
<rect x="265.4" y="120.1" width="6.5" height="1.7" fill-opacity="0.99"/>
<rect x="265.0" y="127.2" width="7.4" height="1.7" fill-opacity="0.61"/>
<rect x="265.1" y="130.9" width="7.2" height="1.7" fill-opacity="0.74"/>
<rect x="266.8" y="132.7" width="5.2" height="1.7" fill-opacity="0.63"/>
<rect x="266.7" y="134.5" width="5.4" height="1.7" fill-opacity="0.68"/>
<rect x="266.1" y="130.9" width="6.7" height="1.7" fill-opacity="0.86"/>
<rect x="266.7" y="121.9" width="6.8" height="1.7" fill-opacity="0.89"/>
<rect x="267.1" y="120.1" width="5.9" height="1.7" fill-opacity="0.77"/>
<rect x="267.5" y="121.9" width="5.2" height="1.7" fill-opacity="0.86"/>
<rect x="266.9" y="129.1" width="7.8" height="1.7" fill-opacity="0.65"/>
<rect x="267.0" y="123.7" width="7.5" height="1.7" fill-opacity="0.84"/>
<rect x="266.9" y="132.7" width="7.9" height="1.7" fill-opacity="0.65"/>
<rect x="268.2" y="120.1" width="6.7" height="1.7" fill-opacity="0.69"/>
<rect x="269.0" y="123.7" width="5.0" height="1.7" fill-opacity="0.96"/>
<rect x="268.2" y="121.9" width="6.6" height="1.7" fill-opacity="0.62"/>
<rect x="269.5" y="129.1" width="5.4" height="1.7" fill-opacity="0.85"/>
<rect x="269.6" y="127.2" width="5.3" height="1.7" fill-opacity="0.71"/>
<rect x="268.7" y="127.2" width="7.0" height="1.7" fill-opacity="0.97"/>
<rect x="270.1" y="123.7" width="5.6" height="1.7" fill-opacity="0.90"/>
<rect x="270.1" y="121.9" width="5.6" height="1.7" fill-opacity="0.77"/>
<rect x="269.2" y="125.5" width="7.4" height="1.7" fill-opacity="0.79"/>
<rect x="270.5" y="121.9" width="6.2" height="1.7" fill-opacity="0.89"/>
<rect x="270.7" y="125.5" width="5.8" height="1.7" fill-opacity="0.72"/>
<rect x="270.2" y="121.9" width="6.7" height="1.7" fill-opacity="0.62"/>
<rect x="271.5" y="121.9" width="5.5" height="1.7" fill-opacity="0.93"/>
<rect x="271.6" y="132.7" width="5.4" height="1.7" fill-opacity="0.68"/>
<rect x="270.5" y="127.2" width="7.5" height="1.7" fill-opacity="0.93"/>
<rect x="272.5" y="118.2" width="5.1" height="1.7" fill-opacity="0.73"/>
<rect x="272.0" y="118.2" width="6.1" height="1.7" fill-opacity="0.65"/>
<rect x="272.0" y="121.9" width="6.0" height="1.7" fill-opacity="0.67"/>
<rect x="272.5" y="120.1" width="6.3" height="1.7" fill-opacity="0.69"/>
<rect x="272.1" y="134.5" width="7.1" height="1.7" fill-opacity="0.89"/>
<rect x="271.8" y="134.5" width="7.9" height="1.7" fill-opacity="0.85"/>
<rect x="273.1" y="120.1" width="6.6" height="1.7" fill-opacity="0.79"/>
<rect x="272.7" y="134.5" width="7.5" height="1.7" fill-opacity="0.70"/>
<rect x="273.8" y="129.1" width="5.1" height="1.7" fill-opacity="0.68"/>
<rect x="245.8" y="142.3" width="11.8" height="1.7" fill-opacity="0.66"/>
<rect x="251.0" y="142.2" width="8.8" height="1.7" fill-opacity="0.82"/>
<rect x="254.1" y="142.1" width="12.5" height="1.7" fill-opacity="0.95"/>
<rect x="207.1" y="141.8" width="9.1" height="1.7" fill-opacity="0.79"/>
<rect x="252.2" y="142.1" width="12.8" height="1.7" fill-opacity="0.67"/>
<rect x="203.7" y="141.8" width="11.6" height="1.7" fill-opacity="0.80"/>
<rect x="213.0" y="142.2" width="7.8" height="1.7" fill-opacity="0.91"/>
<rect x="199.8" y="142.4" width="12.9" height="1.7" fill-opacity="0.68"/>
<rect x="191.7" y="144.3" width="10.3" height="1.7" fill-opacity="0.96"/>
<rect x="265.8" y="143.9" width="12.3" height="1.7" fill-opacity="0.93"/>
<rect x="212.4" y="143.9" width="10.4" height="1.7" fill-opacity="0.94"/>
<rect x="181.4" y="144.1" width="12.7" height="1.7" fill-opacity="0.90"/>
<rect x="264.2" y="144.3" width="7.1" height="1.7" fill-opacity="0.90"/>
<rect x="254.1" y="143.7" width="9.6" height="1.7" fill-opacity="0.90"/>
<rect x="267.6" y="144.2" width="9.8" height="1.7" fill-opacity="0.96"/>
<rect x="203.4" y="144.0" width="9.4" height="1.7" fill-opacity="0.91"/>
<rect x="255.5" y="146.3" width="12.5" height="1.7" fill-opacity="0.91"/>
<rect x="214.8" y="145.9" width="7.5" height="1.7" fill-opacity="0.69"/>
<rect x="197.9" y="145.6" width="9.2" height="1.7" fill-opacity="0.84"/>
<rect x="234.4" y="145.9" width="12.7" height="1.7" fill-opacity="0.71"/>
<rect x="233.2" y="145.9" width="11.1" height="1.7" fill-opacity="0.83"/>
<rect x="179.1" y="145.7" width="12.4" height="1.7" fill-opacity="0.93"/>
<rect x="216.7" y="145.8" width="9.0" height="1.7" fill-opacity="0.92"/>
<rect x="243.7" y="145.8" width="10.3" height="1.7" fill-opacity="0.91"/>
<rect x="182.8" y="147.7" width="10.7" height="1.7" fill-opacity="0.85"/>
<rect x="176.4" y="147.9" width="9.8" height="1.7" fill-opacity="0.95"/>
<rect x="235.5" y="147.6" width="8.2" height="1.7" fill-opacity="0.69"/>
<rect x="259.6" y="148.1" width="10.7" height="1.7" fill-opacity="0.86"/>
<rect x="198.8" y="147.8" width="12.1" height="1.7" fill-opacity="0.99"/>
<rect x="234.7" y="147.7" width="10.8" height="1.7" fill-opacity="0.68"/>
<rect x="236.5" y="148.0" width="8.4" height="1.7" fill-opacity="0.87"/>
<rect x="193.8" y="147.5" width="7.0" height="1.7" fill-opacity="0.78"/>
<rect x="248.7" y="149.5" width="9.8" height="1.7" fill-opacity="0.77"/>
<rect x="242.9" y="149.8" width="8.8" height="1.7" fill-opacity="0.88"/>
<rect x="267.1" y="149.7" width="9.2" height="1.7" fill-opacity="0.75"/>
<rect x="238.3" y="149.7" width="10.5" height="1.7" fill-opacity="0.87"/>
<rect x="200.3" y="149.5" width="8.6" height="1.7" fill-opacity="0.89"/>
<rect x="221.7" y="150.1" width="7.7" height="1.7" fill-opacity="0.92"/>
<rect x="191.5" y="149.8" width="11.4" height="1.7" fill-opacity="0.66"/>
<rect x="183.4" y="149.4" width="7.2" height="1.7" fill-opacity="0.77"/>
<rect x="178.5" y="151.3" width="8.3" height="1.7" fill-opacity="0.98"/>
<rect x="182.9" y="151.4" width="12.5" height="1.7" fill-opacity="0.96"/>
<rect x="226.9" y="152.0" width="7.9" height="1.7" fill-opacity="0.97"/>
<rect x="233.3" y="152.0" width="8.9" height="1.7" fill-opacity="0.96"/>
<rect x="235.7" y="151.8" width="11.6" height="1.7" fill-opacity="0.80"/>
<rect x="217.7" y="151.3" width="12.6" height="1.7" fill-opacity="0.81"/>
<rect x="211.2" y="152.0" width="11.3" height="1.7" fill-opacity="0.91"/>
<rect x="242.7" y="151.3" width="11.2" height="1.7" fill-opacity="0.98"/>
<rect x="172.8" y="153.4" width="12.1" height="1.7" fill-opacity="0.76"/>
<rect x="226.3" y="153.7" width="10.9" height="1.7" fill-opacity="0.97"/>
<rect x="200.3" y="153.8" width="8.7" height="1.7" fill-opacity="0.91"/>
<rect x="207.5" y="153.7" width="12.2" height="1.7" fill-opacity="0.94"/>
<rect x="230.1" y="153.8" width="11.1" height="1.7" fill-opacity="0.71"/>
<rect x="227.4" y="153.3" width="11.2" height="1.7" fill-opacity="0.95"/>
<rect x="183.0" y="153.7" width="8.0" height="1.7" fill-opacity="0.87"/>
<rect x="186.4" y="153.8" width="12.4" height="1.7" fill-opacity="0.98"/>
<rect x="202.6" y="155.8" width="11.2" height="1.7" fill-opacity="0.81"/>
<rect x="221.6" y="155.3" width="8.4" height="1.7" fill-opacity="0.97"/>
<rect x="173.0" y="155.6" width="12.3" height="1.7" fill-opacity="0.98"/>
<rect x="195.3" y="155.1" width="10.5" height="1.7" fill-opacity="0.94"/>
<rect x="173.9" y="155.2" width="11.8" height="1.7" fill-opacity="0.73"/>
<rect x="173.3" y="155.4" width="7.1" height="1.7" fill-opacity="0.79"/>
<rect x="185.1" y="155.6" width="12.2" height="1.7" fill-opacity="0.78"/>
<rect x="175.9" y="155.4" width="11.0" height="1.7" fill-opacity="0.80"/>
<rect x="206.3" y="157.3" width="10.3" height="1.7" fill-opacity="0.83"/>
<rect x="181.1" y="157.1" width="11.1" height="1.7" fill-opacity="0.75"/>
<rect x="216.8" y="157.7" width="9.3" height="1.7" fill-opacity="0.89"/>
<rect x="196.2" y="157.7" width="11.5" height="1.7" fill-opacity="0.83"/>
<rect x="202.8" y="157.1" width="11.1" height="1.7" fill-opacity="0.85"/>
<rect x="210.0" y="157.1" width="11.1" height="1.7" fill-opacity="0.78"/>
<rect x="195.0" y="157.3" width="12.8" height="1.7" fill-opacity="0.99"/>
<rect x="196.0" y="157.1" width="12.2" height="1.7" fill-opacity="0.78"/>
<rect x="191.1" y="160.9" width="8.4" height="1.7" fill-opacity="0.99"/>
<rect x="179.2" y="161.1" width="7.0" height="1.7" fill-opacity="0.78"/>
<rect x="189.0" y="161.1" width="9.0" height="1.7" fill-opacity="0.82"/>
<rect x="182.0" y="161.0" width="9.0" height="1.7" fill-opacity="0.76"/>
<rect x="198.2" y="162.9" width="11.8" height="1.7" fill-opacity="0.78"/>
<rect x="177.8" y="162.8" width="10.4" height="1.7" fill-opacity="0.81"/>
<rect x="191.1" y="163.2" width="11.2" height="1.7" fill-opacity="0.56"/>
<rect x="194.1" y="163.0" width="7.9" height="1.7" fill-opacity="0.82"/>
<rect x="183.5" y="164.9" width="8.6" height="1.7" fill-opacity="0.80"/>
<rect x="177.4" y="164.4" width="11.5" height="1.7" fill-opacity="0.79"/>
<rect x="198.3" y="164.8" width="11.1" height="1.7" fill-opacity="0.78"/>
<rect x="187.0" y="165.0" width="7.0" height="1.7" fill-opacity="0.80"/>
<rect x="186.7" y="166.7" width="10.8" height="1.7" fill-opacity="0.74"/>
<rect x="174.7" y="167.0" width="11.0" height="1.7" fill-opacity="0.85"/>
<rect x="182.8" y="166.8" width="10.5" height="1.7" fill-opacity="0.78"/>
<rect x="197.3" y="166.6" width="11.5" height="1.7" fill-opacity="0.72"/>
<rect x="171.3" y="168.6" width="10.0" height="1.7" fill-opacity="0.68"/>
<rect x="178.3" y="168.4" width="7.0" height="1.7" fill-opacity="0.68"/>
<rect x="187.1" y="168.7" width="11.2" height="1.7" fill-opacity="0.89"/>
<rect x="189.1" y="168.3" width="8.6" height="1.7" fill-opacity="0.89"/>
<rect x="169.5" y="170.8" width="11.3" height="1.7" fill-opacity="0.65"/>
<rect x="177.4" y="170.2" width="9.7" height="1.7" fill-opacity="0.82"/>
<rect x="182.2" y="170.5" width="9.2" height="1.7" fill-opacity="0.90"/>
<rect x="190.2" y="170.4" width="10.2" height="1.7" fill-opacity="0.84"/>
<rect x="179.8" y="172.5" width="6.5" height="1.7" fill-opacity="0.66"/>
<rect x="180.3" y="172.3" width="7.7" height="1.7" fill-opacity="0.99"/>
<rect x="184.2" y="172.2" width="7.5" height="1.7" fill-opacity="0.70"/>
<rect x="177.3" y="172.4" width="11.5" height="1.7" fill-opacity="0.66"/>
<rect x="184.9" y="173.9" width="6.6" height="1.7" fill-opacity="0.79"/>
<rect x="175.9" y="174.5" width="11.7" height="1.7" fill-opacity="0.56"/>
<rect x="174.4" y="173.9" width="11.9" height="1.7" fill-opacity="0.67"/>
<rect x="175.7" y="174.1" width="9.2" height="1.7" fill-opacity="0.76"/>
<rect x="179.2" y="176.2" width="7.1" height="1.7" fill-opacity="0.81"/>
<rect x="171.1" y="176.5" width="8.7" height="1.7" fill-opacity="0.60"/>
<rect x="176.0" y="175.9" width="8.5" height="1.7" fill-opacity="0.94"/>
<rect x="180.2" y="175.9" width="9.3" height="1.7" fill-opacity="0.74"/>
<rect x="182.2" y="178.3" width="9.3" height="1.7" fill-opacity="0.97"/>
<rect x="181.0" y="177.9" width="8.8" height="1.7" fill-opacity="0.97"/>
<rect x="166.9" y="178.0" width="11.2" height="1.7" fill-opacity="0.86"/>
<rect x="185.3" y="178.3" width="9.0" height="1.7" fill-opacity="0.74"/>
<rect x="167.5" y="180.3" width="9.1" height="1.7" fill-opacity="0.93"/>
<rect x="183.8" y="179.6" width="7.4" height="1.7" fill-opacity="0.77"/>
<rect x="173.6" y="180.0" width="9.0" height="1.7" fill-opacity="0.75"/>
<rect x="171.0" y="179.7" width="9.9" height="1.7" fill-opacity="0.66"/>
<rect x="175.8" y="182.1" width="8.5" height="1.7" fill-opacity="0.99"/>
<rect x="176.6" y="181.5" width="7.8" height="1.7" fill-opacity="0.84"/>
<rect x="177.1" y="181.8" width="9.6" height="1.7" fill-opacity="1.00"/>
<rect x="167.1" y="181.6" width="6.1" height="1.7" fill-opacity="0.88"/>
<rect x="183.5" y="183.5" width="8.1" height="1.7" fill-opacity="0.65"/>
<rect x="180.6" y="183.6" width="9.2" height="1.7" fill-opacity="0.96"/>
<rect x="175.5" y="183.5" width="10.1" height="1.7" fill-opacity="0.80"/>
<rect x="172.0" y="183.6" width="6.1" height="1.7" fill-opacity="0.66"/>
<rect x="166.4" y="185.8" width="9.9" height="1.7" fill-opacity="0.95"/>
<rect x="176.9" y="186.0" width="6.1" height="1.7" fill-opacity="0.80"/>
<rect x="174.8" y="186.0" width="8.4" height="1.7" fill-opacity="0.82"/>
<rect x="180.6" y="185.9" width="8.8" height="1.7" fill-opacity="0.78"/>
<rect x="180.7" y="187.7" width="7.8" height="1.7" fill-opacity="0.58"/>
<rect x="173.8" y="187.4" width="8.6" height="1.7" fill-opacity="0.96"/>
<rect x="167.6" y="187.9" width="11.0" height="1.7" fill-opacity="0.80"/>
<rect x="179.4" y="187.6" width="8.6" height="1.7" fill-opacity="0.79"/>
<rect x="167.7" y="189.4" width="8.7" height="1.7" fill-opacity="0.67"/>
<rect x="164.4" y="189.6" width="8.2" height="1.7" fill-opacity="0.59"/>
<rect x="167.9" y="189.5" width="7.9" height="1.7" fill-opacity="0.68"/>
<rect x="177.3" y="189.1" width="7.8" height="1.7" fill-opacity="0.58"/>
<rect x="166.5" y="191.5" width="10.1" height="1.7" fill-opacity="0.71"/>
<rect x="170.5" y="191.5" width="7.6" height="1.7" fill-opacity="0.93"/>
<rect x="169.8" y="191.6" width="9.4" height="1.7" fill-opacity="0.77"/>
<rect x="167.3" y="191.3" width="11.5" height="1.7" fill-opacity="0.99"/>
<rect x="170.1" y="193.3" width="9.2" height="1.7" fill-opacity="0.78"/>
<rect x="167.6" y="192.9" width="7.6" height="1.7" fill-opacity="0.87"/>
<rect x="170.4" y="193.5" width="10.4" height="1.7" fill-opacity="0.60"/>
<rect x="164.6" y="193.6" width="11.5" height="1.7" fill-opacity="0.91"/>
<rect x="169.2" y="195.3" width="7.3" height="1.7" fill-opacity="0.56"/>
<rect x="170.2" y="195.2" width="7.1" height="1.7" fill-opacity="0.56"/>
<rect x="171.5" y="195.5" width="6.1" height="1.7" fill-opacity="0.87"/>
<rect x="164.7" y="195.3" width="11.6" height="1.7" fill-opacity="0.89"/>
<rect x="165.5" y="197.2" width="6.7" height="1.7" fill-opacity="0.61"/>
<rect x="164.5" y="196.8" width="11.6" height="1.7" fill-opacity="0.84"/>
<rect x="164.7" y="197.3" width="10.7" height="1.7" fill-opacity="0.92"/>
<rect x="165.5" y="196.7" width="9.3" height="1.7" fill-opacity="0.96"/>
<rect x="164.1" y="199.3" width="9.7" height="1.7" fill-opacity="0.99"/>
<rect x="167.5" y="198.9" width="6.8" height="1.7" fill-opacity="0.76"/>
<rect x="168.4" y="199.0" width="6.9" height="1.7" fill-opacity="0.89"/>
<rect x="166.0" y="198.8" width="8.4" height="1.7" fill-opacity="0.84"/>
<rect x="202.1" y="159.7" width="5.9" height="1.7" fill-opacity="0.75"/>
<rect x="202.2" y="143.5" width="5.6" height="1.7" fill-opacity="0.61"/>
<rect x="201.2" y="150.7" width="7.6" height="1.7" fill-opacity="0.62"/>
<rect x="202.0" y="145.3" width="7.5" height="1.7" fill-opacity="0.74"/>
<rect x="202.7" y="156.1" width="6.1" height="1.7" fill-opacity="0.61"/>
<rect x="202.1" y="157.9" width="7.2" height="1.7" fill-opacity="1.00"/>
<rect x="203.4" y="159.7" width="6.0" height="1.7" fill-opacity="0.81"/>
<rect x="202.5" y="150.7" width="7.7" height="1.7" fill-opacity="0.70"/>
<rect x="203.2" y="163.3" width="6.4" height="1.7" fill-opacity="0.93"/>
<rect x="203.5" y="150.7" width="7.2" height="1.7" fill-opacity="0.86"/>
<rect x="204.5" y="163.3" width="5.3" height="1.7" fill-opacity="0.94"/>
<rect x="203.9" y="157.9" width="6.4" height="1.7" fill-opacity="0.90"/>
<rect x="204.0" y="156.1" width="7.6" height="1.7" fill-opacity="0.76"/>
<rect x="204.5" y="157.9" width="6.5" height="1.7" fill-opacity="0.91"/>
<rect x="204.5" y="145.3" width="6.6" height="1.7" fill-opacity="0.90"/>
<rect x="204.7" y="152.5" width="7.5" height="1.7" fill-opacity="0.61"/>
<rect x="205.5" y="148.9" width="6.1" height="1.7" fill-opacity="0.88"/>
<rect x="205.8" y="148.9" width="5.5" height="1.7" fill-opacity="0.77"/>
<rect x="205.6" y="163.3" width="7.2" height="1.7" fill-opacity="0.88"/>
<rect x="206.5" y="161.5" width="5.5" height="1.7" fill-opacity="0.66"/>
<rect x="205.9" y="143.5" width="6.6" height="1.7" fill-opacity="0.76"/>
<rect x="207.1" y="154.3" width="5.7" height="1.7" fill-opacity="0.63"/>
<rect x="206.7" y="152.5" width="6.4" height="1.7" fill-opacity="0.83"/>
<rect x="206.2" y="148.9" width="7.5" height="1.7" fill-opacity="0.72"/>
<rect x="206.7" y="145.3" width="7.8" height="1.7" fill-opacity="0.95"/>
<rect x="207.5" y="148.9" width="6.1" height="1.7" fill-opacity="0.95"/>
<rect x="206.8" y="161.5" width="7.6" height="1.7" fill-opacity="0.87"/>
<rect x="208.5" y="159.7" width="5.5" height="1.7" fill-opacity="0.90"/>
<rect x="207.8" y="143.5" width="7.0" height="1.7" fill-opacity="0.70"/>
<rect x="207.8" y="145.3" width="7.0" height="1.7" fill-opacity="0.77"/>
<rect x="209.0" y="147.1" width="5.9" height="1.7" fill-opacity="0.91"/>
<rect x="209.3" y="159.7" width="5.5" height="1.7" fill-opacity="0.68"/>
<rect x="209.2" y="148.9" width="5.6" height="1.7" fill-opacity="0.90"/>
<rect x="210.0" y="152.5" width="5.4" height="1.7" fill-opacity="0.73"/>
<rect x="208.8" y="150.7" width="7.8" height="1.7" fill-opacity="0.89"/>
<rect x="209.8" y="159.7" width="5.8" height="1.7" fill-opacity="0.68"/>
<rect x="209.8" y="156.1" width="7.2" height="1.7" fill-opacity="0.80"/>
<rect x="209.5" y="148.9" width="7.8" height="1.7" fill-opacity="0.90"/>
<rect x="209.5" y="152.5" width="7.8" height="1.7" fill-opacity="0.79"/>
<rect x="210.2" y="150.7" width="7.9" height="1.7" fill-opacity="0.73"/>
<rect x="210.8" y="152.5" width="6.6" height="1.7" fill-opacity="0.94"/>
<rect x="210.5" y="145.3" width="7.1" height="1.7" fill-opacity="0.81"/>
<rect x="210.9" y="145.3" width="7.7" height="1.7" fill-opacity="1.00"/>
<rect x="212.2" y="152.5" width="5.2" height="1.7" fill-opacity="0.73"/>
<rect x="211.7" y="143.5" width="6.1" height="1.7" fill-opacity="0.75"/>
<rect x="212.8" y="143.5" width="5.4" height="1.7" fill-opacity="0.98"/>
<rect x="212.3" y="147.1" width="6.3" height="1.7" fill-opacity="0.75"/>
<rect x="211.9" y="145.3" width="7.2" height="1.7" fill-opacity="0.97"/>
<rect x="212.5" y="157.9" width="7.4" height="1.7" fill-opacity="0.81"/>
<rect x="213.1" y="154.3" width="6.1" height="1.7" fill-opacity="0.63"/>
<rect x="212.7" y="156.1" width="7.0" height="1.7" fill-opacity="0.62"/>
<rect x="213.6" y="143.5" width="6.6" height="1.7" fill-opacity="0.67"/>
<rect x="213.5" y="147.1" width="6.8" height="1.7" fill-opacity="0.88"/>
<rect x="214.3" y="150.7" width="5.2" height="1.7" fill-opacity="0.62"/>
<rect x="214.8" y="145.3" width="5.5" height="1.7" fill-opacity="0.72"/>
<rect x="214.6" y="156.1" width="6.1" height="1.7" fill-opacity="0.79"/>
<rect x="214.3" y="145.3" width="6.5" height="1.7" fill-opacity="0.62"/>
<rect x="214.9" y="157.9" width="6.7" height="1.7" fill-opacity="0.72"/>
<rect x="215.1" y="150.7" width="6.5" height="1.7" fill-opacity="0.85"/>
<rect x="214.3" y="156.1" width="7.9" height="1.7" fill-opacity="0.98"/>
<rect x="215.3" y="152.5" width="7.4" height="1.7" fill-opacity="0.68"/>
<rect x="215.8" y="156.1" width="6.3" height="1.7" fill-opacity="0.61"/>
<rect x="216.1" y="145.3" width="5.8" height="1.7" fill-opacity="0.97"/>
<rect x="216.8" y="156.1" width="5.8" height="1.7" fill-opacity="0.92"/>
<rect x="216.2" y="150.7" width="7.1" height="1.7" fill-opacity="0.89"/>
<rect x="217.0" y="152.5" width="5.5" height="1.7" fill-opacity="0.70"/>
<rect x="217.3" y="145.3" width="6.2" height="1.7" fill-opacity="0.65"/>
<rect x="217.4" y="145.3" width="6.1" height="1.7" fill-opacity="0.99"/>
<rect x="217.9" y="150.7" width="5.1" height="1.7" fill-opacity="0.71"/>
<rect x="218.4" y="152.5" width="5.5" height="1.7" fill-opacity="0.67"/>
<rect x="217.6" y="154.3" width="7.0" height="1.7" fill-opacity="0.72"/>
<rect x="217.8" y="147.1" width="6.6" height="1.7" fill-opacity="0.83"/>
<rect x="218.4" y="145.3" width="6.9" height="1.7" fill-opacity="0.71"/>
<rect x="219.2" y="145.3" width="5.3" height="1.7" fill-opacity="0.63"/>
<rect x="219.3" y="150.7" width="5.1" height="1.7" fill-opacity="0.74"/>
<rect x="218.8" y="145.3" width="7.5" height="1.7" fill-opacity="0.60"/>
<rect x="219.7" y="150.7" width="5.6" height="1.7" fill-opacity="0.99"/>
<rect x="218.9" y="145.3" width="7.3" height="1.7" fill-opacity="0.61"/>
<rect x="219.7" y="154.3" width="6.9" height="1.7" fill-opacity="0.61"/>
<rect x="219.4" y="154.3" width="7.5" height="1.7" fill-opacity="0.71"/>
<rect x="220.5" y="154.3" width="5.3" height="1.7" fill-opacity="0.95"/>
<rect x="221.1" y="147.1" width="5.6" height="1.7" fill-opacity="0.68"/>
<rect x="220.0" y="143.5" width="7.9" height="1.7" fill-opacity="0.68"/>
<rect x="220.0" y="147.1" width="7.8" height="1.7" fill-opacity="0.82"/>
<rect x="221.3" y="154.3" width="6.7" height="1.7" fill-opacity="0.78"/>
<rect x="221.2" y="154.3" width="6.9" height="1.7" fill-opacity="0.79"/>
<rect x="221.0" y="148.9" width="7.2" height="1.7" fill-opacity="0.67"/>
<rect x="222.4" y="150.7" width="5.8" height="1.7" fill-opacity="1.00"/>
<rect x="221.7" y="152.5" width="7.2" height="1.7" fill-opacity="0.71"/>
<rect x="222.1" y="154.3" width="6.4" height="1.7" fill-opacity="0.83"/>
<rect x="223.4" y="145.3" width="5.1" height="1.7" fill-opacity="0.67"/>
<rect x="222.2" y="150.7" width="7.6" height="1.7" fill-opacity="0.71"/>
<rect x="223.3" y="148.9" width="5.5" height="1.7" fill-opacity="0.70"/>
<rect x="224.0" y="152.5" width="5.3" height="1.7" fill-opacity="0.67"/>
<rect x="223.9" y="148.9" width="5.5" height="1.7" fill-opacity="0.86"/>
<rect x="222.8" y="156.1" width="7.9" height="1.7" fill-opacity="0.85"/>
<rect x="224.5" y="148.9" width="5.8" height="1.7" fill-opacity="0.71"/>
<rect x="223.9" y="152.5" width="7.0" height="1.7" fill-opacity="0.71"/>
<rect x="224.1" y="156.1" width="6.7" height="1.7" fill-opacity="0.88"/>
<rect x="224.5" y="154.3" width="7.2" height="1.7" fill-opacity="0.80"/>
<rect x="225.6" y="148.9" width="5.1" height="1.7" fill-opacity="0.68"/>
<rect x="225.3" y="143.5" width="5.6" height="1.7" fill-opacity="0.74"/>
<rect x="225.7" y="145.3" width="6.2" height="1.7" fill-opacity="0.81"/>
<rect x="226.2" y="150.7" width="5.2" height="1.7" fill-opacity="0.73"/>
<rect x="225.6" y="156.1" width="6.3" height="1.7" fill-opacity="0.72"/>
<rect x="226.8" y="147.1" width="5.5" height="1.7" fill-opacity="0.73"/>
<rect x="226.7" y="147.1" width="5.7" height="1.7" fill-opacity="0.62"/>
<rect x="226.6" y="147.1" width="5.8" height="1.7" fill-opacity="0.94"/>
<rect x="227.6" y="148.9" width="5.2" height="1.7" fill-opacity="0.93"/>
<rect x="227.3" y="143.5" width="5.9" height="1.7" fill-opacity="0.93"/>
<rect x="226.2" y="145.3" width="8.0" height="1.7" fill-opacity="0.68"/>
<rect x="226.9" y="150.7" width="8.0" height="1.7" fill-opacity="0.88"/>
<rect x="228.1" y="143.5" width="5.6" height="1.7" fill-opacity="0.87"/>
<rect x="227.4" y="143.5" width="7.0" height="1.7" fill-opacity="0.87"/>
<rect x="228.6" y="154.3" width="5.9" height="1.7" fill-opacity="0.75"/>
<rect x="228.2" y="148.9" width="6.9" height="1.7" fill-opacity="0.62"/>
<rect x="227.9" y="145.3" width="7.5" height="1.7" fill-opacity="0.91"/>
<rect x="228.3" y="150.7" width="7.9" height="1.7" fill-opacity="0.93"/>
<rect x="229.8" y="147.1" width="5.0" height="1.7" fill-opacity="1.00"/>
<rect x="228.9" y="143.5" width="6.8" height="1.7" fill-opacity="1.00"/>
<rect x="230.5" y="145.3" width="5.1" height="1.7" fill-opacity="0.66"/>
<rect x="230.1" y="147.1" width="5.8" height="1.7" fill-opacity="0.95"/>
<rect x="230.2" y="156.1" width="5.6" height="1.7" fill-opacity="0.88"/>
<rect x="230.4" y="148.9" width="6.5" height="1.7" fill-opacity="0.73"/>
<rect x="230.0" y="145.3" width="7.4" height="1.7" fill-opacity="0.91"/>
<rect x="231.0" y="143.5" width="5.4" height="1.7" fill-opacity="0.92"/>
<rect x="230.9" y="145.3" width="7.0" height="1.7" fill-opacity="0.90"/>
<rect x="231.6" y="143.5" width="5.6" height="1.7" fill-opacity="0.63"/>
<rect x="230.9" y="147.1" width="7.1" height="1.7" fill-opacity="0.67"/>
<rect x="231.9" y="145.3" width="6.3" height="1.7" fill-opacity="0.84"/>
<rect x="231.4" y="145.3" width="7.3" height="1.7" fill-opacity="0.62"/>
<rect x="232.5" y="150.7" width="5.2" height="1.7" fill-opacity="0.94"/>
<rect x="232.2" y="145.3" width="7.1" height="1.7" fill-opacity="0.86"/>
<rect x="232.7" y="148.9" width="6.1" height="1.7" fill-opacity="0.95"/>
<rect x="232.8" y="154.3" width="6.1" height="1.7" fill-opacity="0.76"/>
<rect x="233.7" y="152.5" width="5.6" height="1.7" fill-opacity="0.86"/>
<rect x="233.2" y="147.1" width="6.7" height="1.7" fill-opacity="0.86"/>
<rect x="233.4" y="147.1" width="6.1" height="1.7" fill-opacity="0.67"/>
<rect x="233.5" y="147.1" width="7.4" height="1.7" fill-opacity="0.62"/>
<rect x="233.4" y="145.3" width="7.6" height="1.7" fill-opacity="0.93"/>
<rect x="234.4" y="143.5" width="5.6" height="1.7" fill-opacity="0.68"/>
<rect x="235.4" y="152.5" width="5.1" height="1.7" fill-opacity="0.60"/>
<rect x="234.6" y="148.9" width="6.7" height="1.7" fill-opacity="0.94"/>
<rect x="233.9" y="143.5" width="7.9" height="1.7" fill-opacity="0.78"/>
<rect x="235.7" y="145.3" width="5.7" height="1.7" fill-opacity="0.67"/>
<rect x="235.7" y="148.9" width="5.8" height="1.7" fill-opacity="0.71"/>
<rect x="234.7" y="143.5" width="7.7" height="1.7" fill-opacity="0.78"/>
<rect x="235.3" y="143.5" width="8.0" height="1.7" fill-opacity="0.61"/>
<rect x="236.4" y="143.5" width="5.9" height="1.7" fill-opacity="0.79"/>
<rect x="235.9" y="152.5" width="6.7" height="1.7" fill-opacity="0.88"/>
<rect x="237.1" y="147.1" width="5.8" height="1.7" fill-opacity="0.79"/>
<rect x="237.3" y="143.5" width="5.4" height="1.7" fill-opacity="0.62"/>
<rect x="236.1" y="150.7" width="7.9" height="1.7" fill-opacity="0.84"/>
<rect x="237.5" y="150.7" width="6.5" height="1.7" fill-opacity="0.71"/>
<rect x="237.7" y="145.3" width="5.9" height="1.7" fill-opacity="0.62"/>
<rect x="237.5" y="154.3" width="6.4" height="1.7" fill-opacity="0.89"/>
<rect x="238.4" y="145.3" width="6.1" height="1.7" fill-opacity="0.80"/>
<rect x="238.9" y="148.9" width="5.1" height="1.7" fill-opacity="0.75"/>
<rect x="238.1" y="148.9" width="6.6" height="1.7" fill-opacity="0.96"/>
<rect x="238.9" y="154.3" width="6.3" height="1.7" fill-opacity="0.72"/>
<rect x="239.0" y="143.5" width="6.1" height="1.7" fill-opacity="0.62"/>
<rect x="238.2" y="152.5" width="7.8" height="1.7" fill-opacity="0.67"/>
<rect x="239.5" y="150.7" width="6.6" height="1.7" fill-opacity="0.78"/>
<rect x="238.9" y="148.9" width="7.8" height="1.7" fill-opacity="0.97"/>
<rect x="239.7" y="148.9" width="6.3" height="1.7" fill-opacity="0.96"/>
<rect x="240.4" y="147.1" width="6.1" height="1.7" fill-opacity="0.73"/>
<rect x="240.1" y="150.7" width="6.9" height="1.7" fill-opacity="0.81"/>
<rect x="240.3" y="141.7" width="6.4" height="1.7" fill-opacity="0.88"/>
<rect x="241.4" y="152.5" width="5.7" height="1.7" fill-opacity="0.97"/>
<rect x="240.5" y="150.7" width="7.5" height="1.7" fill-opacity="0.68"/>
<rect x="240.9" y="145.3" width="6.6" height="1.7" fill-opacity="0.96"/>
<rect x="241.2" y="154.3" width="7.5" height="1.7" fill-opacity="0.62"/>
<rect x="241.7" y="156.1" width="6.5" height="1.7" fill-opacity="0.91"/>
<rect x="242.4" y="147.1" width="5.0" height="1.7" fill-opacity="0.95"/>
<rect x="242.1" y="147.1" width="7.0" height="1.7" fill-opacity="0.60"/>
<rect x="241.6" y="150.7" width="7.9" height="1.7" fill-opacity="0.88"/>
<rect x="242.3" y="145.3" width="6.5" height="1.7" fill-opacity="0.95"/>
<rect x="243.5" y="148.9" width="5.7" height="1.7" fill-opacity="0.66"/>
<rect x="243.1" y="147.1" width="6.4" height="1.7" fill-opacity="0.98"/>
<rect x="242.7" y="145.3" width="7.2" height="1.7" fill-opacity="0.98"/>
<rect x="243.9" y="145.3" width="6.2" height="1.7" fill-opacity="0.62"/>
<rect x="244.1" y="148.9" width="5.7" height="1.7" fill-opacity="0.69"/>
<rect x="243.7" y="148.9" width="6.7" height="1.7" fill-opacity="0.86"/>
<rect x="243.7" y="152.5" width="7.9" height="1.7" fill-opacity="0.64"/>
<rect x="245.0" y="143.5" width="5.4" height="1.7" fill-opacity="0.70"/>
<rect x="244.8" y="143.5" width="5.7" height="1.7" fill-opacity="0.92"/>
<rect x="245.1" y="148.9" width="6.6" height="1.7" fill-opacity="0.90"/>
<rect x="245.2" y="143.5" width="6.4" height="1.7" fill-opacity="0.68"/>
<rect x="245.6" y="152.5" width="5.6" height="1.7" fill-opacity="0.73"/>
<rect x="246.1" y="148.9" width="5.9" height="1.7" fill-opacity="0.76"/>
<rect x="246.5" y="152.5" width="5.1" height="1.7" fill-opacity="0.96"/>
<rect x="246.0" y="152.5" width="6.2" height="1.7" fill-opacity="0.86"/>
<rect x="246.3" y="145.3" width="6.9" height="1.7" fill-opacity="0.73"/>
<rect x="246.5" y="152.5" width="6.7" height="1.7" fill-opacity="0.87"/>
<rect x="245.8" y="145.3" width="8.0" height="1.7" fill-opacity="0.75"/>
<rect x="247.4" y="147.1" width="6.2" height="1.7" fill-opacity="0.68"/>
<rect x="246.6" y="143.5" width="7.8" height="1.7" fill-opacity="0.81"/>
<rect x="247.1" y="147.1" width="6.8" height="1.7" fill-opacity="0.76"/>
<rect x="247.3" y="147.1" width="7.8" height="1.7" fill-opacity="0.91"/>
<rect x="247.6" y="143.5" width="7.1" height="1.7" fill-opacity="0.99"/>
<rect x="248.3" y="143.5" width="5.9" height="1.7" fill-opacity="0.60"/>
<rect x="248.4" y="150.7" width="7.1" height="1.7" fill-opacity="0.87"/>
<rect x="248.6" y="148.9" width="6.6" height="1.7" fill-opacity="0.92"/>
<rect x="248.5" y="147.1" width="6.9" height="1.7" fill-opacity="0.63"/>
<rect x="250.0" y="150.7" width="5.3" height="1.7" fill-opacity="0.89"/>
<rect x="248.7" y="150.7" width="7.9" height="1.7" fill-opacity="0.85"/>
<rect x="249.4" y="147.1" width="6.3" height="1.7" fill-opacity="0.84"/>
<rect x="250.0" y="148.9" width="6.6" height="1.7" fill-opacity="0.77"/>
<rect x="249.5" y="148.9" width="7.5" height="1.7" fill-opacity="0.93"/>
<rect x="250.8" y="145.3" width="5.0" height="1.7" fill-opacity="0.65"/>
<rect x="251.4" y="147.1" width="5.2" height="1.7" fill-opacity="0.79"/>
<rect x="250.2" y="145.3" width="7.6" height="1.7" fill-opacity="0.74"/>
<rect x="251.3" y="145.3" width="5.4" height="1.7" fill-opacity="0.83"/>
<rect x="251.8" y="143.5" width="5.9" height="1.7" fill-opacity="0.89"/>
<rect x="251.8" y="143.5" width="5.7" height="1.7" fill-opacity="0.99"/>
<rect x="250.7" y="148.9" width="8.0" height="1.7" fill-opacity="0.86"/>
<rect x="251.6" y="150.7" width="7.7" height="1.7" fill-opacity="0.60"/>
<rect x="252.6" y="147.1" width="5.7" height="1.7" fill-opacity="0.79"/>
<rect x="252.3" y="148.9" width="6.2" height="1.7" fill-opacity="0.63"/>
<rect x="253.3" y="145.3" width="5.5" height="1.7" fill-opacity="0.88"/>
<rect x="252.9" y="147.1" width="6.3" height="1.7" fill-opacity="0.65"/>
<rect x="253.5" y="147.1" width="5.2" height="1.7" fill-opacity="0.96"/>
<rect x="253.1" y="148.9" width="7.3" height="1.7" fill-opacity="0.67"/>
<rect x="253.1" y="143.5" width="7.4" height="1.7" fill-opacity="0.98"/>
<rect x="252.8" y="147.1" width="7.9" height="1.7" fill-opacity="0.81"/>
<rect x="253.5" y="145.3" width="8.0" height="1.7" fill-opacity="0.65"/>
<rect x="255.0" y="148.9" width="5.1" height="1.7" fill-opacity="0.68"/>
<rect x="254.4" y="143.5" width="6.2" height="1.7" fill-opacity="0.61"/>
<rect x="255.3" y="143.5" width="5.9" height="1.7" fill-opacity="0.64"/>
<rect x="254.9" y="143.5" width="6.7" height="1.7" fill-opacity="0.61"/>
<rect x="254.3" y="145.3" width="7.7" height="1.7" fill-opacity="0.68"/>
<rect x="256.3" y="148.9" width="5.2" height="1.7" fill-opacity="0.80"/>
<rect x="256.1" y="145.3" width="5.5" height="1.7" fill-opacity="0.80"/>
<rect x="256.0" y="141.7" width="5.9" height="1.7" fill-opacity="0.75"/>
<rect x="256.5" y="147.1" width="6.2" height="1.7" fill-opacity="0.84"/>
<rect x="255.7" y="147.1" width="7.8" height="1.7" fill-opacity="0.82"/>
<rect x="257.0" y="147.1" width="5.2" height="1.7" fill-opacity="0.93"/>
<rect x="256.7" y="143.5" width="7.2" height="1.7" fill-opacity="0.80"/>
<rect x="257.1" y="145.3" width="6.4" height="1.7" fill-opacity="0.96"/>
<rect x="257.1" y="148.9" width="6.3" height="1.7" fill-opacity="0.77"/>
<rect x="257.8" y="148.9" width="6.4" height="1.7" fill-opacity="0.88"/>
<rect x="258.2" y="147.1" width="5.6" height="1.7" fill-opacity="0.71"/>
<rect x="258.5" y="150.7" width="5.1" height="1.7" fill-opacity="0.69"/>
<rect x="258.2" y="148.9" width="7.0" height="1.7" fill-opacity="0.72"/>
<rect x="258.1" y="147.1" width="7.2" height="1.7" fill-opacity="0.86"/>
<rect x="259.2" y="147.1" width="5.1" height="1.7" fill-opacity="0.92"/>
<rect x="259.3" y="143.5" width="6.1" height="1.7" fill-opacity="0.99"/>
<rect x="258.6" y="148.9" width="7.5" height="1.7" fill-opacity="0.66"/>
<rect x="259.6" y="148.9" width="5.6" height="1.7" fill-opacity="0.96"/>
<rect x="259.3" y="148.9" width="7.7" height="1.7" fill-opacity="0.64"/>
<rect x="260.3" y="148.9" width="5.5" height="1.7" fill-opacity="0.74"/>
<rect x="260.0" y="148.9" width="6.2" height="1.7" fill-opacity="0.77"/>
<rect x="260.4" y="150.7" width="6.9" height="1.7" fill-opacity="0.74"/>
<rect x="260.4" y="143.5" width="6.8" height="1.7" fill-opacity="0.89"/>
<rect x="260.4" y="148.9" width="6.8" height="1.7" fill-opacity="0.83"/>
<rect x="262.0" y="145.3" width="5.0" height="1.7" fill-opacity="0.82"/>
<rect x="260.5" y="148.9" width="7.9" height="1.7" fill-opacity="0.86"/>
<rect x="261.4" y="148.9" width="6.2" height="1.7" fill-opacity="0.99"/>
<rect x="262.6" y="143.5" width="5.2" height="1.7" fill-opacity="0.62"/>
<rect x="261.8" y="145.3" width="6.9" height="1.7" fill-opacity="0.73"/>
<rect x="262.4" y="143.5" width="5.6" height="1.7" fill-opacity="0.89"/>
<rect x="262.4" y="143.5" width="6.9" height="1.7" fill-opacity="0.99"/>
<rect x="262.3" y="148.9" width="7.1" height="1.7" fill-opacity="0.60"/>
<rect x="262.6" y="147.1" width="6.6" height="1.7" fill-opacity="0.93"/>
<rect x="264.0" y="147.1" width="5.2" height="1.7" fill-opacity="0.90"/>
<rect x="262.9" y="145.3" width="7.3" height="1.7" fill-opacity="0.99"/>
<rect x="263.7" y="148.9" width="5.9" height="1.7" fill-opacity="0.86"/>
<rect x="263.9" y="147.1" width="6.8" height="1.7" fill-opacity="0.78"/>
<rect x="263.8" y="148.9" width="6.9" height="1.7" fill-opacity="0.99"/>
<rect x="264.6" y="148.9" width="5.3" height="1.7" fill-opacity="0.80"/>
<rect x="264.1" y="148.9" width="7.7" height="1.7" fill-opacity="0.68"/>
<rect x="264.0" y="148.9" width="7.9" height="1.7" fill-opacity="0.74"/>
<rect x="264.9" y="145.3" width="6.2" height="1.7" fill-opacity="0.85"/>
<rect x="265.7" y="148.9" width="6.1" height="1.7" fill-opacity="0.80"/>
<rect x="265.4" y="150.7" width="6.6" height="1.7" fill-opacity="0.97"/>
<rect x="265.0" y="143.5" width="7.3" height="1.7" fill-opacity="0.64"/>
<rect x="266.8" y="147.1" width="5.2" height="1.7" fill-opacity="0.83"/>
<rect x="266.1" y="145.3" width="6.6" height="1.7" fill-opacity="0.76"/>
<rect x="265.5" y="145.3" width="7.8" height="1.7" fill-opacity="0.85"/>
<rect x="266.3" y="148.9" width="7.5" height="1.7" fill-opacity="0.90"/>
<rect x="267.1" y="147.1" width="6.0" height="1.7" fill-opacity="0.63"/>
<rect x="267.0" y="143.5" width="6.1" height="1.7" fill-opacity="0.94"/>
<rect x="268.3" y="148.9" width="5.1" height="1.7" fill-opacity="0.66"/>
<rect x="267.1" y="147.1" width="7.4" height="1.7" fill-opacity="0.96"/>
<rect x="266.8" y="143.5" width="8.0" height="1.7" fill-opacity="0.62"/>
<rect x="269.0" y="145.3" width="5.1" height="1.7" fill-opacity="0.68"/>
<rect x="268.5" y="148.9" width="6.0" height="1.7" fill-opacity="1.00"/>
<rect x="268.1" y="143.5" width="6.8" height="1.7" fill-opacity="0.68"/>
<rect x="269.4" y="147.1" width="5.6" height="1.7" fill-opacity="0.74"/>
<rect x="269.2" y="145.3" width="5.9" height="1.7" fill-opacity="0.65"/>
<rect x="269.6" y="145.3" width="5.2" height="1.7" fill-opacity="0.97"/>
<rect x="270.3" y="145.3" width="5.2" height="1.7" fill-opacity="0.92"/>
<rect x="269.8" y="143.5" width="6.1" height="1.7" fill-opacity="0.97"/>
<rect x="269.5" y="145.3" width="6.7" height="1.7" fill-opacity="0.63"/>
<rect x="270.7" y="148.9" width="5.7" height="1.7" fill-opacity="0.94"/>
<rect x="270.7" y="145.3" width="5.9" height="1.7" fill-opacity="0.83"/>
<rect x="270.7" y="147.1" width="5.8" height="1.7" fill-opacity="0.61"/>
<rect x="271.1" y="148.9" width="6.3" height="1.7" fill-opacity="0.80"/>
<rect x="271.5" y="145.3" width="5.6" height="1.7" fill-opacity="0.76"/>
<rect x="271.1" y="147.1" width="6.4" height="1.7" fill-opacity="0.84"/>
<rect x="271.5" y="148.9" width="6.9" height="1.7" fill-opacity="0.92"/>
<rect x="271.4" y="147.1" width="7.1" height="1.7" fill-opacity="0.81"/>
<rect x="271.3" y="145.3" width="7.4" height="1.7" fill-opacity="0.73"/>
<rect x="272.6" y="143.5" width="6.2" height="1.7" fill-opacity="0.95"/>
<rect x="272.4" y="143.5" width="6.6" height="1.7" fill-opacity="0.86"/>
<rect x="272.1" y="147.1" width="7.2" height="1.7" fill-opacity="0.84"/>
<rect x="273.5" y="147.1" width="5.8" height="1.7" fill-opacity="0.60"/>
<rect x="273.2" y="150.7" width="6.4" height="1.7" fill-opacity="0.90"/>
<rect x="273.1" y="143.5" width="6.6" height="1.7" fill-opacity="1.00"/>
<rect x="363.7" y="100.1" width="7.2" height="1.7" fill-opacity="0.96"/>
<rect x="363.0" y="99.9" width="8.0" height="1.7" fill-opacity="0.74"/>
<rect x="363.0" y="101.6" width="8.9" height="1.7" fill-opacity="0.99"/>
<rect x="363.7" y="101.7" width="7.8" height="1.7" fill-opacity="0.78"/>
<rect x="363.0" y="104.0" width="9.5" height="1.7" fill-opacity="0.92"/>
<rect x="363.2" y="103.8" width="9.0" height="1.7" fill-opacity="0.48"/>
<rect x="363.5" y="105.6" width="9.2" height="1.7" fill-opacity="0.50"/>
<rect x="363.4" y="105.7" width="8.8" height="1.7" fill-opacity="0.93"/>
<rect x="364.0" y="107.2" width="9.6" height="1.7" fill-opacity="0.50"/>
<rect x="367.0" y="107.5" width="6.8" height="1.7" fill-opacity="0.50"/>
<rect x="364.6" y="109.1" width="7.3" height="1.7" fill-opacity="0.62"/>
<rect x="365.9" y="109.1" width="8.0" height="1.7" fill-opacity="0.45"/>
<rect x="367.1" y="111.7" width="7.7" height="1.7" fill-opacity="0.78"/>
<rect x="366.0" y="111.4" width="6.9" height="1.7" fill-opacity="0.99"/>
<rect x="368.0" y="113.1" width="6.9" height="1.7" fill-opacity="0.65"/>
<rect x="366.5" y="113.2" width="9.4" height="1.7" fill-opacity="0.71"/>
<rect x="367.4" y="114.8" width="9.0" height="1.7" fill-opacity="0.91"/>
<rect x="367.5" y="115.0" width="6.9" height="1.7" fill-opacity="0.98"/>
<rect x="369.4" y="116.8" width="7.3" height="1.7" fill-opacity="0.87"/>
<rect x="368.2" y="116.7" width="9.0" height="1.7" fill-opacity="0.88"/>
<rect x="368.9" y="119.0" width="9.0" height="1.7" fill-opacity="0.51"/>
<rect x="369.2" y="119.2" width="8.3" height="1.7" fill-opacity="0.55"/>
<rect x="370.4" y="121.2" width="8.5" height="1.7" fill-opacity="0.94"/>
<rect x="370.5" y="120.8" width="7.7" height="1.7" fill-opacity="0.49"/>
<rect x="370.4" y="122.7" width="9.7" height="1.7" fill-opacity="0.93"/>
<rect x="372.0" y="123.1" width="8.1" height="1.7" fill-opacity="0.46"/>
<rect x="371.4" y="124.5" width="9.8" height="1.7" fill-opacity="0.53"/>
<rect x="372.4" y="124.7" width="8.3" height="1.7" fill-opacity="0.94"/>
<rect x="373.6" y="126.4" width="8.2" height="1.7" fill-opacity="0.98"/>
<rect x="373.0" y="126.7" width="8.0" height="1.7" fill-opacity="0.47"/>
<rect x="374.4" y="127.0" width="5.2" height="1.7" fill-opacity="0.81"/>
<rect x="375.4" y="128.5" width="4.4" height="1.7" fill-opacity="0.81"/>
<rect x="374.9" y="127.0" width="6.5" height="1.7" fill-opacity="0.85"/>
<rect x="376.2" y="130.0" width="5.1" height="1.7" fill-opacity="0.84"/>
<rect x="376.0" y="128.5" width="6.8" height="1.7" fill-opacity="0.87"/>
<rect x="377.9" y="130.0" width="4.3" height="1.7" fill-opacity="0.79"/>
<rect x="378.1" y="130.0" width="5.0" height="1.7" fill-opacity="0.97"/>
<rect x="378.0" y="130.0" width="6.4" height="1.7" fill-opacity="0.96"/>
<rect x="379.5" y="131.5" width="4.6" height="1.7" fill-opacity="0.82"/>
<rect x="379.6" y="131.5" width="5.6" height="1.7" fill-opacity="0.87"/>
<rect x="380.3" y="130.0" width="5.3" height="1.7" fill-opacity="0.92"/>
<rect x="381.1" y="131.5" width="5.1" height="1.7" fill-opacity="0.87"/>
<rect x="380.8" y="131.5" width="6.8" height="1.7" fill-opacity="0.81"/>
<rect x="382.1" y="133.0" width="5.5" height="1.7" fill-opacity="0.84"/>
<rect x="382.1" y="133.0" width="6.5" height="1.7" fill-opacity="0.85"/>
<rect x="383.8" y="133.0" width="4.5" height="1.7" fill-opacity="0.89"/>
<rect x="384.2" y="131.5" width="4.9" height="1.7" fill-opacity="0.90"/>
<rect x="384.0" y="133.0" width="6.4" height="1.7" fill-opacity="0.95"/>
<rect x="385.4" y="131.5" width="4.8" height="1.7" fill-opacity="0.92"/>
<rect x="385.7" y="133.0" width="5.3" height="1.7" fill-opacity="0.77"/>
<rect x="386.2" y="131.5" width="5.6" height="1.7" fill-opacity="0.83"/>
<rect x="387.5" y="133.0" width="4.2" height="1.7" fill-opacity="0.84"/>
<rect x="387.9" y="133.0" width="4.7" height="1.7" fill-opacity="0.99"/>
<rect x="388.2" y="133.0" width="5.3" height="1.7" fill-opacity="0.91"/>
<rect x="388.5" y="130.0" width="5.7" height="1.7" fill-opacity="0.90"/>
<rect x="389.6" y="131.5" width="4.8" height="1.7" fill-opacity="0.78"/>
<rect x="390.1" y="130.0" width="5.1" height="1.7" fill-opacity="0.99"/>
<rect x="390.2" y="130.0" width="6.0" height="1.7" fill-opacity="0.88"/>
<rect x="390.7" y="130.0" width="6.3" height="1.7" fill-opacity="0.85"/>
<rect x="392.1" y="131.5" width="4.6" height="1.7" fill-opacity="0.84"/>
<rect x="392.1" y="130.0" width="5.8" height="1.7" fill-opacity="0.92"/>
<rect x="392.4" y="131.5" width="6.5" height="1.7" fill-opacity="0.85"/>
<rect x="393.3" y="130.0" width="5.8" height="1.7" fill-opacity="0.78"/>
<rect x="393.8" y="130.0" width="6.1" height="1.7" fill-opacity="0.94"/>
<rect x="394.9" y="128.5" width="5.1" height="1.7" fill-opacity="0.77"/>
<rect x="394.7" y="130.0" width="6.5" height="1.7" fill-opacity="0.81"/>
<rect x="396.0" y="128.5" width="5.2" height="1.7" fill-opacity="0.92"/>
<rect x="397.0" y="128.5" width="4.4" height="1.7" fill-opacity="0.82"/>
<rect x="396.3" y="128.5" width="7.0" height="1.7" fill-opacity="0.96"/>
<rect x="397.2" y="127.0" width="6.5" height="1.7" fill-opacity="0.76"/>
<rect x="398.4" y="128.5" width="5.2" height="1.7" fill-opacity="0.90"/>
<rect x="398.3" y="130.0" width="6.5" height="1.7" fill-opacity="0.76"/>
<rect x="399.9" y="130.0" width="4.6" height="1.7" fill-opacity="0.79"/>
<rect x="399.3" y="130.0" width="7.0" height="1.7" fill-opacity="0.80"/>
<rect x="401.2" y="127.0" width="4.4" height="1.7" fill-opacity="0.83"/>
<rect x="401.7" y="128.5" width="4.5" height="1.7" fill-opacity="0.85"/>
<rect x="402.5" y="127.0" width="4.2" height="1.7" fill-opacity="0.80"/>
<rect x="401.7" y="127.0" width="6.9" height="1.7" fill-opacity="0.99"/>
<rect x="403.0" y="127.0" width="5.7" height="1.7" fill-opacity="0.96"/>
<rect x="403.0" y="130.0" width="6.9" height="1.7" fill-opacity="0.82"/>
<rect x="404.5" y="130.0" width="4.9" height="1.7" fill-opacity="1.00"/>
<rect x="405.5" y="128.5" width="4.3" height="1.7" fill-opacity="0.85"/>
<rect x="404.7" y="127.0" width="6.9" height="1.7" fill-opacity="0.85"/>
<rect x="406.3" y="128.5" width="4.9" height="1.7" fill-opacity="0.93"/>
<rect x="406.9" y="128.5" width="5.0" height="1.7" fill-opacity="0.83"/>
<rect x="407.3" y="128.5" width="5.4" height="1.7" fill-opacity="0.89"/>
<rect x="408.3" y="127.0" width="4.6" height="1.7" fill-opacity="0.78"/>
<rect x="407.8" y="127.0" width="6.8" height="1.7" fill-opacity="0.80"/>
<rect x="409.4" y="128.5" width="4.8" height="1.7" fill-opacity="0.77"/>
<rect x="409.9" y="128.5" width="5.0" height="1.7" fill-opacity="0.99"/>
<rect x="410.3" y="127.0" width="5.5" height="1.7" fill-opacity="0.83"/>
<rect x="410.8" y="125.5" width="5.5" height="1.7" fill-opacity="0.94"/>
<rect x="418.0" y="110.2" width="8.0" height="1.7" fill-opacity="0.74"/>
<rect x="418.1" y="110.1" width="6.8" height="1.7" fill-opacity="0.81"/>
<rect x="416.9" y="112.4" width="6.2" height="1.7" fill-opacity="0.74"/>
<rect x="416.9" y="111.9" width="8.4" height="1.7" fill-opacity="0.67"/>
<rect x="416.7" y="113.6" width="6.9" height="1.7" fill-opacity="0.83"/>
<rect x="416.1" y="114.3" width="6.6" height="1.7" fill-opacity="0.96"/>
<rect x="415.4" y="115.7" width="7.0" height="1.7" fill-opacity="0.75"/>
<rect x="415.8" y="115.9" width="6.0" height="1.7" fill-opacity="0.84"/>
<rect x="414.3" y="117.5" width="8.2" height="1.7" fill-opacity="0.96"/>
<rect x="414.6" y="117.5" width="8.1" height="1.7" fill-opacity="0.90"/>
<rect x="414.6" y="119.4" width="7.0" height="1.7" fill-opacity="0.81"/>
<rect x="414.1" y="119.6" width="7.6" height="1.7" fill-opacity="0.86"/>
<rect x="412.9" y="121.7" width="8.0" height="1.7" fill-opacity="0.89"/>
<rect x="413.8" y="121.8" width="6.6" height="1.7" fill-opacity="0.90"/>
<rect x="412.6" y="123.8" width="7.6" height="1.7" fill-opacity="0.86"/>
<rect x="412.7" y="123.5" width="7.8" height="1.7" fill-opacity="0.91"/>
<rect x="412.3" y="125.5" width="8.0" height="1.7" fill-opacity="0.82"/>
<rect x="412.4" y="125.7" width="6.5" height="1.7" fill-opacity="0.99"/>
<rect x="415.4" y="112.0" width="5.3" height="1.7" fill-opacity="0.80"/>
<rect x="415.1" y="116.5" width="5.9" height="1.7" fill-opacity="0.75"/>
<rect x="415.9" y="116.5" width="5.4" height="1.7" fill-opacity="0.79"/>
<rect x="416.4" y="116.5" width="4.4" height="1.7" fill-opacity="0.79"/>
<rect x="416.9" y="112.0" width="4.5" height="1.7" fill-opacity="0.79"/>
<rect x="416.8" y="112.0" width="4.8" height="1.7" fill-opacity="0.83"/>
<rect x="417.4" y="112.0" width="4.8" height="1.7" fill-opacity="0.77"/>
<rect x="417.1" y="110.5" width="5.5" height="1.7" fill-opacity="0.78"/>
<rect x="417.7" y="110.5" width="5.4" height="1.7" fill-opacity="0.99"/>
<rect x="418.2" y="110.5" width="4.4" height="1.7" fill-opacity="0.79"/>
<rect x="418.2" y="110.5" width="5.5" height="1.7" fill-opacity="0.94"/>
<rect x="418.6" y="112.0" width="4.8" height="1.7" fill-opacity="0.84"/>
<rect x="418.9" y="112.0" width="5.4" height="1.7" fill-opacity="0.86"/>
<rect x="419.3" y="113.5" width="4.5" height="1.7" fill-opacity="0.86"/>
<rect x="420.2" y="115.0" width="4.1" height="1.7" fill-opacity="0.85"/>
<rect x="420.1" y="113.5" width="4.2" height="1.7" fill-opacity="0.92"/>
<rect x="420.5" y="110.5" width="4.6" height="1.7" fill-opacity="0.77"/>
<rect x="419.9" y="109.0" width="5.8" height="1.7" fill-opacity="0.92"/>
<rect x="420.9" y="112.0" width="5.1" height="1.7" fill-opacity="0.86"/>
<rect x="421.2" y="110.5" width="4.4" height="1.7" fill-opacity="0.90"/>
<rect x="421.1" y="113.5" width="5.8" height="1.7" fill-opacity="0.90"/>
<rect x="421.8" y="112.0" width="4.3" height="1.7" fill-opacity="0.96"/>
<rect x="422.3" y="110.5" width="4.6" height="1.7" fill-opacity="0.97"/>
<rect x="421.9" y="109.0" width="5.3" height="1.7" fill-opacity="0.86"/>
<rect x="423.0" y="112.0" width="4.4" height="1.7" fill-opacity="0.80"/>
<rect x="422.9" y="109.0" width="4.7" height="1.7" fill-opacity="0.86"/>
<rect x="423.4" y="110.5" width="4.9" height="1.7" fill-opacity="0.96"/>
<rect x="423.8" y="112.0" width="4.1" height="1.7" fill-opacity="0.95"/>
<rect x="423.7" y="110.5" width="5.5" height="1.7" fill-opacity="0.91"/>
<rect x="423.6" y="112.0" width="5.6" height="1.7" fill-opacity="0.81"/>
<rect x="424.8" y="107.5" width="4.5" height="1.7" fill-opacity="0.91"/>
<rect x="424.4" y="106.0" width="5.2" height="1.7" fill-opacity="0.90"/>
<rect x="425.3" y="106.0" width="4.6" height="1.7" fill-opacity="0.78"/>
<rect x="425.4" y="110.5" width="4.3" height="1.7" fill-opacity="0.87"/>
<rect x="425.7" y="109.0" width="5.0" height="1.7" fill-opacity="0.88"/>
<rect x="426.0" y="106.0" width="4.3" height="1.7" fill-opacity="0.88"/>
<rect x="426.5" y="110.5" width="4.6" height="1.7" fill-opacity="0.75"/>
<rect x="426.1" y="109.0" width="5.5" height="1.7" fill-opacity="0.86"/>
<rect x="426.5" y="109.0" width="5.9" height="1.7" fill-opacity="0.95"/>
<rect x="427.2" y="107.5" width="4.4" height="1.7" fill-opacity="0.91"/>
<rect x="427.6" y="107.5" width="4.7" height="1.7" fill-opacity="0.79"/>
<rect x="427.7" y="109.0" width="4.7" height="1.7" fill-opacity="0.78"/>
<rect x="428.1" y="107.5" width="5.1" height="1.7" fill-opacity="0.96"/>
<rect x="428.0" y="107.5" width="5.2" height="1.7" fill-opacity="0.98"/>
<rect x="429.0" y="106.0" width="4.4" height="1.7" fill-opacity="0.83"/>
<rect x="428.9" y="104.5" width="4.5" height="1.7" fill-opacity="0.80"/>
<rect x="429.4" y="106.0" width="4.9" height="1.7" fill-opacity="0.95"/>
<rect x="428.9" y="109.0" width="5.8" height="1.7" fill-opacity="0.78"/>
<rect x="430.3" y="107.5" width="4.2" height="1.7" fill-opacity="0.78"/>
<rect x="429.5" y="104.5" width="5.9" height="1.7" fill-opacity="0.97"/>
<rect x="430.9" y="103.0" width="4.2" height="1.7" fill-opacity="0.97"/>
<rect x="430.6" y="106.0" width="4.7" height="1.7" fill-opacity="0.86"/>
<rect x="431.5" y="107.5" width="4.1" height="1.7" fill-opacity="0.86"/>
<rect x="431.0" y="106.0" width="5.3" height="1.7" fill-opacity="0.82"/>
<rect x="431.6" y="103.0" width="5.1" height="1.7" fill-opacity="0.97"/>
<rect x="431.8" y="104.5" width="4.8" height="1.7" fill-opacity="0.94"/>
<rect x="432.2" y="104.5" width="5.3" height="1.7" fill-opacity="0.88"/>
<rect x="432.7" y="106.0" width="4.1" height="1.7" fill-opacity="0.86"/>
<rect x="433.0" y="104.5" width="4.8" height="1.7" fill-opacity="0.80"/>
<rect x="432.7" y="104.5" width="5.4" height="1.7" fill-opacity="0.91"/>
<rect x="433.7" y="103.0" width="4.6" height="1.7" fill-opacity="0.91"/>
<rect x="433.1" y="104.5" width="5.7" height="1.7" fill-opacity="0.96"/>
<rect x="434.4" y="104.5" width="4.5" height="1.7" fill-opacity="0.92"/>
<rect x="434.4" y="104.5" width="4.4" height="1.7" fill-opacity="0.84"/>
<rect x="434.5" y="104.5" width="5.4" height="1.7" fill-opacity="0.89"/>
<rect x="434.7" y="104.5" width="4.9" height="1.7" fill-opacity="0.79"/>
<rect x="435.3" y="104.5" width="5.0" height="1.7" fill-opacity="0.89"/>
<rect x="435.7" y="101.5" width="4.1" height="1.7" fill-opacity="0.92"/>
<rect x="436.2" y="101.5" width="4.4" height="1.7" fill-opacity="0.86"/>
<rect x="436.2" y="103.0" width="4.5" height="1.7" fill-opacity="0.81"/>
<rect x="436.3" y="104.5" width="5.4" height="1.7" fill-opacity="0.78"/>
<rect x="436.3" y="100.0" width="5.3" height="1.7" fill-opacity="0.91"/>
<rect x="436.7" y="101.5" width="5.7" height="1.7" fill-opacity="0.76"/>
<rect x="436.9" y="103.0" width="5.3" height="1.7" fill-opacity="0.83"/>
<rect x="437.6" y="103.0" width="5.1" height="1.7" fill-opacity="0.91"/>
<rect x="437.2" y="103.0" width="5.9" height="1.7" fill-opacity="0.92"/>
<rect x="438.3" y="100.0" width="5.0" height="1.7" fill-opacity="0.86"/>
<rect x="438.6" y="101.5" width="4.5" height="1.7" fill-opacity="0.80"/>
<rect x="438.6" y="101.5" width="5.5" height="1.7" fill-opacity="0.80"/>
<rect x="439.2" y="98.5" width="4.3" height="1.7" fill-opacity="0.84"/>
<rect x="439.9" y="103.0" width="4.2" height="1.7" fill-opacity="0.88"/>
<rect x="439.9" y="103.0" width="4.2" height="1.7" fill-opacity="0.96"/>
<rect x="440.5" y="100.0" width="4.2" height="1.7" fill-opacity="0.91"/>
<rect x="440.1" y="101.5" width="5.1" height="1.7" fill-opacity="0.82"/>
<rect x="441.1" y="101.5" width="4.1" height="1.7" fill-opacity="0.98"/>
<rect x="440.3" y="101.5" width="5.8" height="1.7" fill-opacity="0.84"/>
<rect x="440.9" y="100.0" width="5.8" height="1.7" fill-opacity="0.92"/>
<rect x="441.0" y="101.5" width="5.6" height="1.7" fill-opacity="0.87"/>
<rect x="442.0" y="103.0" width="4.8" height="1.7" fill-opacity="0.95"/>
<rect x="441.6" y="101.5" width="5.7" height="1.7" fill-opacity="0.79"/>
<rect x="442.7" y="101.5" width="4.7" height="1.7" fill-opacity="0.82"/>
<rect x="442.0" y="100.0" width="6.0" height="1.7" fill-opacity="0.85"/>
<rect x="443.0" y="100.0" width="5.2" height="1.7" fill-opacity="0.76"/>
<rect x="443.2" y="101.5" width="4.7" height="1.7" fill-opacity="0.92"/>
<rect x="443.3" y="98.5" width="5.8" height="1.7" fill-opacity="0.94"/>
<rect x="444.0" y="101.5" width="4.4" height="1.7" fill-opacity="0.79"/>
<rect x="444.3" y="101.5" width="4.9" height="1.7" fill-opacity="0.88"/>
<rect x="444.6" y="103.0" width="4.5" height="1.7" fill-opacity="0.85"/>
<rect x="445.0" y="103.0" width="4.7" height="1.7" fill-opacity="0.86"/>
<rect x="445.3" y="101.5" width="4.2" height="1.7" fill-opacity="0.80"/>
<rect x="445.9" y="100.0" width="4.1" height="1.7" fill-opacity="0.97"/>
<rect x="445.7" y="103.0" width="4.6" height="1.7" fill-opacity="0.84"/>
<rect x="446.2" y="100.0" width="4.9" height="1.7" fill-opacity="0.84"/>
<rect x="445.6" y="103.0" width="6.0" height="1.7" fill-opacity="0.99"/>
<rect x="446.6" y="104.5" width="5.2" height="1.7" fill-opacity="0.80"/>
<rect x="446.3" y="101.5" width="5.8" height="1.7" fill-opacity="0.95"/>
<rect x="374.2" y="146.4" width="8.6" height="1.7" fill-opacity="0.53"/>
<rect x="374.4" y="146.0" width="6.4" height="1.7" fill-opacity="0.65"/>
<rect x="371.4" y="148.1" width="8.1" height="1.7" fill-opacity="0.49"/>
<rect x="374.1" y="147.7" width="6.1" height="1.7" fill-opacity="0.88"/>
<rect x="371.8" y="149.9" width="9.0" height="1.7" fill-opacity="0.87"/>
<rect x="372.7" y="149.7" width="7.4" height="1.7" fill-opacity="0.70"/>
<rect x="373.1" y="151.8" width="6.6" height="1.7" fill-opacity="0.52"/>
<rect x="372.8" y="151.7" width="6.9" height="1.7" fill-opacity="0.84"/>
<rect x="371.0" y="154.0" width="6.0" height="1.7" fill-opacity="0.64"/>
<rect x="372.0" y="154.0" width="9.4" height="1.7" fill-opacity="0.68"/>
<rect x="370.1" y="155.5" width="6.3" height="1.7" fill-opacity="0.89"/>
<rect x="371.3" y="155.6" width="8.5" height="1.7" fill-opacity="0.80"/>
<rect x="370.9" y="157.9" width="6.1" height="1.7" fill-opacity="0.72"/>
<rect x="369.0" y="157.3" width="7.5" height="1.7" fill-opacity="0.69"/>
<rect x="368.8" y="159.8" width="6.4" height="1.7" fill-opacity="0.88"/>
<rect x="369.4" y="159.3" width="6.9" height="1.7" fill-opacity="0.79"/>
<rect x="367.9" y="161.2" width="8.5" height="1.7" fill-opacity="0.57"/>
<rect x="368.2" y="161.6" width="8.3" height="1.7" fill-opacity="0.70"/>
<rect x="366.5" y="162.9" width="9.2" height="1.7" fill-opacity="0.66"/>
<rect x="366.9" y="163.4" width="8.7" height="1.7" fill-opacity="0.48"/>
<rect x="368.0" y="165.4" width="6.1" height="1.7" fill-opacity="0.56"/>
<rect x="365.8" y="165.5" width="6.2" height="1.7" fill-opacity="0.57"/>
<rect x="365.0" y="167.0" width="9.7" height="1.7" fill-opacity="0.69"/>
<rect x="367.5" y="167.1" width="6.6" height="1.7" fill-opacity="0.87"/>
<rect x="364.7" y="168.6" width="6.9" height="1.7" fill-opacity="0.85"/>
<rect x="367.0" y="168.8" width="7.5" height="1.7" fill-opacity="0.65"/>
<rect x="364.2" y="170.9" width="7.1" height="1.7" fill-opacity="0.68"/>
<rect x="363.8" y="170.9" width="9.3" height="1.7" fill-opacity="0.73"/>
<rect x="365.3" y="172.6" width="8.4" height="1.7" fill-opacity="0.56"/>
<rect x="363.2" y="172.6" width="9.3" height="1.7" fill-opacity="0.92"/>
<rect x="363.6" y="174.4" width="8.8" height="1.7" fill-opacity="0.97"/>
<rect x="363.5" y="174.7" width="6.9" height="1.7" fill-opacity="0.49"/>
<rect x="363.9" y="176.2" width="7.3" height="1.7" fill-opacity="0.72"/>
<rect x="365.5" y="176.6" width="6.5" height="1.7" fill-opacity="0.90"/>
<rect x="369.3" y="151.0" width="5.3" height="1.7" fill-opacity="0.84"/>
<rect x="369.9" y="149.5" width="5.4" height="1.7" fill-opacity="0.81"/>
<rect x="370.2" y="148.0" width="5.9" height="1.7" fill-opacity="0.98"/>
<rect x="371.5" y="148.0" width="4.6" height="1.7" fill-opacity="0.77"/>
<rect x="371.9" y="149.5" width="5.0" height="1.7" fill-opacity="0.84"/>
<rect x="372.7" y="149.5" width="4.6" height="1.7" fill-opacity="0.99"/>
<rect x="373.0" y="149.5" width="5.2" height="1.7" fill-opacity="0.86"/>
<rect x="372.8" y="148.0" width="6.7" height="1.7" fill-opacity="0.88"/>
<rect x="373.8" y="149.5" width="6.0" height="1.7" fill-opacity="0.96"/>
<rect x="375.1" y="148.0" width="4.6" height="1.7" fill-opacity="0.88"/>
<rect x="375.7" y="149.5" width="4.6" height="1.7" fill-opacity="0.85"/>
<rect x="375.5" y="148.0" width="6.1" height="1.7" fill-opacity="0.87"/>
<rect x="375.9" y="148.0" width="6.5" height="1.7" fill-opacity="0.96"/>
<rect x="376.4" y="149.5" width="6.8" height="1.7" fill-opacity="0.81"/>
<rect x="378.1" y="149.5" width="4.7" height="1.7" fill-opacity="0.97"/>
<rect x="378.4" y="149.5" width="5.1" height="1.7" fill-opacity="0.99"/>
<rect x="379.6" y="148.0" width="4.0" height="1.7" fill-opacity="0.90"/>
<rect x="378.8" y="148.0" width="6.7" height="1.7" fill-opacity="0.85"/>
<rect x="379.7" y="146.5" width="6.2" height="1.7" fill-opacity="0.88"/>
<rect x="381.0" y="149.5" width="4.8" height="1.7" fill-opacity="0.78"/>
<rect x="380.8" y="148.0" width="6.4" height="1.7" fill-opacity="0.86"/>
<rect x="381.3" y="148.0" width="6.6" height="1.7" fill-opacity="0.79"/>
<rect x="383.0" y="148.0" width="4.5" height="1.7" fill-opacity="0.95"/>
<rect x="383.7" y="148.0" width="4.3" height="1.7" fill-opacity="0.82"/>
<rect x="384.1" y="146.5" width="4.6" height="1.7" fill-opacity="0.82"/>
<rect x="384.2" y="146.5" width="5.5" height="1.7" fill-opacity="0.91"/>
<rect x="384.5" y="148.0" width="6.3" height="1.7" fill-opacity="0.81"/>
<rect x="384.9" y="146.5" width="6.6" height="1.7" fill-opacity="0.76"/>
<rect x="385.8" y="148.0" width="6.0" height="1.7" fill-opacity="0.86"/>
<rect x="386.3" y="148.0" width="6.3" height="1.7" fill-opacity="0.78"/>
<rect x="387.4" y="148.0" width="5.2" height="1.7" fill-opacity="0.90"/>
<rect x="388.3" y="149.5" width="4.6" height="1.7" fill-opacity="0.98"/>
<rect x="389.0" y="148.0" width="4.3" height="1.7" fill-opacity="0.82"/>
<rect x="389.6" y="149.5" width="4.4" height="1.7" fill-opacity="0.88"/>
<rect x="389.3" y="148.0" width="6.2" height="1.7" fill-opacity="1.00"/>
<rect x="390.5" y="146.5" width="5.0" height="1.7" fill-opacity="0.89"/>
<rect x="390.3" y="149.5" width="6.5" height="1.7" fill-opacity="0.95"/>
<rect x="390.9" y="148.0" width="6.6" height="1.7" fill-opacity="0.95"/>
<rect x="392.2" y="146.5" width="5.2" height="1.7" fill-opacity="0.99"/>
<rect x="393.0" y="148.0" width="4.9" height="1.7" fill-opacity="0.93"/>
<rect x="393.1" y="149.5" width="5.7" height="1.7" fill-opacity="0.90"/>
<rect x="394.3" y="149.5" width="4.6" height="1.7" fill-opacity="0.78"/>
<rect x="394.5" y="148.0" width="5.4" height="1.7" fill-opacity="0.80"/>
<rect x="394.5" y="148.0" width="6.6" height="1.7" fill-opacity="0.85"/>
<rect x="396.3" y="148.0" width="4.3" height="1.7" fill-opacity="0.75"/>
<rect x="395.7" y="148.0" width="6.5" height="1.7" fill-opacity="0.94"/>
<rect x="397.2" y="148.0" width="4.7" height="1.7" fill-opacity="0.90"/>
<rect x="397.5" y="146.5" width="5.4" height="1.7" fill-opacity="0.77"/>
<rect x="398.5" y="148.0" width="4.7" height="1.7" fill-opacity="0.93"/>
<rect x="399.4" y="146.5" width="4.0" height="1.7" fill-opacity="0.90"/>
<rect x="398.8" y="146.5" width="6.4" height="1.7" fill-opacity="0.90"/>
<rect x="400.0" y="145.0" width="5.2" height="1.7" fill-opacity="0.76"/>
<rect x="400.1" y="151.0" width="6.1" height="1.7" fill-opacity="0.90"/>
<rect x="400.3" y="146.5" width="7.0" height="1.7" fill-opacity="0.85"/>
<rect x="402.3" y="145.0" width="4.2" height="1.7" fill-opacity="0.98"/>
<rect x="401.9" y="148.0" width="6.2" height="1.7" fill-opacity="0.93"/>
<rect x="402.3" y="149.5" width="6.5" height="1.7" fill-opacity="0.80"/>
<rect x="403.2" y="148.0" width="6.1" height="1.7" fill-opacity="0.89"/>
<rect x="404.3" y="146.5" width="5.1" height="1.7" fill-opacity="0.97"/>
<rect x="404.6" y="148.0" width="5.7" height="1.7" fill-opacity="0.82"/>
<rect x="404.7" y="149.5" width="6.6" height="1.7" fill-opacity="0.85"/>
<rect x="406.3" y="151.0" width="4.5" height="1.7" fill-opacity="0.96"/>
<rect x="406.3" y="151.0" width="5.7" height="1.7" fill-opacity="0.91"/>
<rect x="407.6" y="148.0" width="4.4" height="1.7" fill-opacity="0.77"/>
<rect x="407.7" y="146.5" width="5.5" height="1.7" fill-opacity="0.79"/>
<rect x="410.6" y="150.3" width="7.4" height="1.7" fill-opacity="0.85"/>
<rect x="411.5" y="149.8" width="6.3" height="1.7" fill-opacity="0.75"/>
<rect x="411.2" y="152.1" width="5.7" height="1.7" fill-opacity="0.74"/>
<rect x="412.0" y="151.8" width="6.0" height="1.7" fill-opacity="0.91"/>
<rect x="411.8" y="153.5" width="7.1" height="1.7" fill-opacity="0.90"/>
<rect x="412.9" y="153.5" width="5.1" height="1.7" fill-opacity="0.91"/>
<rect x="413.3" y="155.6" width="5.1" height="1.7" fill-opacity="0.86"/>
<rect x="414.0" y="155.8" width="5.2" height="1.7" fill-opacity="0.90"/>
<rect x="412.9" y="157.7" width="5.9" height="1.7" fill-opacity="0.71"/>
<rect x="413.6" y="157.0" width="5.6" height="1.7" fill-opacity="0.79"/>
<rect x="413.2" y="159.2" width="6.1" height="1.7" fill-opacity="0.68"/>
<rect x="413.0" y="158.9" width="7.0" height="1.7" fill-opacity="0.62"/>
<rect x="415.0" y="161.3" width="5.0" height="1.7" fill-opacity="0.84"/>
<rect x="413.4" y="161.0" width="6.8" height="1.7" fill-opacity="0.85"/>
<rect x="413.9" y="162.7" width="5.9" height="1.7" fill-opacity="0.62"/>
<rect x="414.1" y="162.8" width="6.5" height="1.7" fill-opacity="0.99"/>
<rect x="414.3" y="164.9" width="7.0" height="1.7" fill-opacity="0.73"/>
<rect x="414.3" y="164.7" width="7.0" height="1.7" fill-opacity="0.76"/>
<rect x="415.5" y="166.0" width="6.9" height="1.7" fill-opacity="0.94"/>
<rect x="416.6" y="166.2" width="5.7" height="1.7" fill-opacity="0.94"/>
<rect x="414.9" y="167.5" width="4.2" height="1.7" fill-opacity="0.80"/>
<rect x="414.6" y="166.0" width="4.8" height="1.7" fill-opacity="0.99"/>
<rect x="415.4" y="166.0" width="4.3" height="1.7" fill-opacity="0.94"/>
<rect x="414.6" y="164.5" width="5.9" height="1.7" fill-opacity="0.80"/>
<rect x="415.4" y="167.5" width="5.7" height="1.7" fill-opacity="0.78"/>
<rect x="415.2" y="167.5" width="6.0" height="1.7" fill-opacity="0.98"/>
<rect x="416.4" y="169.0" width="4.8" height="1.7" fill-opacity="0.93"/>
<rect x="416.2" y="167.5" width="5.2" height="1.7" fill-opacity="0.96"/>
<rect x="416.5" y="169.0" width="5.8" height="1.7" fill-opacity="0.97"/>
<rect x="416.9" y="166.0" width="5.0" height="1.7" fill-opacity="0.75"/>
<rect x="417.0" y="169.0" width="6.0" height="1.7" fill-opacity="0.87"/>
<rect x="417.5" y="166.0" width="5.1" height="1.7" fill-opacity="0.98"/>
<rect x="417.8" y="169.0" width="5.6" height="1.7" fill-opacity="0.86"/>
<rect x="418.4" y="169.0" width="4.4" height="1.7" fill-opacity="0.83"/>
<rect x="419.0" y="166.0" width="4.5" height="1.7" fill-opacity="0.96"/>
<rect x="419.1" y="167.5" width="4.2" height="1.7" fill-opacity="0.88"/>
<rect x="418.9" y="169.0" width="5.7" height="1.7" fill-opacity="0.84"/>
<rect x="418.9" y="169.0" width="5.7" height="1.7" fill-opacity="0.92"/>
<rect x="420.3" y="170.5" width="4.1" height="1.7" fill-opacity="1.00"/>
<rect x="420.2" y="167.5" width="4.3" height="1.7" fill-opacity="0.95"/>
<rect x="420.4" y="167.5" width="5.2" height="1.7" fill-opacity="0.96"/>
<rect x="420.1" y="170.5" width="5.8" height="1.7" fill-opacity="0.79"/>
<rect x="421.4" y="170.5" width="4.5" height="1.7" fill-opacity="0.97"/>
<rect x="420.8" y="169.0" width="5.5" height="1.7" fill-opacity="0.80"/>
<rect x="421.6" y="167.5" width="5.3" height="1.7" fill-opacity="0.79"/>
<rect x="421.2" y="167.5" width="6.0" height="1.7" fill-opacity="0.90"/>
<rect x="422.0" y="169.0" width="5.6" height="1.7" fill-opacity="0.87"/>
<rect x="422.4" y="167.5" width="4.7" height="1.7" fill-opacity="0.87"/>
<rect x="423.4" y="169.0" width="4.1" height="1.7" fill-opacity="0.88"/>
<rect x="423.3" y="167.5" width="4.2" height="1.7" fill-opacity="0.87"/>
<rect x="423.3" y="169.0" width="5.4" height="1.7" fill-opacity="0.76"/>
<rect x="423.8" y="170.5" width="4.5" height="1.7" fill-opacity="0.99"/>
<rect x="423.6" y="170.5" width="5.9" height="1.7" fill-opacity="0.88"/>
<rect x="423.6" y="170.5" width="6.0" height="1.7" fill-opacity="0.96"/>
<rect x="424.3" y="169.0" width="5.9" height="1.7" fill-opacity="0.82"/>
<rect x="424.4" y="170.5" width="5.5" height="1.7" fill-opacity="0.84"/>
<rect x="425.1" y="173.5" width="5.3" height="1.7" fill-opacity="0.97"/>
<rect x="425.1" y="169.0" width="5.4" height="1.7" fill-opacity="0.81"/>
<rect x="425.9" y="173.5" width="4.9" height="1.7" fill-opacity="0.93"/>
<rect x="425.7" y="172.0" width="5.3" height="1.7" fill-opacity="0.98"/>
<rect x="426.2" y="170.5" width="5.5" height="1.7" fill-opacity="0.90"/>
<rect x="426.9" y="173.5" width="4.1" height="1.7" fill-opacity="0.97"/>
<rect x="426.9" y="170.5" width="5.3" height="1.7" fill-opacity="0.76"/>
<rect x="426.8" y="170.5" width="5.6" height="1.7" fill-opacity="0.90"/>
<rect x="427.3" y="173.5" width="5.8" height="1.7" fill-opacity="0.95"/>
<rect x="428.1" y="172.0" width="4.1" height="1.7" fill-opacity="0.86"/>
<rect x="427.9" y="172.0" width="5.7" height="1.7" fill-opacity="0.94"/>
<rect x="428.3" y="170.5" width="5.0" height="1.7" fill-opacity="0.85"/>
<rect x="429.4" y="175.0" width="4.0" height="1.7" fill-opacity="0.97"/>
<rect x="428.8" y="170.5" width="5.2" height="1.7" fill-opacity="0.88"/>
<rect x="429.5" y="173.5" width="4.9" height="1.7" fill-opacity="0.94"/>
<rect x="429.7" y="172.0" width="4.6" height="1.7" fill-opacity="0.91"/>
<rect x="430.0" y="173.5" width="5.2" height="1.7" fill-opacity="0.79"/>
<rect x="429.9" y="173.5" width="5.4" height="1.7" fill-opacity="0.86"/>
<rect x="430.6" y="172.0" width="5.2" height="1.7" fill-opacity="0.79"/>
<rect x="431.1" y="172.0" width="4.3" height="1.7" fill-opacity="0.82"/>
<rect x="431.1" y="175.0" width="5.4" height="1.7" fill-opacity="0.78"/>
<rect x="431.8" y="175.0" width="4.0" height="1.7" fill-opacity="0.93"/>
<rect x="432.4" y="172.0" width="4.0" height="1.7" fill-opacity="0.83"/>
<rect x="432.3" y="173.5" width="4.2" height="1.7" fill-opacity="0.79"/>
<rect x="432.4" y="170.5" width="5.2" height="1.7" fill-opacity="0.84"/>
<rect x="432.7" y="173.5" width="4.7" height="1.7" fill-opacity="0.95"/>
<rect x="432.9" y="173.5" width="5.4" height="1.7" fill-opacity="0.96"/>
<rect x="433.6" y="173.5" width="4.1" height="1.7" fill-opacity="0.94"/>
<rect x="433.8" y="172.0" width="4.8" height="1.7" fill-opacity="0.91"/>
<rect x="433.8" y="172.0" width="4.8" height="1.7" fill-opacity="0.83"/>
<rect x="434.7" y="175.0" width="4.2" height="1.7" fill-opacity="0.89"/>
<rect x="434.6" y="173.5" width="4.4" height="1.7" fill-opacity="0.86"/>
<rect x="435.1" y="175.0" width="4.6" height="1.7" fill-opacity="0.97"/>
<rect x="435.2" y="172.0" width="4.4" height="1.7" fill-opacity="0.93"/>
<rect x="435.5" y="176.5" width="5.0" height="1.7" fill-opacity="0.91"/>
<rect x="435.9" y="175.0" width="4.2" height="1.7" fill-opacity="0.97"/>
<rect x="436.5" y="173.5" width="4.2" height="1.7" fill-opacity="0.88"/>
<rect x="436.5" y="176.5" width="4.1" height="1.7" fill-opacity="0.84"/>
<rect x="436.7" y="173.5" width="5.0" height="1.7" fill-opacity="0.77"/>
<rect x="436.4" y="175.0" width="5.5" height="1.7" fill-opacity="0.84"/>
<rect x="437.1" y="173.5" width="5.4" height="1.7" fill-opacity="1.00"/>
<rect x="437.0" y="175.0" width="5.6" height="1.7" fill-opacity="0.81"/>
<rect x="437.9" y="175.0" width="5.0" height="1.7" fill-opacity="0.90"/>
<rect x="437.6" y="173.5" width="5.6" height="1.7" fill-opacity="0.93"/>
<rect x="438.5" y="173.5" width="4.9" height="1.7" fill-opacity="0.96"/>
<rect x="438.5" y="175.0" width="5.1" height="1.7" fill-opacity="0.87"/>
<rect x="438.9" y="172.0" width="5.4" height="1.7" fill-opacity="0.88"/>
<rect x="439.5" y="176.5" width="4.2" height="1.7" fill-opacity="0.88"/>
<rect x="439.6" y="173.5" width="5.2" height="1.7" fill-opacity="0.82"/>
<rect x="440.1" y="175.0" width="4.3" height="1.7" fill-opacity="0.78"/>
<rect x="440.0" y="175.0" width="5.6" height="1.7" fill-opacity="0.99"/>
<rect x="440.3" y="173.5" width="4.9" height="1.7" fill-opacity="0.99"/>
<rect x="441.1" y="175.0" width="4.5" height="1.7" fill-opacity="0.91"/>
<rect x="441.2" y="172.0" width="4.4" height="1.7" fill-opacity="0.88"/>
<rect x="441.8" y="176.5" width="4.4" height="1.7" fill-opacity="0.91"/>
<rect x="441.5" y="172.0" width="5.0" height="1.7" fill-opacity="0.80"/>
<rect x="441.8" y="173.5" width="5.5" height="1.7" fill-opacity="0.81"/>
<rect x="442.3" y="173.5" width="4.6" height="1.7" fill-opacity="0.91"/>
<rect x="442.9" y="173.5" width="4.7" height="1.7" fill-opacity="0.92"/>
<rect x="442.9" y="176.5" width="4.6" height="1.7" fill-opacity="0.89"/>
<rect x="443.7" y="175.0" width="4.2" height="1.7" fill-opacity="0.76"/>
<rect x="442.9" y="178.0" width="5.9" height="1.7" fill-opacity="0.92"/>
<rect x="444.2" y="175.0" width="4.4" height="1.7" fill-opacity="0.86"/>
<rect x="443.9" y="172.0" width="5.0" height="1.7" fill-opacity="0.80"/>
<rect x="444.2" y="178.0" width="5.5" height="1.7" fill-opacity="0.84"/>
<rect x="444.7" y="172.0" width="4.6" height="1.7" fill-opacity="0.79"/>
<rect x="445.0" y="175.0" width="5.2" height="1.7" fill-opacity="0.76"/>
<rect x="445.0" y="176.5" width="5.3" height="1.7" fill-opacity="0.98"/>
<rect x="445.8" y="176.5" width="4.9" height="1.7" fill-opacity="0.97"/>
<rect x="445.4" y="175.0" width="5.6" height="1.7" fill-opacity="0.84"/>
<rect x="445.8" y="173.5" width="5.9" height="1.7" fill-opacity="0.88"/>
<rect x="446.4" y="173.5" width="4.8" height="1.7" fill-opacity="0.84"/>
<rect x="447.0" y="175.0" width="4.7" height="1.7" fill-opacity="0.91"/>
<rect x="446.6" y="178.0" width="5.7" height="1.7" fill-opacity="0.75"/>
</g>
<line x1="47.5" y1="140.2" x2="493" y2="140.2" stroke="#333" stroke-width="1.1"/>
<g fill="none" stroke="#000" stroke-width="1.1" stroke-linejoin="round">
<path d="M47.50,104.00 L48.50,107.00 L49.50,113.00 L50.50,121.00 L51.30,127.00" stroke-width="2.0"/>
<path d="M72.00,124.79 L72.60,124.81 L73.20,124.64 L73.80,124.84 L74.40,124.67 L75.00,124.46 L75.60,124.82 L76.20,125.06 L76.80,124.92 L77.40,124.78 L78.00,125.04 L78.60,124.48 L79.20,124.60 L79.80,124.71 L80.40,124.44 L81.00,124.45 L81.60,124.91 L82.20,124.65 L82.80,124.74 L83.40,124.37 L84.00,124.85 L84.60,124.82 L85.20,124.37 L85.80,124.24 L86.40,124.31 L87.00,124.23 L87.60,124.26 L88.20,124.44 L88.80,124.46 L89.40,124.52 L90.00,124.28 L90.60,124.49 L91.20,124.44 L91.80,124.10 L92.40,124.23 L93.00,124.35 L93.60,124.32 L94.20,124.49 L94.80,124.85 L95.40,124.96 L96.00,124.82 L96.60,124.96 L97.20,125.09 L97.80,125.19 L98.40,125.07 L99.00,125.09 L99.60,125.27 L100.20,125.36 L100.80,125.08 L101.40,125.33 L102.00,125.38 L102.60,125.59 L103.20,125.28 L103.80,125.77 L104.40,125.63 L105.00,125.59 L105.60,125.43 L106.20,125.13 L106.80,125.18 L107.40,125.09 L108.00,125.14 L108.60,124.79 L109.20,124.68 L109.80,125.30 L110.40,124.54 L111.00,124.67 L111.60,124.68 L112.20,125.00 L112.80,124.44 L113.40,124.30 L114.00,124.32 L114.60,124.31 L115.20,124.38 L115.80,124.14 L116.40,123.60 L117.00,124.06 L117.60,123.96 L118.20,123.24 L118.80,123.48 L119.40,123.28 L120.00,122.97 L120.60,122.78 L121.20,122.04 L121.80,121.88 L122.40,121.58 L123.00,121.23 L123.60,120.83 L124.20,120.61 L124.80,119.67 L125.40,119.06 L126.00,119.21 L126.60,118.00 L127.20,117.24 L127.80,117.87 L128.40,116.99 L129.00,116.51 L129.60,119.95 L130.20,118.20 L130.80,115.33 L131.40,115.18 L132.00,116.51 L132.60,115.06 L133.20,113.13 L133.80,112.69 L134.40,114.66 L135.00,116.69 L135.60,115.03 L136.20,114.78 L136.80,114.86 L137.40,114.50 L138.00,113.73 L138.60,113.72 L139.20,114.23 L139.80,113.62 L140.40,113.32 L141.00,113.17 L141.60,113.27" stroke-width="1.3"/>
<path d="M52.00,128.41 L52.72,122.09 L53.13,124.05 L53.78,127.53 L54.36,119.72 L54.82,125.11 L55.60,120.75 L56.18,118.34 L56.76,125.66 L57.34,123.99 L57.73,129.13 L58.49,125.98 L59.12,124.77 L59.61,124.43 L60.37,123.29 L61.01,124.48 L61.46,125.92 L61.87,124.31 L62.54,128.57 L63.00,122.45 L63.68,128.60 L64.30,124.58 L65.00,123.27 L65.65,122.50 L66.09,122.23 L66.45,123.97 L67.13,124.60 L67.78,125.85 L68.33,123.93 L68.88,125.88 L69.35,123.95 L69.70,122.55 L70.11,124.93 L70.47,123.52 L70.83,123.10 L71.62,125.17 L72.07,122.72 L72.76,122.89" stroke-width="1.25"/>
<path d="M51.3,95.5 L51.3,141" stroke-width="1.6"/>
<path d="M142,113.5 L166.5,137.5" stroke="#111" stroke-width="1.1"/>
<path d="M281,135.6 L366,139.3" stroke="#333" stroke-width="1.1"/>
<path d="M47.41,103.89 V108.60 M48.20,105.87 V110.45 M48.70,107.28 V112.08 M49.88,114.49 V122.32 M51.28,119.08 V128.55 M166.33,135.59 V138.63 M167.51,134.02 V138.69 M168.93,134.93 V138.91 M172.83,134.25 V140.05 M174.84,134.83 V139.99 M177.52,136.43 V139.92 M180.15,136.91 V140.39 M182.71,136.77 V140.79 M185.26,136.17 V141.42 M186.99,135.80 V140.87 M188.74,135.43 V140.44 M189.66,136.61 V140.43 M192.51,136.33 V140.76 M196.28,136.02 V141.64 M196.96,135.81 V141.68 M200.92,136.42 V140.15 M209.58,137.21 V141.59 M211.52,134.80 V139.99 M215.16,135.53 V140.27 M216.16,136.63 V140.44 M216.74,136.53 V140.43 M218.51,136.14 V140.64 M221.14,135.22 V140.18 M227.08,135.31 V140.76 M227.48,134.58 V140.72 M230.69,136.25 V141.21 M233.01,137.55 V141.10 M236.10,134.03 V140.38 M244.11,135.00 V139.89 M246.72,134.80 V139.69 M247.46,133.90 V140.17 M249.25,135.23 V138.64 M250.88,133.43 V139.07 M254.53,136.03 V140.95 M258.46,135.94 V140.05 M262.17,136.68 V139.83 M264.66,135.55 V140.81 M268.42,136.20 V141.97 M273.56,134.00 V138.89 M274.39,135.60 V138.85 M278.89,134.58 V139.30 M279.92,135.11 V139.37 M280.99,136.48 V141.60 M366.19,137.96 V142.13 M372.91,138.30 V141.99 M375.63,138.62 V142.21 M377.01,136.92 V141.19 M378.44,137.00 V141.59 M389.53,136.45 V141.28 M390.92,138.20 V140.99 M400.09,136.10 V141.31 M401.23,136.09 V140.03 M401.77,136.10 V139.86 M404.98,135.59 V139.71 M406.54,136.16 V139.92 M408.02,137.13 V141.61 M414.69,137.47 V141.43 M415.74,136.83 V141.79 M417.31,138.14 V141.56 M417.92,136.78 V141.63 M419.88,137.49 V141.59 M423.63,137.16 V140.52 M426.07,136.91 V140.00 M428.01,137.33 V140.38 M440.69,135.61 V139.89 M441.64,137.08 V141.30 M444.25,136.05 V140.38 M446.01,135.92 V140.20 M448.53,137.24 V141.53" stroke-width="0.9"/>
</g>
<g fill="#000">
<polygon points="52.00,123.92 52.70,124.28 53.40,123.90 54.10,124.28 54.80,124.46 55.50,123.53 56.20,123.85 56.90,124.30 57.60,124.16 58.30,124.16 59.00,123.84 59.70,124.55 60.40,124.50 61.10,124.76 61.80,124.30 62.50,124.20 63.20,124.81 63.90,124.55 64.60,123.89 65.30,123.56 66.00,123.07 66.70,123.90 67.40,123.28 68.10,123.07 68.80,123.38 69.50,123.36 70.20,123.14 70.90,123.03 71.60,123.48 71.60,125.31 70.90,124.67 70.20,124.92 69.50,125.60 68.80,125.41 68.10,125.10 67.40,125.56 66.70,125.76 66.00,125.09 65.30,125.76 64.60,126.32 63.90,126.65 63.20,127.10 62.50,126.68 61.80,126.80 61.10,126.64 60.40,126.98 59.70,126.80 59.00,126.39 58.30,127.15 57.60,126.77 56.90,127.31 56.20,126.82 55.50,126.02 54.80,127.27 54.10,126.85 53.40,126.78 52.70,127.01 52.00,126.46"/>
<polygon points="47.50,104.98 48.00,106.69 48.50,108.48 49.00,109.93 49.50,113.01 50.00,115.29 50.50,117.49 51.00,120.75 51.50,121.93 52.00,122.92 52.00,125.82 51.50,125.59 51.00,124.21 50.50,121.62 50.00,119.39 49.50,117.07 49.00,113.80 48.50,112.04 48.00,109.40 47.50,108.02"/>
<polygon points="166.50,135.77 167.40,135.25 168.30,134.72 169.20,135.17 170.10,134.71 171.00,134.74 171.90,135.33 172.80,135.35 173.70,134.50 174.60,135.60 175.50,135.40 176.40,136.03 177.30,137.25 178.20,136.56 179.10,137.61 180.00,136.63 180.90,137.27 181.80,136.82 182.70,136.25 183.60,136.68 184.50,136.44 185.40,136.55 186.30,137.75 187.20,137.01 188.10,137.05 189.00,137.22 189.90,136.81 190.80,136.20 191.70,135.62 192.60,135.61 193.50,135.76 194.40,134.79 195.30,135.47 196.20,136.64 197.10,136.95 198.00,136.69 198.90,137.62 199.80,137.88 200.70,136.61 201.60,135.49 202.50,135.71 203.40,136.52 204.30,136.58 205.20,137.07 206.10,137.62 207.00,137.71 207.90,137.22 208.80,137.10 209.70,136.94 210.60,136.00 211.50,135.88 212.40,136.01 213.30,135.73 214.20,136.00 215.10,135.80 216.00,136.75 216.90,137.22 217.80,137.10 218.70,136.72 219.60,136.37 220.50,136.47 221.40,136.18 222.30,137.30 223.20,136.13 224.10,136.78 225.00,136.34 225.90,135.54 226.80,135.80 227.70,136.08 228.60,136.61 229.50,137.27 230.40,136.86 231.30,137.23 232.20,138.37 233.10,137.50 234.00,136.98 234.90,135.91 235.80,135.19 236.70,135.21 237.60,134.04 238.50,134.17 239.40,135.64 240.30,135.75 241.20,136.77 242.10,135.81 243.00,136.27 243.90,135.52 244.80,135.63 245.70,135.27 246.60,135.79 247.50,135.49 248.40,134.92 249.30,135.36 250.20,135.06 251.10,134.47 252.00,135.45 252.90,135.09 253.80,135.51 254.70,137.14 255.60,135.68 256.50,136.50 257.40,137.31 258.30,136.13 259.20,135.33 260.10,136.61 261.00,136.22 261.90,136.50 262.80,136.30 263.70,135.96 264.60,136.61 265.50,137.39 266.40,137.31 267.30,137.12 268.20,137.28 269.10,137.37 270.00,136.15 270.90,136.37 271.80,135.30 272.70,135.93 273.60,135.73 274.50,135.62 275.40,135.03 276.30,135.07 277.20,135.21 278.10,135.77 279.00,135.48 279.90,135.91 280.80,136.93 280.80,139.68 279.90,139.14 279.00,139.99 278.10,139.07 277.20,138.70 276.30,138.77 275.40,139.08 274.50,138.38 273.60,139.41 272.70,139.35 271.80,139.76 270.90,140.31 270.00,140.48 269.10,140.71 268.20,141.36 267.30,140.45 266.40,141.44 265.50,140.54 264.60,139.75 263.70,139.31 262.80,139.44 261.90,139.46 261.00,139.24 260.10,140.37 259.20,139.94 258.30,140.52 257.40,141.28 256.50,140.29 255.60,140.26 254.70,140.81 253.80,139.61 252.90,138.35 252.00,138.55 251.10,138.45 250.20,138.53 249.30,138.32 248.40,138.40 247.50,139.02 246.60,139.30 245.70,138.66 244.80,138.60 243.90,139.22 243.00,139.68 242.10,139.33 241.20,140.23 240.30,139.56 239.40,138.90 238.50,137.55 237.60,138.22 236.70,138.37 235.80,138.75 234.90,140.13 234.00,140.43 233.10,141.31 232.20,142.02 231.30,141.98 230.40,140.61 229.50,140.64 228.60,140.50 227.70,139.45 226.80,139.39 225.90,139.31 225.00,140.34 224.10,140.56 223.20,139.50 222.30,140.70 221.40,140.28 220.50,140.32 219.60,139.98 218.70,140.49 217.80,141.11 216.90,140.92 216.00,139.94 215.10,139.90 214.20,139.45 213.30,140.10 212.40,140.03 211.50,140.34 210.60,139.75 209.70,140.57 208.80,140.91 207.90,140.64 207.00,142.01 206.10,140.96 205.20,140.27 204.30,139.76 203.40,140.17 202.50,139.54 201.60,140.26 200.70,140.40 199.80,141.75 198.90,140.71 198.00,140.54 197.10,140.08 196.20,140.58 195.30,139.09 194.40,138.95 193.50,139.62 192.60,139.75 191.70,139.01 190.80,140.60 189.90,140.49 189.00,140.20 188.10,140.52 187.20,139.95 186.30,140.58 185.40,140.09 184.50,140.03 183.60,139.57 182.70,140.56 181.80,140.04 180.90,140.62 180.00,140.28 179.10,140.04 178.20,140.22 177.30,140.01 176.40,139.86 175.50,138.94 174.60,138.45 173.70,138.00 172.80,139.08 171.90,139.05 171.00,137.93 170.10,137.22 169.20,138.33 168.30,137.70 167.40,137.69 166.50,138.19"/>
<polygon points="366.00,137.78 366.90,137.74 367.80,138.05 368.70,138.01 369.60,138.13 370.50,138.58 371.40,138.45 372.30,138.85 373.20,138.74 374.10,138.69 375.00,138.53 375.90,138.76 376.80,137.99 377.70,138.32 378.60,138.76 379.50,138.64 380.40,138.35 381.30,138.86 382.20,138.54 383.10,138.17 384.00,137.80 384.90,137.68 385.80,137.35 386.70,137.46 387.60,137.94 388.50,138.08 389.40,137.99 390.30,137.92 391.20,138.24 392.10,137.88 393.00,137.75 393.90,137.42 394.80,137.66 395.70,136.98 396.60,136.76 397.50,136.04 398.40,136.08 399.30,135.55 400.20,135.66 401.10,135.32 402.00,135.38 402.90,135.83 403.80,136.04 404.70,135.63 405.60,135.69 406.50,135.65 407.40,136.31 408.30,137.36 409.20,137.33 410.10,137.99 411.00,138.08 411.90,137.84 412.80,138.04 413.70,138.31 414.60,138.07 415.50,137.88 416.40,137.98 417.30,138.23 418.20,138.17 419.10,137.99 420.00,138.49 420.90,138.05 421.80,137.96 422.70,138.07 423.60,137.61 424.50,137.64 425.40,137.25 426.30,137.23 427.20,137.15 428.10,137.47 429.00,137.55 429.90,137.29 430.80,136.99 431.70,136.94 432.60,136.93 433.50,136.67 434.40,137.37 435.30,136.72 436.20,136.59 437.10,136.80 438.00,137.40 438.90,137.04 439.80,136.82 440.70,136.89 441.60,136.91 442.50,137.04 443.40,137.27 444.30,137.28 445.20,137.57 446.10,136.79 447.00,137.62 447.90,137.30 448.80,137.21 448.80,140.19 447.90,140.05 447.00,140.25 446.10,140.04 445.20,140.12 444.30,140.03 443.40,140.30 442.50,139.82 441.60,140.14 440.70,139.76 439.80,139.80 438.90,139.98 438.00,140.06 437.10,139.93 436.20,139.64 435.30,139.41 434.40,139.71 433.50,139.41 432.60,139.69 431.70,139.50 430.80,139.68 429.90,139.78 429.00,139.81 428.10,140.28 427.20,139.93 426.30,139.95 425.40,139.90 424.50,140.29 423.60,140.37 422.70,140.70 421.80,140.58 420.90,140.65 420.00,140.74 419.10,140.67 418.20,140.96 417.30,140.49 416.40,140.79 415.50,140.37 414.60,140.55 413.70,140.53 412.80,141.13 411.90,140.75 411.00,140.74 410.10,140.46 409.20,140.34 408.30,140.72 407.40,141.00 406.50,141.49 405.60,141.58 404.70,141.55 403.80,141.49 402.90,141.66 402.00,141.38 401.10,141.31 400.20,141.50 399.30,140.91 398.40,141.29 397.50,141.51 396.60,140.55 395.70,140.38 394.80,140.47 393.90,140.15 393.00,140.05 392.10,140.69 391.20,141.23 390.30,141.04 389.40,141.01 388.50,140.67 387.60,140.70 386.70,140.19 385.80,140.31 384.90,140.79 384.00,140.58 383.10,140.92 382.20,141.30 381.30,141.84 380.40,141.37 379.50,141.22 378.60,141.04 377.70,141.17 376.80,140.98 375.90,141.67 375.00,141.56 374.10,141.62 373.20,141.02 372.30,141.66 371.40,141.34 370.50,141.47 369.60,140.77 368.70,141.04 367.80,141.04 366.90,140.72 366.00,140.61"/>
</g>
<g stroke="#3a3a3a" stroke-width="1.3" fill="none" stroke-linejoin="round">
<path d="M47.5,37.9 H493.2 V222.3 H47.5 Z"/>
<path d="M59.10,222.3 v-2.4 M59.10,37.9 v2.4 M80.19,222.3 v-2.4 M80.19,37.9 v2.4 M101.28,222.3 v-2.4 M101.28,37.9 v2.4 M122.37,222.3 v-3.8 M122.37,37.9 v3.8 M143.46,222.3 v-2.4 M143.46,37.9 v2.4 M164.55,222.3 v-2.4 M164.55,37.9 v2.4 M185.64,222.3 v-2.4 M185.64,37.9 v2.4 M206.73,222.3 v-2.4 M206.73,37.9 v2.4 M227.82,222.3 v-3.8 M227.82,37.9 v3.8 M248.91,222.3 v-2.4 M248.91,37.9 v2.4 M270.00,222.3 v-2.4 M270.00,37.9 v2.4 M291.09,222.3 v-2.4 M291.09,37.9 v2.4 M312.18,222.3 v-2.4 M312.18,37.9 v2.4 M333.27,222.3 v-3.8 M333.27,37.9 v3.8 M354.36,222.3 v-2.4 M354.36,37.9 v2.4 M375.45,222.3 v-2.4 M375.45,37.9 v2.4 M396.54,222.3 v-2.4 M396.54,37.9 v2.4 M417.63,222.3 v-2.4 M417.63,37.9 v2.4 M438.72,222.3 v-3.8 M438.72,37.9 v3.8 M459.81,222.3 v-2.4 M459.81,37.9 v2.4 M480.90,222.3 v-2.4 M480.90,37.9 v2.4 M47.5,222.20 h9.2 M493.2,222.20 h-9.2 M47.5,211.95 h4.4 M493.2,211.95 h-4.4 M47.5,201.70 h4.4 M493.2,201.70 h-4.4 M47.5,191.45 h4.4 M493.2,191.45 h-4.4 M47.5,181.20 h9.2 M493.2,181.20 h-9.2 M47.5,170.95 h4.4 M493.2,170.95 h-4.4 M47.5,160.70 h4.4 M493.2,160.70 h-4.4 M47.5,150.45 h4.4 M493.2,150.45 h-4.4 M47.5,140.20 h9.2 M493.2,140.20 h-9.2 M47.5,129.95 h4.4 M493.2,129.95 h-4.4 M47.5,119.70 h4.4 M493.2,119.70 h-4.4 M47.5,109.45 h4.4 M493.2,109.45 h-4.4 M47.5,99.20 h9.2 M493.2,99.20 h-9.2 M47.5,88.95 h4.4 M493.2,88.95 h-4.4 M47.5,78.70 h4.4 M493.2,78.70 h-4.4 M47.5,68.45 h4.4 M493.2,68.45 h-4.4 M47.5,58.20 h9.2 M493.2,58.20 h-9.2 M47.5,47.95 h4.4 M493.2,47.95 h-4.4 M47.5,37.70 h4.4 M493.2,37.70 h-4.4"/>
</g>
<g fill="none" stroke="#2a2a2a" stroke-width="0.95" stroke-linecap="round" stroke-linejoin="round">
<path d="M182.00,7.54L182.00,15.00M186.58,7.54L183.76,15.00M186.58,7.54L189.39,15.00M184.82,12.52L188.34,12.52M195.73,8.61L195.03,7.90L193.97,7.54L192.56,7.54L191.51,7.90L190.80,8.61L190.80,9.32L191.16,10.03L191.51,10.38L192.21,10.74L194.32,11.45L195.03,11.80L195.38,12.16L195.73,12.87L195.73,13.94L195.03,14.64L193.97,15.00L192.56,15.00L191.51,14.64L190.80,13.94M198.20,7.54L198.20,15.00M201.01,11.80L207.35,11.80M210.17,7.54L210.17,15.00M210.17,7.54L213.34,7.54L214.40,7.90L214.75,8.26L215.10,8.96L215.10,9.68L214.75,10.38L214.40,10.74L213.34,11.10M210.17,11.10L213.34,11.10L214.40,11.45L214.75,11.80L215.10,12.52L215.10,13.58L214.75,14.29L214.40,14.64L213.34,15.00L210.17,15.00M223.20,11.80L228.60,11.80M243.20,9.32L242.85,8.61L242.16,7.90L241.47,7.54L240.08,7.54L239.39,7.90L238.69,8.61L238.35,9.32L238.00,10.38L238.00,12.16L238.35,13.22L238.69,13.94L239.39,14.64L240.08,15.00L241.47,15.00L242.16,14.64L242.85,13.94L243.20,13.22M245.63,7.54L245.63,15.00M245.63,7.54L248.75,7.54L249.79,7.90L250.13,8.26L250.48,8.96L250.48,9.68L250.13,10.38L249.79,10.74L248.75,11.10L245.63,11.10M248.05,11.10L250.48,15.00M252.91,7.54L252.91,15.00M260.19,8.61L259.49,7.90L258.45,7.54L257.07,7.54L256.03,7.90L255.33,8.61L255.33,9.32L255.68,10.03L256.03,10.38L256.72,10.74L258.80,11.45L259.49,11.80L259.84,12.16L260.19,12.87L260.19,13.94L259.49,14.64L258.45,15.00L257.07,15.00L256.03,14.64L255.33,13.94M262.61,7.54L262.61,15.00M262.61,7.54L267.47,15.00M267.47,7.54L267.47,15.00M270.24,9.32L270.24,8.96L270.59,8.26L270.93,7.90L271.63,7.54L273.01,7.54L273.71,7.90L274.05,8.26L274.40,8.96L274.40,9.68L274.05,10.38L273.36,11.45L269.89,15.00L274.75,15.00M277.87,8.96L278.56,8.61L279.60,7.54L279.60,15.00M292.29,6.12L291.63,6.84L290.98,7.90L290.33,9.32L290.00,11.10L290.00,12.52L290.33,14.29L290.98,15.71L291.63,16.77L292.29,17.48M299.14,9.32L298.82,8.61L298.16,7.90L297.51,7.54L296.20,7.54L295.55,7.90L294.90,8.61L294.57,9.32L294.24,10.38L294.24,12.16L294.57,13.22L294.90,13.94L295.55,14.64L296.20,15.00L297.51,15.00L298.16,14.64L298.82,13.94L299.14,13.22M301.43,7.54L301.43,15.00M301.43,7.54L304.37,7.54L305.35,7.90L305.67,8.26L306.00,8.96L306.00,9.68L305.67,10.38L305.35,10.74L304.37,11.10M301.43,11.10L304.37,11.10L305.35,11.45L305.67,11.80L306.00,12.52L306.00,13.58L305.67,14.29L305.35,14.64L304.37,15.00L301.43,15.00M314.80,10.03L314.80,15.00M314.80,11.45L315.83,10.38L316.52,10.03L317.56,10.03L318.25,10.38L318.59,11.45L318.59,15.00M318.59,11.45L319.63,10.38L320.32,10.03L321.35,10.03L322.04,10.38L322.38,11.45L322.38,15.00M324.80,12.16L328.93,12.16L328.93,11.45L328.59,10.74L328.24,10.38L327.55,10.03L326.52,10.03L325.83,10.38L325.14,11.10L324.80,12.16L324.80,12.87L325.14,13.94L325.83,14.64L326.52,15.00L327.55,15.00L328.24,14.64L328.93,13.94M331.69,7.54L331.69,13.58L332.04,14.64L332.73,15.00L333.41,15.00M330.66,10.03L333.07,10.03M335.48,7.54L335.48,15.00M335.48,11.45L336.52,10.38L337.21,10.03L338.24,10.03L338.93,10.38L339.27,11.45L339.27,15.00M343.41,10.03L342.72,10.38L342.03,11.10L341.69,12.16L341.69,12.87L342.03,13.94L342.72,14.64L343.41,15.00L344.45,15.00L345.13,14.64L345.82,13.94L346.17,12.87L346.17,12.16L345.82,11.10L345.13,10.38L344.45,10.03L343.41,10.03M352.37,7.54L352.37,15.00M352.37,11.10L351.68,10.38L351.00,10.03L349.96,10.03L349.27,10.38L348.58,11.10L348.24,12.16L348.24,12.87L348.58,13.94L349.27,14.64L349.96,15.00L351.00,15.00L351.68,14.64L352.37,13.94M354.79,6.12L355.48,6.84L356.17,7.90L356.86,9.32L357.20,11.10L357.20,12.52L356.86,14.29L356.17,15.71L355.48,16.77L354.79,17.48M31.81,55.08L30.89,55.40L30.28,56.36L29.98,57.96L29.98,58.92L30.28,60.52L30.89,61.48L31.81,61.80L32.42,61.80L33.33,61.48L33.94,60.52L34.25,58.92L34.25,57.96L33.94,56.36L33.33,55.40L32.42,55.08L31.81,55.08M36.69,61.16L36.38,61.48L36.69,61.80L36.99,61.48L36.69,61.16M42.18,55.08L39.12,59.56L43.70,59.56M42.18,55.08L42.18,61.80M32.11,96.08L31.20,96.40L30.59,97.36L30.28,98.96L30.28,99.92L30.59,101.52L31.20,102.48L32.11,102.80L32.72,102.80L33.64,102.48L34.25,101.52L34.55,99.92L34.55,98.96L34.25,97.36L33.64,96.40L32.72,96.08L32.11,96.08M36.99,102.16L36.69,102.48L36.99,102.80L37.30,102.48L36.99,102.16M39.73,97.68L39.73,97.36L40.04,96.72L40.35,96.40L40.96,96.08L42.18,96.08L42.79,96.40L43.09,96.72L43.40,97.36L43.40,98.00L43.09,98.64L42.48,99.60L39.43,102.80L43.70,102.80M32.11,137.08L31.20,137.40L30.59,138.36L30.28,139.96L30.28,140.92L30.59,142.52L31.20,143.48L32.11,143.80L32.72,143.80L33.64,143.48L34.25,142.52L34.55,140.92L34.55,139.96L34.25,138.36L33.64,137.40L32.72,137.08L32.11,137.08M36.99,143.16L36.69,143.48L36.99,143.80L37.30,143.48L36.99,143.16M41.26,137.08L40.35,137.40L39.73,138.36L39.43,139.96L39.43,140.92L39.73,142.52L40.35,143.48L41.26,143.80L41.87,143.80L42.79,143.48L43.40,142.52L43.70,140.92L43.70,139.96L43.40,138.36L42.79,137.40L41.87,137.08L41.26,137.08M22.66,181.92L28.15,181.92M32.11,178.08L31.20,178.40L30.59,179.36L30.28,180.96L30.28,181.92L30.59,183.52L31.20,184.48L32.11,184.80L32.72,184.80L33.64,184.48L34.25,183.52L34.55,181.92L34.55,180.96L34.25,179.36L33.64,178.40L32.72,178.08L32.11,178.08M36.99,184.16L36.69,184.48L36.99,184.80L37.30,184.48L36.99,184.16M39.74,179.68L39.74,179.36L40.04,178.72L40.35,178.40L40.96,178.08L42.18,178.08L42.79,178.40L43.09,178.72L43.40,179.36L43.40,180.00L43.09,180.64L42.48,181.60L39.43,184.80L43.70,184.80M22.35,219.72L27.84,219.72M31.81,215.88L30.89,216.20L30.28,217.16L29.98,218.76L29.98,219.72L30.28,221.32L30.89,222.28L31.81,222.60L32.42,222.60L33.33,222.28L33.94,221.32L34.25,219.72L34.25,218.76L33.94,217.16L33.33,216.20L32.42,215.88L31.81,215.88M36.69,221.96L36.38,222.28L36.69,222.60L36.99,222.28L36.69,221.96M42.18,215.88L39.13,220.36L43.70,220.36M42.18,215.88L42.18,222.60M112.20,229.86L112.90,229.54L113.94,228.58L113.94,235.30M119.17,228.58L118.12,228.90L117.43,229.86L117.08,231.46L117.08,232.42L117.43,234.02L118.12,234.98L119.17,235.30L119.86,235.30L120.91,234.98L121.61,234.02L121.95,232.42L121.95,231.46L121.61,229.86L120.91,228.90L119.86,228.58L119.17,228.58M125.09,228.58L124.05,228.90L123.35,229.86L123.00,231.46L123.00,232.42L123.35,234.02L124.05,234.98L125.09,235.30L125.79,235.30L126.83,234.98L127.53,234.02L127.88,232.42L127.88,231.46L127.53,229.86L126.83,228.90L125.79,228.58L125.09,228.58M131.01,228.58L129.97,228.90L129.27,229.86L128.92,231.46L128.92,232.42L129.27,234.02L129.97,234.98L131.01,235.30L131.71,235.30L132.75,234.98L133.45,234.02L133.80,232.42L133.80,231.46L133.45,229.86L132.75,228.90L131.71,228.58L131.01,228.58M216.70,229.86L217.40,229.54L218.44,228.58L218.44,235.30M225.76,228.58L222.27,228.58L221.93,231.46L222.27,231.14L223.32,230.82L224.36,230.82L225.41,231.14L226.11,231.78L226.45,232.74L226.45,233.38L226.11,234.34L225.41,234.98L224.36,235.30L223.32,235.30L222.27,234.98L221.93,234.66L221.58,234.02M229.59,228.58L228.55,228.90L227.85,229.86L227.50,231.46L227.50,232.42L227.85,234.02L228.55,234.98L229.59,235.30L230.29,235.30L231.33,234.98L232.03,234.02L232.38,232.42L232.38,231.46L232.03,229.86L231.33,228.90L230.29,228.58L229.59,228.58M235.51,228.58L234.47,228.90L233.77,229.86L233.42,231.46L233.42,232.42L233.77,234.02L234.47,234.98L235.51,235.30L236.21,235.30L237.25,234.98L237.95,234.02L238.30,232.42L238.30,231.46L237.95,229.86L237.25,228.90L236.21,228.58L235.51,228.58M322.03,230.18L322.03,229.86L322.36,229.22L322.70,228.90L323.36,228.58L324.69,228.58L325.36,228.90L325.69,229.22L326.02,229.86L326.02,230.50L325.69,231.14L325.02,232.10L321.70,235.30L326.35,235.30M329.34,228.58L328.35,228.90L327.68,229.86L327.35,231.46L327.35,232.42L327.68,234.02L328.35,234.98L329.34,235.30L330.01,235.30L331.00,234.98L331.67,234.02L332.00,232.42L332.00,231.46L331.67,229.86L331.00,228.90L330.01,228.58L329.34,228.58M334.99,228.58L334.00,228.90L333.33,229.86L333.00,231.46L333.00,232.42L333.33,234.02L334.00,234.98L334.99,235.30L335.66,235.30L336.65,234.98L337.32,234.02L337.65,232.42L337.65,231.46L337.32,229.86L336.65,228.90L335.66,228.58L334.99,228.58M340.64,228.58L339.64,228.90L338.98,229.86L338.65,231.46L338.65,232.42L338.98,234.02L339.64,234.98L340.64,235.30L341.31,235.30L342.30,234.98L342.97,234.02L343.30,232.42L343.30,231.46L342.97,229.86L342.30,228.90L341.31,228.58L340.64,228.58M427.13,230.18L427.13,229.86L427.46,229.22L427.80,228.90L428.46,228.58L429.79,228.58L430.46,228.90L430.79,229.22L431.12,229.86L431.12,230.50L430.79,231.14L430.12,232.10L426.80,235.30L431.45,235.30M436.44,228.58L433.11,228.58L432.78,231.46L433.11,231.14L434.11,230.82L435.11,230.82L436.10,231.14L436.77,231.78L437.10,232.74L437.10,233.38L436.77,234.34L436.10,234.98L435.11,235.30L434.11,235.30L433.11,234.98L432.78,234.66L432.45,234.02M440.09,228.58L439.10,228.90L438.43,229.86L438.10,231.46L438.10,232.42L438.43,234.02L439.10,234.98L440.09,235.30L440.76,235.30L441.75,234.98L442.42,234.02L442.75,232.42L442.75,231.46L442.42,229.86L441.75,228.90L440.76,228.58L440.09,228.58M445.74,228.58L444.74,228.90L444.08,229.86L443.75,231.46L443.75,232.42L444.08,234.02L444.74,234.98L445.74,235.30L446.41,235.30L447.40,234.98L448.07,234.02L448.40,232.42L448.40,231.46L448.07,229.86L447.40,228.90L446.41,228.58L445.74,228.58M175.79,241.72L175.49,241.06L174.89,240.40L174.29,240.07L173.10,240.07L172.50,240.40L171.90,241.06L171.60,241.72L171.30,242.71L171.30,244.36L171.60,245.35L171.90,246.01L172.50,246.67L173.10,247.00L174.29,247.00L174.89,246.67L175.49,246.01L175.79,245.35M179.08,242.38L178.48,242.71L177.89,243.37L177.59,244.36L177.59,245.02L177.89,246.01L178.48,246.67L179.08,247.00L179.98,247.00L180.58,246.67L181.18,246.01L181.48,245.02L181.48,244.36L181.18,243.37L180.58,242.71L179.98,242.38L179.08,242.38M183.57,242.38L183.57,247.00M183.57,243.70L184.47,242.71L185.07,242.38L185.97,242.38L186.57,242.71L186.86,243.70L186.86,247.00M188.66,242.38L190.46,247.00M192.25,242.38L190.46,247.00M195.25,242.38L194.65,242.71L194.05,243.37L193.75,244.36L193.75,245.02L194.05,246.01L194.65,246.67L195.25,247.00L196.14,247.00L196.74,246.67L197.34,246.01L197.64,245.02L197.64,244.36L197.34,243.37L196.74,242.71L196.14,242.38L195.25,242.38M199.74,240.07L199.74,247.00M201.53,242.38L203.33,247.00M205.12,242.38L203.33,247.00M206.62,244.36L210.21,244.36L210.21,243.70L209.91,243.04L209.61,242.71L209.01,242.38L208.12,242.38L207.52,242.71L206.92,243.37L206.62,244.36L206.62,245.02L206.92,246.01L207.52,246.67L208.12,247.00L209.01,247.00L209.61,246.67L210.21,246.01M215.60,240.07L215.60,247.00M215.60,243.37L215.00,242.71L214.40,242.38L213.50,242.38L212.91,242.71L212.31,243.37L212.01,244.36L212.01,245.02L212.31,246.01L212.91,246.67L213.50,247.00L214.40,247.00L215.00,246.67L215.60,246.01M225.35,243.37L224.79,242.71L224.24,242.38L223.40,242.38L222.84,242.71L222.28,243.37L222.00,244.36L222.00,245.02L222.28,246.01L222.84,246.67L223.40,247.00L224.24,247.00L224.79,246.67L225.35,246.01M227.31,240.07L227.31,247.00M227.31,243.70L228.15,242.71L228.71,242.38L229.54,242.38L230.10,242.71L230.38,243.70L230.38,247.00M235.69,242.38L235.69,247.00M235.69,243.37L235.13,242.71L234.57,242.38L233.73,242.38L233.18,242.71L232.62,243.37L232.34,244.36L232.34,245.02L232.62,246.01L233.18,246.67L233.73,247.00L234.57,247.00L235.13,246.67L235.69,246.01M237.93,242.38L237.93,247.00M237.93,243.70L238.76,242.71L239.32,242.38L240.16,242.38L240.72,242.71L241.00,243.70L241.00,247.00M243.23,242.38L243.23,247.00M243.23,243.70L244.07,242.71L244.63,242.38L245.47,242.38L246.03,242.71L246.31,243.70L246.31,247.00M248.26,244.36L251.62,244.36L251.62,243.70L251.34,243.04L251.06,242.71L250.50,242.38L249.66,242.38L249.10,242.71L248.54,243.37L248.26,244.36L248.26,245.02L248.54,246.01L249.10,246.67L249.66,247.00L250.50,247.00L251.06,246.67L251.62,246.01M253.57,240.07L253.57,247.00M258.60,243.37L258.32,242.71L257.48,242.38L256.64,242.38L255.81,242.71L255.53,243.37L255.81,244.03L256.36,244.36L257.76,244.69L258.32,245.02L258.60,245.68L258.60,246.01L258.32,246.67L257.48,247.00L256.64,247.00L255.81,246.67L255.53,246.01M262.40,240.07L263.96,247.00M265.52,240.07L263.96,247.00M265.52,240.07L267.09,247.00M268.65,240.07L267.09,247.00M273.96,242.38L273.96,247.00M273.96,243.37L273.33,242.71L272.71,242.38L271.77,242.38L271.15,242.71L270.52,243.37L270.21,244.36L270.21,245.02L270.52,246.01L271.15,246.67L271.77,247.00L272.71,247.00L273.33,246.67L273.96,246.01M275.83,242.38L277.71,247.00M279.58,242.38L277.71,247.00M281.14,244.36L284.89,244.36L284.89,243.70L284.58,243.04L284.27,242.71L283.64,242.38L282.70,242.38L282.08,242.71L281.46,243.37L281.14,244.36L281.14,245.02L281.46,246.01L282.08,246.67L282.70,247.00L283.64,247.00L284.27,246.67L284.89,246.01M287.08,240.07L287.08,247.00M287.08,240.07L291.45,247.00M291.45,240.07L291.45,247.00M293.95,242.38L293.95,245.68L294.26,246.67L294.89,247.00L295.82,247.00L296.45,246.67L297.39,245.68M297.39,242.38L297.39,247.00M299.89,242.38L299.89,247.00M299.89,243.70L300.82,242.71L301.45,242.38L302.38,242.38L303.01,242.71L303.32,243.70L303.32,247.00M303.32,243.70L304.26,242.71L304.88,242.38L305.82,242.38L306.45,242.71L306.76,243.70L306.76,247.00M309.26,240.07L309.26,247.00M309.26,243.37L309.88,242.71L310.51,242.38L311.44,242.38L312.07,242.71L312.69,243.37L313.01,244.36L313.01,245.02L312.69,246.01L312.07,246.67L311.44,247.00L310.51,247.00L309.88,246.67L309.26,246.01M314.88,244.36L318.63,244.36L318.63,243.70L318.32,243.04L318.00,242.71L317.38,242.38L316.44,242.38L315.82,242.71L315.19,243.37L314.88,244.36L314.88,245.02L315.19,246.01L315.82,246.67L316.44,247.00L317.38,247.00L318.00,246.67L318.63,246.01M320.82,242.38L320.82,247.00M320.82,244.36L321.13,243.37L321.75,242.71L322.38,242.38L323.31,242.38M328.00,243.37L327.69,242.71L326.75,242.38L325.81,242.38L324.88,242.71L324.56,243.37L324.88,244.03L325.50,244.36L327.06,244.69L327.69,245.02L328.00,245.68L328.00,246.01L327.69,246.67L326.75,247.00L325.81,247.00L324.88,246.67L324.56,246.01M335.12,238.75L334.52,239.41L333.91,240.40L333.30,241.72L333.00,243.37L333.00,244.69L333.30,246.34L333.91,247.66L334.52,248.65L335.12,249.31M340.59,243.37L339.98,242.71L339.37,242.38L338.46,242.38L337.86,242.71L337.25,243.37L336.95,244.36L336.95,245.02L337.25,246.01L337.86,246.67L338.46,247.00L339.37,247.00L339.98,246.67L340.59,246.01M342.71,242.38L342.71,247.00M342.71,243.70L343.62,242.71L344.23,242.38L345.14,242.38L345.75,242.71L346.05,243.70L346.05,247.00M346.05,243.70L346.96,242.71L347.57,242.38L348.48,242.38L349.09,242.71L349.39,243.70L349.39,247.00M351.82,244.03L357.28,244.03M360.32,241.39L360.92,241.06L361.83,240.07L361.83,247.00M365.48,238.75L366.08,239.41L366.69,240.40L367.30,241.72L367.60,243.37L367.60,244.69L367.30,246.34L366.69,247.66L366.08,248.65L365.48,249.31"/>
<path d="M196.32,27.57L194.30,27.57L194.10,29.68L194.30,29.45L194.91,29.21L195.51,29.21L196.12,29.45L196.52,29.91L196.73,30.62L196.73,31.09L196.52,31.80L196.12,32.27L195.51,32.50L194.91,32.50L194.30,32.27L194.10,32.03L193.90,31.56M198.14,28.74L198.14,28.50L198.34,28.04L198.54,27.80L198.95,27.57L199.75,27.57L200.16,27.80L200.36,28.04L200.56,28.50L200.56,28.98L200.36,29.45L199.96,30.15L197.94,32.50L200.76,32.50M202.18,28.74L202.18,28.50L202.38,28.04L202.58,27.80L202.98,27.57L203.79,27.57L204.19,27.80L204.40,28.04L204.60,28.50L204.60,28.98L204.40,29.45L203.99,30.15L201.97,32.50L204.80,32.50M214.35,28.74L214.12,28.27L213.66,27.80L213.20,27.57L212.28,27.57L211.82,27.80L211.36,28.27L211.13,28.74L210.90,29.45L210.90,30.62L211.13,31.32L211.36,31.80L211.82,32.27L212.28,32.50L213.20,32.50L213.66,32.27L214.12,31.80L214.35,31.32M215.96,27.57L215.96,32.50M215.96,27.57L219.17,32.50M219.17,27.57L219.17,32.50M222.16,27.57L221.47,27.80L221.01,28.50L220.78,29.68L220.78,30.39L221.01,31.56L221.47,32.27L222.16,32.50L222.62,32.50L223.31,32.27L223.77,31.56L224.00,30.39L224.00,29.68L223.77,28.50L223.31,27.80L222.62,27.57L222.16,27.57M230.68,27.57L230.21,27.57L229.74,27.80L229.51,28.50L229.51,32.50M228.80,29.21L230.45,29.21M232.09,29.21L232.09,32.50M232.09,30.62L232.33,29.91L232.80,29.45L233.27,29.21L233.98,29.21M236.09,29.21L235.62,29.45L235.15,29.91L234.92,30.62L234.92,31.09L235.15,31.80L235.62,32.27L236.09,32.50L236.80,32.50L237.27,32.27L237.74,31.80L237.98,31.09L237.98,30.62L237.74,29.91L237.27,29.45L236.80,29.21L236.09,29.21M239.62,29.21L239.62,32.50M239.62,30.15L240.33,29.45L240.80,29.21L241.51,29.21L241.98,29.45L242.21,30.15L242.21,32.50M242.21,30.15L242.92,29.45L243.39,29.21L244.09,29.21L244.56,29.45L244.80,30.15L244.80,32.50M250.88,27.57L253.53,27.57L252.08,29.45L252.80,29.45L253.29,29.68L253.53,29.91L253.77,30.62L253.77,31.09L253.53,31.80L253.04,32.27L252.32,32.50L251.60,32.50L250.88,32.27L250.64,32.03L250.40,31.56M259.30,26.62L254.97,34.15M261.22,28.50L261.70,28.27L262.42,27.57L262.42,32.50M266.75,27.57L266.03,27.80L265.55,28.50L265.31,29.68L265.31,30.39L265.55,31.56L266.03,32.27L266.75,32.50L267.23,32.50L267.95,32.27L268.43,31.56L268.67,30.39L268.67,29.68L268.43,28.50L267.95,27.80L267.23,27.57L266.75,27.57M274.20,26.62L269.88,34.15M275.65,28.74L275.65,28.50L275.89,28.04L276.13,27.80L276.61,27.57L277.57,27.57L278.05,27.80L278.29,28.04L278.53,28.50L278.53,28.98L278.29,29.45L277.81,30.15L275.41,32.50L278.77,32.50M281.66,27.57L280.94,27.80L280.46,28.50L280.22,29.68L280.22,30.39L280.46,31.56L280.94,32.27L281.66,32.50L282.14,32.50L282.86,32.27L283.34,31.56L283.58,30.39L283.58,29.68L283.34,28.50L282.86,27.80L282.14,27.57L281.66,27.57M285.27,28.74L285.27,28.50L285.51,28.04L285.75,27.80L286.23,27.57L287.19,27.57L287.67,27.80L287.91,28.04L288.15,28.50L288.15,28.98L287.91,29.45L287.43,30.15L285.02,32.50L288.39,32.50M290.31,27.57L292.96,27.57L291.52,29.45L292.24,29.45L292.72,29.68L292.96,29.91L293.20,30.62L293.20,31.09L292.96,31.80L292.48,32.27L291.76,32.50L291.04,32.50L290.31,32.27L290.07,32.03L289.83,31.56M298.12,27.57L298.12,31.56L298.43,32.27L299.05,32.50L299.66,32.50M297.20,29.21L299.35,29.21M302.74,29.21L302.12,29.45L301.51,29.91L301.20,30.62L301.20,31.09L301.51,31.80L302.12,32.27L302.74,32.50L303.66,32.50L304.28,32.27L304.89,31.80L305.20,31.09L305.20,30.62L304.89,29.91L304.28,29.45L303.66,29.21L302.74,29.21M311.98,27.57L309.66,27.57L309.43,29.68L309.66,29.45L310.36,29.21L311.05,29.21L311.75,29.45L312.21,29.91L312.44,30.62L312.44,31.09L312.21,31.80L311.75,32.27L311.05,32.50L310.36,32.50L309.66,32.27L309.43,32.03L309.20,31.56M317.76,26.62L313.60,34.15M319.15,28.74L319.15,28.50L319.38,28.04L319.62,27.80L320.08,27.57L321.00,27.57L321.47,27.80L321.70,28.04L321.93,28.50L321.93,28.98L321.70,29.45L321.24,30.15L318.92,32.50L322.16,32.50M327.48,26.62L323.32,34.15M328.87,28.74L328.87,28.50L329.10,28.04L329.34,27.80L329.80,27.57L330.72,27.57L331.19,27.80L331.42,28.04L331.65,28.50L331.65,28.98L331.42,29.45L330.96,30.15L328.64,32.50L331.88,32.50M334.66,27.57L333.96,27.80L333.50,28.50L333.27,29.68L333.27,30.39L333.50,31.56L333.96,32.27L334.66,32.50L335.12,32.50L335.82,32.27L336.28,31.56L336.51,30.39L336.51,29.68L336.28,28.50L335.82,27.80L335.12,27.57L334.66,27.57M338.13,28.74L338.13,28.50L338.36,28.04L338.59,27.80L339.06,27.57L339.98,27.57L340.45,27.80L340.68,28.04L340.91,28.50L340.91,28.98L340.68,29.45L340.21,30.15L337.90,32.50L341.14,32.50M344.84,27.57L342.53,30.86L346.00,30.86M344.84,27.57L344.84,32.50" stroke-width="0.8" stroke="#3a3a3a"/>
<path transform="translate(14.5,162.5) rotate(-90)" d="M3.79,-6.99L3.79,0.00M3.79,-3.66L3.19,-4.33L2.59,-4.66L1.70,-4.66L1.10,-4.33L0.50,-3.66L0.20,-2.66L0.20,-2.00L0.50,-1.00L1.10,-0.33L1.70,0.00L2.59,0.00L3.19,-0.33L3.79,-1.00M5.89,-6.99L6.19,-6.66L6.49,-6.99L6.19,-7.33L5.89,-6.99M6.19,-4.66L6.19,0.00M10.38,-6.99L9.78,-6.99L9.18,-6.66L8.88,-5.66L8.88,0.00M7.98,-4.66L10.08,-4.66M13.97,-6.99L13.37,-6.99L12.77,-6.66L12.47,-5.66L12.47,0.00M11.57,-4.66L13.67,-4.66M15.47,-2.66L19.06,-2.66L19.06,-3.33L18.76,-4.00L18.46,-4.33L17.86,-4.66L16.96,-4.66L16.36,-4.33L15.77,-3.66L15.47,-2.66L15.47,-2.00L15.77,-1.00L16.36,-0.33L16.96,0.00L17.86,0.00L18.46,-0.33L19.06,-1.00M21.15,-4.66L21.15,0.00M21.15,-2.66L21.45,-3.66L22.05,-4.33L22.65,-4.66L23.55,-4.66M24.74,-2.66L28.34,-2.66L28.34,-3.33L28.04,-4.00L27.74,-4.33L27.14,-4.66L26.24,-4.66L25.64,-4.33L25.04,-3.66L24.74,-2.66L24.74,-2.00L25.04,-1.00L25.64,-0.33L26.24,0.00L27.14,0.00L27.74,-0.33L28.34,-1.00M30.43,-4.66L30.43,0.00M30.43,-3.33L31.33,-4.33L31.93,-4.66L32.83,-4.66L33.43,-4.33L33.72,-3.33L33.72,0.00M39.41,-3.66L38.81,-4.33L38.21,-4.66L37.32,-4.66L36.72,-4.33L36.12,-3.66L35.82,-2.66L35.82,-2.00L36.12,-1.00L36.72,-0.33L37.32,0.00L38.21,0.00L38.81,-0.33L39.41,-1.00M41.21,-2.66L44.80,-2.66L44.80,-3.33L44.50,-4.00L44.20,-4.33L43.60,-4.66L42.70,-4.66L42.11,-4.33L41.51,-3.66L41.21,-2.66L41.21,-2.00L41.51,-1.00L42.11,-0.33L42.70,0.00L43.60,0.00L44.20,-0.33L44.80,-1.00M53.29,-8.33L52.66,-7.66L52.04,-6.66L51.41,-5.33L51.10,-3.66L51.10,-2.33L51.41,-0.67L52.04,0.67L52.66,1.67L53.29,2.33M55.47,-6.99L55.47,0.00M59.84,-6.99L55.47,-2.33M57.03,-4.00L59.84,0.00M61.71,-8.33L62.34,-7.66L62.96,-6.66L63.59,-5.33L63.90,-3.66L63.90,-2.33L63.59,-0.67L62.96,0.67L62.34,1.67L61.71,2.33"/>
</g>
<line x1="193.6" y1="270" x2="220.6" y2="270" stroke="#333" stroke-width="1.1"/>
<text x="224.6" y="273.0" font-size="8.6" font-weight="bold" font-family="Liberation Sans, sans-serif" fill="#666" textLength="18.2" lengthAdjust="spacingAndGlyphs">Mean</text>
<line x1="302" y1="270" x2="307.6" y2="270" stroke="#ffc000" stroke-width="1.3"/>
<text x="309.4" y="273.0" font-size="8.6" font-weight="bold" font-family="Liberation Sans, sans-serif" fill="#666" textLength="24.8" lengthAdjust="spacingAndGlyphs">StdDev</text>
</svg>
</body></html>
